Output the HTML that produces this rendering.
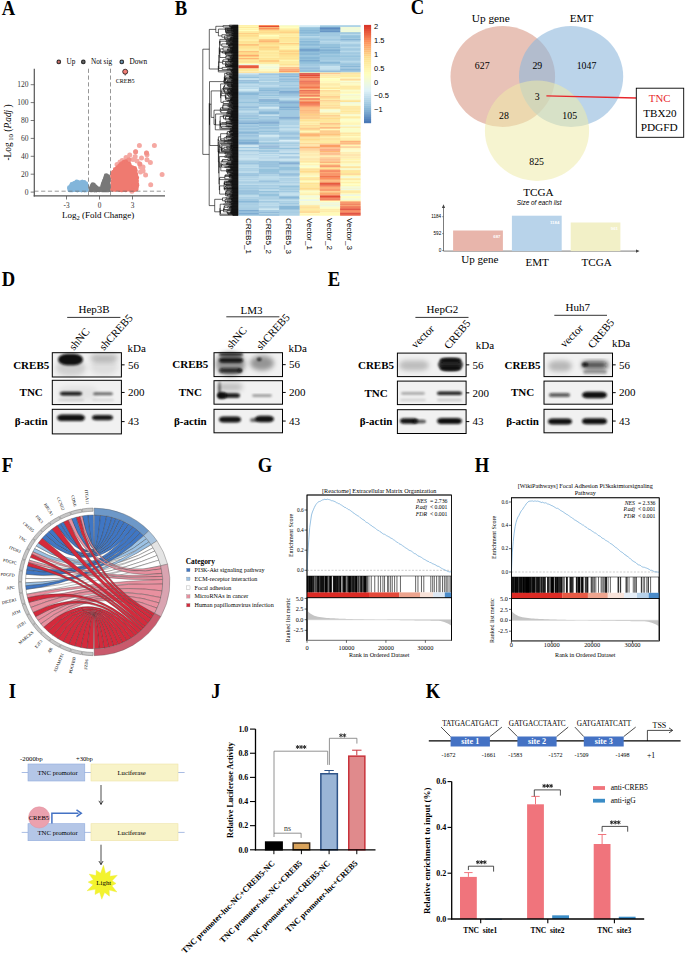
<!DOCTYPE html>
<html><head><meta charset="utf-8"><style>
html,body{margin:0;padding:0;background:#fff;}
svg{display:block;}
</style></head><body>
<svg width="685" height="954" viewBox="0 0 685 954">
<defs><filter id="blur1" x="-50%" y="-50%" width="200%" height="200%"><feGaussianBlur stdDeviation="0.9"/></filter><filter id="blur2" x="-50%" y="-50%" width="200%" height="200%"><feGaussianBlur stdDeviation="2.5"/></filter></defs>
<rect width="685" height="954" fill="#fff"/>
<text transform="translate(1.80 15.20) scale(1 1.1)" font-size="18.6" font-weight="bold" font-family='"Liberation Serif", serif'>A</text>
<circle cx="58.80" cy="61.90" r="2.35" fill="#2a2a2a" stroke="none" stroke-width="1"/>
<line x1="57.45" y1="61.90" x2="60.15" y2="61.90" stroke="#F07E76" stroke-width="0.95"/>
<line x1="58.80" y1="60.55" x2="58.80" y2="63.25" stroke="#F07E76" stroke-width="0.95"/>
<text x="66.40" y="64.20" font-size="7.25" text-anchor="start" font-family='"Liberation Serif", serif'>Up</text>
<circle cx="83.30" cy="61.90" r="2.35" fill="#2a2a2a" stroke="none" stroke-width="1"/>
<line x1="81.95" y1="61.90" x2="84.65" y2="61.90" stroke="#6E6E6E" stroke-width="0.95"/>
<line x1="83.30" y1="60.55" x2="83.30" y2="63.25" stroke="#6E6E6E" stroke-width="0.95"/>
<text x="90.90" y="64.20" font-size="7.25" text-anchor="start" font-family='"Liberation Serif", serif'>Not sig</text>
<circle cx="121.80" cy="61.90" r="2.35" fill="#2a2a2a" stroke="none" stroke-width="1"/>
<line x1="120.45" y1="61.90" x2="123.15" y2="61.90" stroke="#7FB3D8" stroke-width="0.95"/>
<line x1="121.80" y1="60.55" x2="121.80" y2="63.25" stroke="#7FB3D8" stroke-width="0.95"/>
<text x="129.40" y="64.20" font-size="7.25" text-anchor="start" font-family='"Liberation Serif", serif'>Down</text>
<path d="M107.1 182.0h0M92.1 187.1h0M108.2 189.5h0M108.5 189.9h0M105.6 185.6h0M104.3 181.0h0M105.7 180.8h0M107.7 187.7h0M106.9 182.0h0M108.1 181.0h0M107.9 186.4h0M93.9 186.0h0M92.9 184.7h0M108.0 187.1h0M96.0 188.3h0M105.9 184.6h0M92.3 189.8h0M107.8 182.3h0M106.9 187.3h0M103.8 189.1h0M94.0 189.3h0M106.4 184.1h0M91.2 189.4h0M95.1 187.4h0M93.7 185.8h0M107.0 178.1h0M97.0 188.4h0M108.1 184.9h0M90.8 188.7h0M103.1 189.4h0M96.2 190.0h0M103.8 188.5h0M103.8 185.6h0M104.8 188.7h0M106.7 188.1h0M106.0 183.6h0M108.4 188.2h0M103.7 183.7h0M92.0 186.3h0M101.6 188.8h0M106.8 184.9h0M105.0 188.7h0M106.3 180.8h0M105.6 187.7h0M103.3 189.3h0M96.2 187.6h0M108.2 181.8h0M106.2 175.6h0M103.3 183.6h0M105.4 178.6h0M105.0 189.4h0M106.8 176.3h0M107.3 185.8h0M101.8 188.6h0M106.3 187.0h0M107.5 182.0h0M103.5 187.3h0M94.3 188.5h0M108.1 189.7h0M96.3 188.6h0M105.9 180.2h0M105.6 185.3h0M107.5 182.4h0M107.6 176.3h0M105.7 183.4h0M105.7 188.5h0M94.2 187.8h0M107.9 182.9h0M107.9 182.7h0M107.7 188.9h0M105.2 188.5h0M107.2 176.9h0M92.4 186.0h0M105.8 184.2h0M105.9 178.5h0M103.8 187.2h0M106.7 179.7h0M96.2 188.8h0M94.4 190.0h0M106.5 177.0h0M105.5 181.3h0M102.8 188.7h0M107.9 176.7h0M105.6 189.9h0M107.2 176.4h0M91.6 189.3h0M103.1 187.7h0M106.6 187.0h0M103.2 187.9h0M108.2 187.1h0M95.1 188.7h0M103.9 186.7h0M105.2 181.1h0M106.6 188.2h0M103.0 186.5h0M104.3 181.1h0M94.7 189.2h0M103.1 186.4h0M95.0 188.6h0M107.9 183.5h0M91.3 189.0h0M107.5 181.3h0M93.3 186.3h0M108.3 189.2h0M91.8 188.6h0M108.0 178.7h0M108.1 187.3h0M104.5 183.0h0M108.5 189.3h0M92.5 188.4h0M104.6 184.4h0M95.0 189.7h0M107.0 188.2h0M103.9 187.6h0M105.1 184.4h0M105.1 180.5h0M102.3 189.8h0M103.9 188.8h0M92.2 188.1h0M103.5 185.4h0M103.3 183.5h0M107.0 189.1h0M106.9 181.6h0M105.0 179.6h0M107.3 188.4h0M104.8 183.1h0M105.6 183.4h0M93.7 186.4h0M106.4 179.2h0M107.9 184.8h0M103.8 188.5h0M93.1 186.2h0M94.5 186.5h0M107.9 185.1h0M103.5 185.6h0M107.0 181.2h0M105.4 185.0h0M105.9 187.1h0M105.5 188.3h0M107.7 184.6h0M104.9 181.3h0M103.8 189.9h0M95.8 189.5h0M101.0 188.6h0M93.6 186.4h0M105.2 182.2h0M95.2 188.3h0M107.0 180.1h0M100.4 189.4h0M91.4 189.2h0M104.9 180.8h0M95.4 189.9h0M103.3 184.1h0M106.1 182.7h0M102.0 189.9h0M93.2 186.6h0M105.7 187.3h0M107.7 183.8h0M105.9 179.6h0M104.7 181.3h0M107.0 176.4h0M105.4 178.1h0M93.3 187.5h0M105.4 184.8h0M90.7 189.9h0M107.5 183.4h0M102.7 185.6h0M105.6 183.9h0M107.1 181.4h0M104.3 187.3h0M108.2 186.8h0M105.4 184.2h0M93.4 186.5h0M106.8 183.2h0M93.1 185.7h0M103.4 187.5h0M94.0 189.2h0M96.4 188.9h0M92.7 189.6h0M92.9 188.6h0M106.9 189.9h0M105.2 184.0h0M92.7 187.4h0M95.7 188.5h0M105.5 177.8h0M108.3 189.1h0M102.6 186.1h0M107.8 184.0h0M104.1 186.3h0M99.2 189.9h0M105.6 187.8h0M100.7 188.6h0M103.6 188.5h0M103.7 184.0h0M106.9 189.5h0M102.5 188.0h0M94.5 186.2h0M100.7 188.6h0M92.3 186.9h0M106.6 187.2h0M91.1 188.5h0M107.3 189.7h0M95.8 188.8h0M106.6 177.9h0M105.6 180.3h0M106.3 189.9h0M93.9 188.2h0M106.7 188.0h0M103.0 189.1h0M102.5 186.9h0M106.4 183.8h0M107.2 185.0h0M92.1 189.7h0M95.0 187.0h0M93.9 188.5h0M97.4 188.9h0M104.6 182.8h0M107.6 177.6h0M104.7 186.9h0M95.2 187.0h0M91.8 188.6h0M92.1 187.3h0M93.4 185.4h0M105.5 186.8h0M106.5 177.1h0M91.1 189.9h0M104.2 186.0h0M108.2 184.2h0M106.1 183.9h0M106.5 181.9h0M106.0 178.1h0M97.6 188.9h0M107.4 180.4h0M104.3 185.9h0M92.0 188.2h0M103.6 185.0h0M106.1 178.4h0M108.1 179.5h0M102.6 188.8h0M102.5 189.3h0M106.1 178.5h0M93.5 185.0h0M106.6 183.5h0M101.6 189.3h0M107.5 186.6h0M95.5 187.4h0M106.3 180.7h0M107.9 180.0h0M96.7 188.3h0M103.0 185.3h0M107.9 187.4h0M104.0 183.0h0M92.3 185.6h0M104.4 182.2h0M93.4 188.0h0M106.2 175.8h0M104.8 180.9h0M105.7 187.4h0M103.2 184.3h0M105.5 187.0h0" stroke="#787878" stroke-width="4.8" stroke-linecap="round" fill="none"/>
<path d="M80.9 183.5h0M79.3 189.5h0M81.2 185.1h0M80.2 184.9h0M85.8 189.9h0M69.4 187.6h0M73.8 187.7h0M78.5 185.6h0M75.4 184.1h0M83.3 188.6h0M73.7 184.8h0M79.9 188.0h0M81.3 186.1h0M83.3 182.7h0M85.8 183.6h0M77.5 182.5h0M79.0 182.7h0M80.1 183.8h0M72.7 185.6h0M75.3 183.7h0M85.0 184.1h0M77.4 190.0h0M72.2 188.9h0M77.5 185.0h0M83.4 184.9h0M80.7 186.8h0M73.6 189.5h0M84.5 190.0h0M76.7 188.6h0M81.9 183.0h0M75.1 187.9h0M74.2 185.9h0M78.3 188.4h0M83.2 187.8h0M75.9 188.3h0M83.8 188.0h0M86.1 184.9h0M81.5 183.6h0M79.2 183.4h0M75.7 184.6h0M80.7 188.4h0M75.2 186.9h0M75.0 183.9h0M85.2 184.2h0M82.2 183.3h0M82.2 186.1h0M81.1 183.0h0M75.0 185.2h0M76.0 184.2h0M78.4 189.6h0M72.3 189.0h0M74.4 187.9h0M70.5 189.9h0M76.5 189.7h0M72.6 185.0h0M81.6 183.0h0M73.6 187.3h0M86.0 184.2h0M71.9 184.5h0M80.2 184.7h0M80.4 183.3h0M79.9 189.0h0M84.3 186.8h0M77.8 186.3h0M70.6 188.6h0M81.3 185.4h0M80.8 185.1h0M75.6 183.5h0M79.6 186.4h0M80.1 185.3h0M79.5 186.6h0M77.2 189.9h0M82.2 184.2h0M82.1 189.9h0M75.9 188.9h0M70.8 189.9h0M77.6 183.5h0M84.0 187.0h0M85.8 188.5h0M83.3 185.8h0M84.6 187.5h0M73.1 188.4h0M76.9 186.1h0M84.5 183.2h0M73.7 187.0h0M83.1 185.7h0M73.0 188.3h0M84.3 188.1h0M78.7 189.2h0M83.2 182.8h0M84.5 188.6h0M75.7 188.7h0M79.9 189.2h0M69.8 189.9h0M72.3 186.8h0M84.7 187.7h0M72.1 187.2h0M74.8 184.2h0M80.1 183.9h0M79.7 187.4h0M81.3 185.5h0M85.9 186.7h0M75.1 183.2h0M82.1 184.6h0M74.2 185.0h0M71.2 186.9h0M76.4 188.5h0M76.1 185.4h0M77.9 189.5h0M74.9 187.5h0M72.8 186.4h0M73.8 188.9h0M73.8 188.8h0M81.0 185.4h0M85.8 184.8h0M82.3 186.6h0M76.8 182.0h0M76.3 183.9h0M76.7 189.6h0M73.9 187.4h0M80.9 183.6h0M76.1 182.6h0M85.1 183.6h0M76.3 184.4h0M83.7 188.7h0M79.4 186.1h0M70.3 189.1h0M75.4 187.6h0M80.9 184.4h0M85.1 189.6h0M77.2 184.6h0M77.1 184.2h0M80.9 186.6h0M86.5 189.8h0M83.8 187.0h0M81.5 190.0h0M75.9 187.1h0M72.5 189.9h0M72.4 184.6h0M82.2 182.2h0M71.6 187.0h0M80.0 187.8h0M73.2 188.4h0M82.0 188.1h0M86.0 189.1h0M78.4 186.0h0M70.6 188.2h0M74.1 185.8h0M70.8 186.3h0M78.0 184.0h0M82.9 183.6h0M72.5 185.3h0M78.8 185.4h0M84.2 182.4h0M84.2 182.8h0M86.5 186.0h0M76.0 186.7h0M84.5 189.7h0M71.3 188.5h0M82.1 187.6h0M71.4 186.0h0M74.1 189.7h0M80.4 188.7h0M70.6 189.3h0M74.6 185.7h0M80.6 189.0h0M86.0 186.3h0M77.8 189.2h0M75.8 184.0h0M82.2 183.7h0M75.3 185.1h0M77.3 184.5h0M76.5 185.3h0M69.4 188.6h0M78.6 184.9h0M75.4 184.2h0M77.5 183.5h0M82.4 185.6h0M79.5 189.7h0M75.3 186.6h0M75.3 184.1h0M79.8 186.5h0M74.3 185.7h0M78.0 187.9h0M73.2 183.8h0M83.2 185.1h0M84.4 184.9h0M73.8 187.3h0M70.1 189.9h0M83.9 184.3h0M74.4 188.5h0M83.1 187.0h0M69.5 188.0h0M78.7 189.4h0M85.8 187.9h0M82.1 185.1h0M81.1 189.9h0M83.0 185.2h0M82.4 184.7h0M76.8 185.2h0M82.1 182.1h0M70.6 188.6h0M80.8 186.2h0M74.2 189.6h0M78.9 189.3h0M72.4 185.0h0M78.4 188.6h0M70.8 188.9h0M76.5 184.7h0M81.0 189.4h0M77.6 187.4h0M75.7 188.1h0M70.4 187.8h0M71.6 186.5h0M72.2 184.4h0M79.4 185.9h0M75.7 186.4h0M84.1 184.5h0M79.3 185.6h0M81.4 183.5h0" stroke="#82B5DA" stroke-width="4.8" stroke-linecap="round" fill="none"/>
<path d="M118.9 182.2h0M126.6 168.5h0M114.1 184.9h0M121.8 181.8h0M123.1 178.9h0M126.2 189.3h0M134.8 174.2h0M124.4 167.7h0M120.0 185.6h0M113.4 181.3h0M126.4 177.0h0M120.7 165.4h0M135.8 183.2h0M131.7 167.3h0M117.4 176.5h0M127.4 164.5h0M131.2 177.9h0M134.5 187.8h0M129.4 171.6h0M135.8 181.8h0M119.6 185.9h0M130.3 168.7h0M125.7 168.4h0M119.7 168.3h0M115.7 175.1h0M119.2 169.3h0M119.3 175.8h0M133.6 185.8h0M127.4 176.8h0M130.5 176.5h0M128.7 187.7h0M131.5 168.5h0M113.8 188.2h0M121.4 183.8h0M118.2 174.1h0M121.6 182.1h0M135.6 175.7h0M126.4 171.1h0M118.2 188.5h0M115.2 188.3h0M126.4 164.5h0M113.2 177.6h0M136.6 180.9h0M133.5 183.8h0M125.3 163.2h0M125.4 166.4h0M125.4 171.3h0M124.7 166.7h0M129.8 173.1h0M124.4 163.3h0M124.4 177.2h0M136.3 177.3h0M115.8 169.7h0M120.7 181.4h0M135.5 189.3h0M135.8 187.8h0M133.5 188.1h0M113.0 175.2h0M127.0 180.9h0M127.5 178.8h0M125.2 188.8h0M133.8 188.8h0M132.8 181.0h0M125.2 177.8h0M131.1 184.4h0M132.0 189.3h0M132.9 172.8h0M120.7 171.1h0M112.9 183.3h0M118.9 178.0h0M125.4 170.7h0M129.0 174.2h0M118.2 186.6h0M118.7 174.9h0M131.7 170.7h0M118.3 180.0h0M118.9 176.2h0M118.7 186.4h0M119.9 170.6h0M130.3 180.5h0M131.9 176.7h0M114.4 183.1h0M118.5 167.3h0M122.7 189.7h0M121.6 171.3h0M134.8 189.7h0M122.0 164.9h0M131.8 183.7h0M120.8 183.9h0M121.8 169.3h0M127.0 182.5h0M124.2 184.7h0M112.8 175.5h0M117.5 186.5h0M136.0 188.0h0M120.9 188.0h0M116.0 181.7h0M115.8 180.7h0M134.1 182.1h0M135.8 174.2h0M121.6 164.5h0M119.2 188.2h0M120.0 166.3h0M115.5 176.3h0M125.7 177.5h0M131.2 176.3h0M120.1 183.1h0M135.1 175.6h0M116.4 170.6h0M126.4 169.5h0M131.9 189.2h0M123.8 178.5h0M133.2 174.5h0M117.2 188.4h0M131.2 172.6h0M116.7 182.4h0M117.9 184.2h0M124.7 179.9h0M123.9 166.3h0M127.7 171.7h0M124.1 179.1h0M120.3 171.3h0M134.2 177.8h0M122.7 176.7h0M123.8 170.6h0M135.4 185.7h0M125.0 189.6h0M119.6 166.0h0M130.2 167.8h0M126.8 165.6h0M114.9 180.9h0M121.0 177.2h0M124.7 187.8h0M125.1 172.0h0M112.5 175.4h0M119.1 177.7h0M128.0 174.4h0M114.7 175.4h0M124.3 179.6h0M123.3 163.5h0M132.1 167.8h0M132.8 184.1h0M118.7 187.2h0M124.8 173.4h0M126.1 188.4h0M124.5 175.0h0M119.6 185.4h0M124.8 170.9h0M132.9 184.3h0M136.5 187.6h0M129.3 184.1h0M129.9 184.5h0M132.5 169.8h0M118.5 187.7h0M113.1 175.8h0M120.9 184.0h0M127.5 187.4h0M135.3 179.7h0M114.1 180.3h0M115.2 189.5h0M133.8 170.0h0M117.1 181.1h0M131.1 189.6h0M127.8 164.6h0M133.8 183.3h0M131.7 186.3h0M126.4 188.4h0M128.2 175.3h0M121.9 171.2h0M132.0 167.6h0M128.5 183.5h0M129.5 176.0h0M120.2 168.9h0M117.1 179.8h0M129.3 188.3h0M120.6 187.9h0M134.8 169.4h0M135.8 179.0h0M136.1 183.5h0M120.7 169.1h0M125.3 175.1h0M113.4 186.0h0M125.6 174.7h0M130.7 168.2h0M117.4 177.8h0M118.4 170.5h0M121.2 176.3h0M135.7 179.5h0M122.7 172.8h0M118.3 174.7h0M123.1 180.9h0M131.2 177.1h0M128.2 188.2h0M134.6 168.3h0M125.8 189.9h0M125.4 166.5h0M116.2 177.0h0M119.2 181.9h0M130.3 170.3h0M131.3 179.8h0M129.8 174.2h0M123.1 164.1h0M124.1 188.7h0M129.5 173.7h0M115.6 173.3h0M126.5 182.6h0M122.4 179.8h0M129.2 178.9h0M113.6 181.6h0M114.3 172.3h0M124.0 164.1h0M135.9 185.7h0M124.4 178.0h0M120.2 189.5h0M115.4 169.8h0M117.9 186.1h0M125.0 172.9h0M122.3 186.7h0M118.8 183.9h0M129.8 174.0h0M121.5 173.7h0M123.6 170.2h0M127.8 172.9h0M119.9 183.4h0M123.7 174.7h0M134.0 174.2h0M121.7 187.0h0M136.4 183.8h0M122.3 180.5h0M130.7 169.6h0M130.2 188.5h0M128.6 180.4h0M123.2 179.9h0M118.0 183.3h0M125.7 189.4h0M120.9 181.6h0M112.9 173.1h0M131.3 168.5h0M127.5 167.4h0M122.3 189.8h0M117.3 187.5h0M114.0 177.9h0M132.6 185.3h0M122.1 178.1h0M129.9 183.1h0M130.8 177.8h0M118.7 181.5h0M126.3 176.8h0M131.6 170.4h0M130.3 188.6h0M119.2 177.4h0M125.4 175.4h0M116.6 179.1h0M134.4 180.2h0M119.6 184.4h0M122.8 165.2h0M127.3 174.4h0M125.5 189.7h0M126.5 188.7h0M121.1 183.0h0M129.5 181.0h0M132.8 172.0h0M119.2 171.4h0M125.7 161.7h0M121.7 180.1h0M116.1 170.0h0M133.9 188.1h0M132.0 182.4h0M119.0 175.2h0M132.6 185.9h0M117.7 181.4h0M129.6 170.8h0M124.1 170.1h0M123.3 184.6h0M126.5 178.7h0M118.0 179.0h0M116.2 189.0h0M120.9 173.8h0M123.1 185.0h0M134.9 180.6h0M116.7 171.3h0M129.8 167.3h0M134.1 186.3h0M118.0 171.6h0M118.1 181.8h0M113.7 181.2h0M114.0 185.4h0M125.8 177.9h0M121.2 189.6h0M127.2 186.0h0M113.0 181.2h0M116.8 168.9h0M128.8 181.2h0M120.4 174.6h0M119.6 177.3h0M121.2 171.4h0M118.6 169.5h0M120.1 178.2h0M133.2 174.6h0M125.0 170.0h0M134.2 182.9h0M127.8 180.1h0M129.5 175.5h0M122.6 172.3h0M124.9 174.6h0M125.5 176.5h0M131.8 186.9h0M132.0 179.0h0M119.5 166.5h0M133.8 185.2h0M129.2 181.1h0M130.7 174.2h0M122.2 177.0h0M134.1 189.7h0M135.0 185.2h0M136.3 176.8h0M125.1 170.0h0M133.6 176.0h0M116.1 172.3h0M128.2 164.2h0M126.3 188.2h0M123.2 183.1h0M127.0 177.9h0M116.7 174.5h0M134.6 180.6h0M117.8 174.0h0M125.8 170.8h0M126.7 179.3h0M128.6 167.2h0M114.3 183.1h0M120.7 188.8h0M126.2 163.9h0M128.1 168.6h0M132.5 182.0h0M113.3 184.1h0M124.1 188.8h0M120.4 168.5h0M128.1 178.8h0M126.3 172.1h0M132.7 168.3h0M130.0 166.4h0M124.6 189.1h0M118.4 169.1h0M135.0 180.6h0M118.3 169.4h0M133.2 181.3h0M136.5 180.4h0M127.9 172.1h0M130.1 175.3h0M113.9 175.3h0M121.9 176.4h0M120.6 165.3h0M127.0 187.5h0M116.9 175.5h0M124.7 183.2h0M126.3 167.9h0M117.1 182.0h0M114.4 186.1h0M124.0 185.5h0M127.7 182.6h0M131.1 181.9h0M113.8 184.9h0M134.0 172.0h0M133.2 178.4h0M115.3 169.3h0M117.4 179.6h0M125.6 171.9h0M116.2 177.5h0M124.9 172.3h0M124.1 162.2h0M127.6 166.6h0M134.2 178.0h0M122.1 176.7h0M121.9 181.5h0M121.6 181.5h0M119.5 169.5h0M130.9 183.7h0M129.6 187.8h0M117.0 172.4h0M133.4 183.2h0M115.3 189.4h0M130.6 186.1h0M121.4 178.6h0M136.0 187.0h0M126.6 186.8h0M137.0 185.3h0M128.6 188.8h0M116.0 172.7h0M126.3 164.8h0M127.9 169.1h0M120.4 178.6h0M117.2 174.0h0M133.5 189.6h0M118.9 171.6h0M129.5 166.5h0M126.1 170.8h0M119.2 189.7h0M130.0 167.7h0M124.3 182.0h0M133.5 188.1h0M122.8 170.2h0M122.2 170.1h0M130.7 174.4h0M129.3 165.4h0M131.7 189.0h0M117.5 178.9h0M122.6 166.3h0M130.4 177.6h0M129.0 189.1h0M113.4 174.3h0M132.7 180.8h0M125.9 185.8h0M121.6 164.3h0M125.5 164.7h0M127.3 184.9h0M120.9 164.5h0M128.9 182.1h0M134.2 177.1h0M126.8 186.0h0M129.1 189.3h0M119.5 183.5h0M128.0 174.6h0M112.8 174.8h0M119.0 178.4h0M125.0 175.8h0M127.4 180.8h0M136.8 184.0h0M119.6 174.2h0M124.9 184.3h0M122.2 187.7h0M124.4 172.5h0M124.3 171.4h0M122.3 163.3h0M129.1 165.4h0M116.2 173.3h0M127.3 183.1h0M123.4 169.6h0M121.5 186.8h0M134.2 175.0h0M134.3 182.7h0M114.1 180.6h0M117.7 173.9h0M135.4 170.7h0M116.0 183.6h0M128.5 174.6h0M134.6 183.9h0M127.3 174.6h0M119.9 187.6h0M117.6 179.7h0M114.3 187.8h0M135.7 178.9h0M120.3 182.0h0M134.6 184.1h0M113.5 175.6h0M115.9 176.8h0M135.8 186.1h0M118.6 177.0h0M120.3 165.9h0M130.7 183.0h0M120.7 173.2h0M129.6 182.1h0M123.9 164.4h0M132.7 175.4h0M128.3 171.6h0M121.5 166.1h0M136.4 178.6h0M115.7 181.4h0M127.1 178.8h0M131.4 178.6h0M134.0 189.1h0M122.5 179.8h0M121.7 172.9h0M121.5 179.8h0M121.1 171.2h0M133.2 184.2h0M129.1 185.5h0M122.0 179.6h0M118.7 170.1h0M115.0 184.2h0M135.1 169.8h0M121.8 164.4h0M116.0 179.5h0M118.7 183.0h0M118.0 186.5h0M121.1 174.7h0M117.4 169.4h0M122.9 169.1h0M128.2 184.3h0M120.5 166.6h0M131.9 178.5h0M112.9 174.1h0M127.2 170.3h0M113.4 173.2h0M121.2 189.2h0M121.3 187.8h0M133.8 177.7h0M115.6 184.4h0M114.7 177.2h0M122.6 165.5h0M136.8 177.8h0M134.5 188.7h0M131.1 179.7h0M124.1 183.6h0M128.9 165.6h0M125.5 173.0h0M125.1 181.7h0M129.4 177.5h0M131.8 184.9h0M123.3 174.5h0M126.3 169.1h0M131.6 170.6h0M133.2 184.3h0M112.5 176.9h0M114.8 186.6h0M131.3 178.1h0M128.8 173.0h0M125.3 166.9h0M123.8 168.5h0M129.1 164.1h0M125.6 177.9h0M112.6 189.6h0M133.0 172.0h0M116.4 185.0h0M131.0 184.7h0M118.2 187.1h0M134.8 174.7h0M115.6 171.2h0M118.4 179.8h0M130.1 183.5h0M123.2 174.2h0M124.0 171.7h0M123.7 180.9h0M129.9 170.5h0M126.4 165.2h0M113.6 172.2h0M114.4 173.3h0M135.6 185.3h0M121.5 170.0h0M115.9 178.1h0M133.1 172.1h0M112.9 183.2h0M118.2 182.0h0M117.1 170.1h0M131.3 182.4h0M119.9 174.1h0M121.2 174.7h0M131.9 168.6h0M132.4 187.7h0M127.2 188.8h0M119.9 173.8h0M133.1 180.7h0M117.5 187.0h0M133.7 175.8h0M119.7 173.1h0M135.6 178.3h0M118.5 182.2h0M120.8 167.6h0M122.6 176.8h0M122.3 177.4h0M129.0 170.7h0M124.5 172.0h0M119.8 169.6h0M134.0 171.4h0M123.4 176.2h0M131.7 177.1h0M124.6 171.0h0M130.9 175.6h0M131.9 185.2h0M134.4 182.1h0M129.0 174.4h0M125.6 177.8h0M125.4 184.8h0M130.9 178.9h0M127.2 187.3h0M113.7 174.8h0M121.7 188.5h0M116.5 177.3h0M116.0 182.9h0M124.5 182.3h0M120.0 186.6h0M130.5 186.5h0M131.5 169.0h0M114.5 181.6h0M135.4 176.3h0M113.3 174.9h0M134.2 188.1h0M115.5 173.9h0M119.2 180.5h0M115.2 170.7h0M122.6 174.7h0M123.2 178.3h0M135.5 188.0h0M134.7 185.0h0M118.1 168.1h0M123.8 179.7h0M127.4 171.1h0M117.6 182.2h0M118.3 168.0h0M131.8 187.0h0M136.2 189.2h0M130.1 174.7h0M130.8 183.3h0M125.0 168.9h0M125.4 180.2h0M120.4 179.5h0M116.1 189.2h0M117.7 167.6h0M136.0 188.6h0M135.2 185.4h0M133.3 184.8h0M126.4 163.2h0M130.4 185.2h0M114.0 182.2h0M124.5 186.9h0M129.1 180.3h0M129.5 171.7h0M134.6 182.0h0M132.2 174.4h0M117.5 174.1h0M129.2 176.9h0M122.2 168.1h0M118.1 167.4h0M122.7 181.2h0M134.9 180.6h0M113.0 186.2h0M127.4 182.2h0M127.5 171.3h0M129.2 187.4h0M128.9 178.6h0M132.3 188.8h0M132.4 189.7h0M127.6 179.5h0M133.6 178.8h0M132.9 179.1h0M136.6 178.2h0M133.4 183.4h0M134.5 172.5h0M121.1 189.8h0M122.2 169.0h0M120.0 172.5h0M115.5 178.3h0M122.9 184.3h0M120.8 189.3h0M117.3 176.4h0M119.9 187.0h0M119.6 175.2h0M125.3 168.7h0M125.6 162.9h0M121.1 169.3h0M132.5 183.3h0" stroke="#EF7A70" stroke-width="4.8" stroke-linecap="round" fill="none"/>
<path d="M139.4 145.4h0M154.4 145.4h0M135.6 151.8h0M146.5 153.1h0M147.0 154.8h0M129.7 155.1h0M135.2 156.5h0M141.5 158.0h0M128.9 159.8h0M147.0 159.8h0M150.4 162.4h0M122.1 160.5h0M139.8 163.9h0M140.6 166.9h0M143.1 170.8h0M145.6 175.0h0M162.1 174.4h0M150.7 184.7h0M133.9 185.7h0M131.9 191.2h0M137.0 161.0h0M126.0 157.5h0M143.0 167.0h0M140.5 172.0h0M133.0 159.5h0M117.0 164.5h0M120.0 162.0h0" stroke="#EF7A70" stroke-width="5.0" stroke-linecap="round" fill="none" stroke-opacity="0.65"/>
<path d="M128.9 159.8h0M135.6 151.8h0M139.8 163.9h0M146.5 153.1h0" stroke="#EF7A70" stroke-width="5.0" stroke-linecap="round" fill="none" stroke-opacity="0.5"/>
<line x1="88.50" y1="68.70" x2="88.50" y2="195.50" stroke="#6a6a6a" stroke-width="0.7" stroke-dasharray="4.2,2.6"/>
<line x1="110.50" y1="68.70" x2="110.50" y2="195.50" stroke="#6a6a6a" stroke-width="0.7" stroke-dasharray="4.2,2.6"/>
<line x1="34.30" y1="191.20" x2="165.00" y2="191.20" stroke="#6a6a6a" stroke-width="0.7" stroke-dasharray="4.2,2.6"/>
<line x1="125.20" y1="72.00" x2="125.20" y2="75.60" stroke="#000" stroke-width="0.6"/>
<circle cx="125.20" cy="71.70" r="2.50" fill="#F07E76" stroke="#000" stroke-width="0.7"/>
<text x="125.20" y="82.70" font-size="6.1" text-anchor="middle" font-family='"Liberation Serif", serif'>CREB5</text>
<line x1="34.30" y1="68.70" x2="34.30" y2="196.50" stroke="#555" stroke-width="1.2"/>
<line x1="33.70" y1="195.90" x2="165.00" y2="195.90" stroke="#555" stroke-width="1.2"/>
<line x1="30.70" y1="192.10" x2="34.30" y2="192.10" stroke="#555" stroke-width="0.8"/>
<text x="28.40" y="194.70" font-size="7.5" text-anchor="end" font-family='"Liberation Serif", serif' fill="#333">0</text>
<line x1="30.70" y1="174.20" x2="34.30" y2="174.20" stroke="#555" stroke-width="0.8"/>
<text x="28.40" y="176.80" font-size="7.5" text-anchor="end" font-family='"Liberation Serif", serif' fill="#333">20</text>
<line x1="30.70" y1="156.30" x2="34.30" y2="156.30" stroke="#555" stroke-width="0.8"/>
<text x="28.40" y="158.90" font-size="7.5" text-anchor="end" font-family='"Liberation Serif", serif' fill="#333">40</text>
<line x1="30.70" y1="138.40" x2="34.30" y2="138.40" stroke="#555" stroke-width="0.8"/>
<text x="28.40" y="141.00" font-size="7.5" text-anchor="end" font-family='"Liberation Serif", serif' fill="#333">60</text>
<line x1="30.70" y1="120.50" x2="34.30" y2="120.50" stroke="#555" stroke-width="0.8"/>
<text x="28.40" y="123.10" font-size="7.5" text-anchor="end" font-family='"Liberation Serif", serif' fill="#333">80</text>
<line x1="30.70" y1="102.60" x2="34.30" y2="102.60" stroke="#555" stroke-width="0.8"/>
<text x="28.40" y="105.20" font-size="7.5" text-anchor="end" font-family='"Liberation Serif", serif' fill="#333">100</text>
<line x1="30.70" y1="84.70" x2="34.30" y2="84.70" stroke="#555" stroke-width="0.8"/>
<text x="28.40" y="87.30" font-size="7.5" text-anchor="end" font-family='"Liberation Serif", serif' fill="#333">120</text>
<line x1="66.50" y1="196.00" x2="66.50" y2="199.50" stroke="#555" stroke-width="0.8"/>
<text x="66.50" y="208.00" font-size="7.3" text-anchor="middle" font-family='"Liberation Serif", serif' fill="#333">-3</text>
<line x1="99.50" y1="196.00" x2="99.50" y2="199.50" stroke="#555" stroke-width="0.8"/>
<text x="99.50" y="208.00" font-size="7.3" text-anchor="middle" font-family='"Liberation Serif", serif' fill="#333">0</text>
<line x1="132.50" y1="196.00" x2="132.50" y2="199.50" stroke="#555" stroke-width="0.8"/>
<text x="132.50" y="208.00" font-size="7.3" text-anchor="middle" font-family='"Liberation Serif", serif' fill="#333">3</text>
<text x="98.1" y="218" font-size="9" text-anchor="middle" font-family='"Liberation Serif", serif'>Log<tspan font-size="6.6" dy="2.2">2</tspan><tspan dy="-2.2"> (Fold Change)</tspan></text>
<text x="10.7" y="132.5" font-size="9.3" text-anchor="middle" font-family='"Liberation Serif", serif' transform="rotate(-90 10.7 132.5)">-Log<tspan font-size="6.8" dy="2.2"> 10</tspan><tspan dy="-2.2">  (</tspan><tspan font-style="italic">P.adj</tspan> )</text>
<text transform="translate(174.80 14.70) scale(1 1.1)" font-size="18.6" font-weight="bold" font-family='"Liberation Serif", serif'>B</text>
<path d="M238.4 25.00h20.5v1.20h-20.5zM238.4 29.01h20.5v1.20h-20.5zM238.4 39.04h20.5v1.20h-20.5zM238.4 40.05h20.5v1.20h-20.5zM258.8 34.03h20.5v1.20h-20.5zM258.8 37.04h20.5v1.20h-20.5zM258.8 38.04h20.5v1.20h-20.5zM258.8 51.08h20.5v1.20h-20.5zM258.8 57.10h20.5v1.20h-20.5zM258.8 62.12h20.5v1.20h-20.5zM279.1 28.01h20.5v1.20h-20.5zM279.1 34.03h20.5v1.20h-20.5zM279.1 36.03h20.5v1.20h-20.5zM279.1 42.05h20.5v1.20h-20.5zM279.1 47.07h20.5v1.20h-20.5zM279.1 66.13h20.5v1.20h-20.5zM299.4 122.31h20.5v1.20h-20.5zM299.4 130.33h20.5v1.20h-20.5zM299.4 156.41h20.5v1.20h-20.5zM299.4 163.44h20.5v1.20h-20.5zM299.4 191.52h20.5v1.20h-20.5zM319.8 72.15h20.5v1.20h-20.5zM319.8 76.16h20.5v1.20h-20.5zM319.8 77.16h20.5v1.20h-20.5zM319.8 81.18h20.5v1.20h-20.5zM319.8 86.19h20.5v1.20h-20.5zM319.8 103.25h20.5v1.20h-20.5zM319.8 114.28h20.5v1.20h-20.5zM319.8 116.29h20.5v1.20h-20.5zM319.8 128.33h20.5v1.20h-20.5zM319.8 137.35h20.5v1.20h-20.5zM319.8 211.59h20.5v1.20h-20.5zM340.1 80.17h20.5v1.20h-20.5zM340.1 85.19h20.5v1.20h-20.5zM340.1 91.21h20.5v1.20h-20.5zM340.1 95.22h20.5v1.20h-20.5zM340.1 99.23h20.5v1.20h-20.5zM340.1 123.31h20.5v1.20h-20.5zM340.1 134.34h20.5v1.20h-20.5zM340.1 151.40h20.5v1.20h-20.5zM340.1 160.43h20.5v1.20h-20.5zM340.1 167.45h20.5v1.20h-20.5zM340.1 181.49h20.5v1.20h-20.5zM340.1 182.50h20.5v1.20h-20.5zM340.1 187.51h20.5v1.20h-20.5zM340.1 200.55h20.5v1.20h-20.5z" fill="#fff1aa"/>
<path d="M238.4 26.00h20.5v1.20h-20.5zM258.8 36.03h20.5v1.20h-20.5zM258.8 69.14h20.5v1.20h-20.5zM279.1 46.07h20.5v1.20h-20.5zM279.1 48.07h20.5v1.20h-20.5zM299.4 124.31h20.5v1.20h-20.5zM299.4 131.33h20.5v1.20h-20.5zM299.4 164.44h20.5v1.20h-20.5zM299.4 179.49h20.5v1.20h-20.5zM299.4 180.49h20.5v1.20h-20.5zM319.8 85.19h20.5v1.20h-20.5zM319.8 129.33h20.5v1.20h-20.5zM319.8 203.56h20.5v1.20h-20.5zM319.8 209.58h20.5v1.20h-20.5zM340.1 84.19h20.5v1.20h-20.5zM340.1 89.20h20.5v1.20h-20.5zM340.1 92.21h20.5v1.20h-20.5zM340.1 105.25h20.5v1.20h-20.5zM340.1 122.31h20.5v1.20h-20.5zM340.1 124.31h20.5v1.20h-20.5zM340.1 127.32h20.5v1.20h-20.5zM340.1 138.36h20.5v1.20h-20.5zM340.1 144.38h20.5v1.20h-20.5zM340.1 145.38h20.5v1.20h-20.5zM340.1 149.39h20.5v1.20h-20.5zM340.1 155.41h20.5v1.20h-20.5zM340.1 158.42h20.5v1.20h-20.5zM340.1 159.42h20.5v1.20h-20.5zM340.1 163.44h20.5v1.20h-20.5zM340.1 165.44h20.5v1.20h-20.5zM340.1 174.47h20.5v1.20h-20.5zM340.1 175.47h20.5v1.20h-20.5zM340.1 179.49h20.5v1.20h-20.5zM340.1 189.52h20.5v1.20h-20.5zM340.1 193.53h20.5v1.20h-20.5zM340.1 199.55h20.5v1.20h-20.5z" fill="#fff6b1"/>
<path d="M238.4 27.01h20.5v1.20h-20.5zM238.4 32.02h20.5v1.20h-20.5zM238.4 38.04h20.5v1.20h-20.5zM238.4 43.06h20.5v1.20h-20.5zM238.4 48.07h20.5v1.20h-20.5zM238.4 59.11h20.5v1.20h-20.5zM238.4 60.11h20.5v1.20h-20.5zM238.4 62.12h20.5v1.20h-20.5zM238.4 68.14h20.5v1.20h-20.5zM238.4 69.14h20.5v1.20h-20.5zM238.4 70.14h20.5v1.20h-20.5zM258.8 33.03h20.5v1.20h-20.5zM258.8 45.06h20.5v1.20h-20.5zM258.8 52.09h20.5v1.20h-20.5zM258.8 53.09h20.5v1.20h-20.5zM258.8 55.09h20.5v1.20h-20.5zM258.8 59.11h20.5v1.20h-20.5zM279.1 38.04h20.5v1.20h-20.5zM279.1 39.04h20.5v1.20h-20.5zM279.1 40.05h20.5v1.20h-20.5zM279.1 41.05h20.5v1.20h-20.5zM279.1 57.10h20.5v1.20h-20.5zM279.1 61.11h20.5v1.20h-20.5zM279.1 65.13h20.5v1.20h-20.5zM279.1 72.15h20.5v1.20h-20.5zM299.4 142.37h20.5v1.20h-20.5zM299.4 153.40h20.5v1.20h-20.5zM299.4 159.42h20.5v1.20h-20.5zM299.4 169.45h20.5v1.20h-20.5zM299.4 184.50h20.5v1.20h-20.5zM299.4 185.51h20.5v1.20h-20.5zM299.4 186.51h20.5v1.20h-20.5zM299.4 204.57h20.5v1.20h-20.5zM299.4 213.59h20.5v1.20h-20.5zM319.8 84.19h20.5v1.20h-20.5zM319.8 87.20h20.5v1.20h-20.5zM319.8 88.20h20.5v1.20h-20.5zM319.8 93.21h20.5v1.20h-20.5zM319.8 95.22h20.5v1.20h-20.5zM319.8 112.27h20.5v1.20h-20.5zM319.8 119.30h20.5v1.20h-20.5zM319.8 120.30h20.5v1.20h-20.5zM319.8 121.30h20.5v1.20h-20.5zM319.8 124.31h20.5v1.20h-20.5zM319.8 136.35h20.5v1.20h-20.5zM319.8 160.43h20.5v1.20h-20.5zM319.8 208.58h20.5v1.20h-20.5zM319.8 210.58h20.5v1.20h-20.5zM340.1 78.17h20.5v1.20h-20.5zM340.1 82.18h20.5v1.20h-20.5zM340.1 110.27h20.5v1.20h-20.5zM340.1 111.27h20.5v1.20h-20.5zM340.1 113.28h20.5v1.20h-20.5zM340.1 126.32h20.5v1.20h-20.5zM340.1 135.35h20.5v1.20h-20.5zM340.1 137.35h20.5v1.20h-20.5zM340.1 147.39h20.5v1.20h-20.5zM340.1 157.42h20.5v1.20h-20.5zM340.1 170.46h20.5v1.20h-20.5zM340.1 171.46h20.5v1.20h-20.5zM340.1 172.46h20.5v1.20h-20.5z" fill="#fee89c"/>
<path d="M238.4 28.01h20.5v1.20h-20.5zM238.4 63.12h20.5v1.20h-20.5zM258.8 70.14h20.5v1.20h-20.5zM279.1 26.00h20.5v1.20h-20.5zM279.1 60.11h20.5v1.20h-20.5zM299.4 167.45h20.5v1.20h-20.5zM299.4 173.47h20.5v1.20h-20.5zM299.4 194.53h20.5v1.20h-20.5zM299.4 212.59h20.5v1.20h-20.5zM299.4 214.60h20.5v1.20h-20.5zM319.8 74.15h20.5v1.20h-20.5zM319.8 82.18h20.5v1.20h-20.5zM319.8 99.23h20.5v1.20h-20.5zM319.8 101.24h20.5v1.20h-20.5zM319.8 106.26h20.5v1.20h-20.5zM319.8 201.56h20.5v1.20h-20.5zM319.8 212.59h20.5v1.20h-20.5zM319.8 213.59h20.5v1.20h-20.5zM319.8 214.60h20.5v1.20h-20.5zM340.1 77.16h20.5v1.20h-20.5zM340.1 121.30h20.5v1.20h-20.5zM340.1 148.39h20.5v1.20h-20.5zM340.1 153.40h20.5v1.20h-20.5zM340.1 162.43h20.5v1.20h-20.5zM340.1 177.48h20.5v1.20h-20.5zM340.1 180.49h20.5v1.20h-20.5zM340.1 184.50h20.5v1.20h-20.5zM340.1 185.51h20.5v1.20h-20.5zM340.1 192.53h20.5v1.20h-20.5zM340.1 196.54h20.5v1.20h-20.5z" fill="#fffab8"/>
<path d="M238.4 30.02h20.5v1.20h-20.5zM258.8 35.03h20.5v1.20h-20.5zM279.1 27.01h20.5v1.20h-20.5zM299.4 162.43h20.5v1.20h-20.5zM299.4 166.45h20.5v1.20h-20.5zM299.4 181.49h20.5v1.20h-20.5zM299.4 192.53h20.5v1.20h-20.5zM299.4 197.54h20.5v1.20h-20.5zM319.8 78.17h20.5v1.20h-20.5zM319.8 79.17h20.5v1.20h-20.5zM319.8 80.17h20.5v1.20h-20.5zM319.8 89.20h20.5v1.20h-20.5zM319.8 200.55h20.5v1.20h-20.5zM319.8 207.57h20.5v1.20h-20.5zM340.1 93.21h20.5v1.20h-20.5zM340.1 103.25h20.5v1.20h-20.5zM340.1 115.28h20.5v1.20h-20.5zM340.1 118.29h20.5v1.20h-20.5zM340.1 120.30h20.5v1.20h-20.5zM340.1 136.35h20.5v1.20h-20.5zM340.1 183.50h20.5v1.20h-20.5zM340.1 195.54h20.5v1.20h-20.5zM340.1 197.54h20.5v1.20h-20.5z" fill="#ffffbf"/>
<path d="M238.4 31.02h20.5v1.20h-20.5zM238.4 37.04h20.5v1.20h-20.5zM238.4 49.08h20.5v1.20h-20.5zM238.4 50.08h20.5v1.20h-20.5zM238.4 71.15h20.5v1.20h-20.5zM258.8 50.08h20.5v1.20h-20.5zM258.8 54.09h20.5v1.20h-20.5zM258.8 56.10h20.5v1.20h-20.5zM258.8 63.12h20.5v1.20h-20.5zM258.8 71.15h20.5v1.20h-20.5zM279.1 29.01h20.5v1.20h-20.5zM279.1 33.03h20.5v1.20h-20.5zM279.1 35.03h20.5v1.20h-20.5zM279.1 45.06h20.5v1.20h-20.5zM279.1 49.08h20.5v1.20h-20.5zM279.1 59.11h20.5v1.20h-20.5zM279.1 62.12h20.5v1.20h-20.5zM279.1 63.12h20.5v1.20h-20.5zM299.4 72.15h20.5v1.20h-20.5zM299.4 121.30h20.5v1.20h-20.5zM299.4 141.37h20.5v1.20h-20.5zM299.4 152.40h20.5v1.20h-20.5zM299.4 155.41h20.5v1.20h-20.5zM299.4 157.42h20.5v1.20h-20.5zM299.4 161.43h20.5v1.20h-20.5zM299.4 172.46h20.5v1.20h-20.5zM299.4 174.47h20.5v1.20h-20.5zM299.4 176.48h20.5v1.20h-20.5zM299.4 177.48h20.5v1.20h-20.5zM299.4 193.53h20.5v1.20h-20.5zM299.4 205.57h20.5v1.20h-20.5zM299.4 208.58h20.5v1.20h-20.5zM299.4 209.58h20.5v1.20h-20.5zM319.8 83.18h20.5v1.20h-20.5zM319.8 92.21h20.5v1.20h-20.5zM319.8 140.36h20.5v1.20h-20.5zM319.8 141.37h20.5v1.20h-20.5zM319.8 142.37h20.5v1.20h-20.5zM319.8 155.41h20.5v1.20h-20.5zM340.1 72.15h20.5v1.20h-20.5zM340.1 74.15h20.5v1.20h-20.5zM340.1 75.16h20.5v1.20h-20.5zM340.1 76.16h20.5v1.20h-20.5zM340.1 87.20h20.5v1.20h-20.5zM340.1 88.20h20.5v1.20h-20.5zM340.1 107.26h20.5v1.20h-20.5zM340.1 109.27h20.5v1.20h-20.5zM340.1 112.27h20.5v1.20h-20.5zM340.1 116.29h20.5v1.20h-20.5zM340.1 117.29h20.5v1.20h-20.5zM340.1 133.34h20.5v1.20h-20.5zM340.1 139.36h20.5v1.20h-20.5zM340.1 161.43h20.5v1.20h-20.5zM340.1 190.52h20.5v1.20h-20.5z" fill="#feeca3"/>
<path d="M238.4 33.03h20.5v1.20h-20.5zM238.4 45.06h20.5v1.20h-20.5zM238.4 54.09h20.5v1.20h-20.5zM238.4 56.10h20.5v1.20h-20.5zM258.8 39.04h20.5v1.20h-20.5zM258.8 47.07h20.5v1.20h-20.5zM258.8 60.11h20.5v1.20h-20.5zM258.8 61.11h20.5v1.20h-20.5zM279.1 32.02h20.5v1.20h-20.5zM279.1 43.06h20.5v1.20h-20.5zM279.1 51.08h20.5v1.20h-20.5zM279.1 53.09h20.5v1.20h-20.5zM299.4 96.22h20.5v1.20h-20.5zM299.4 107.26h20.5v1.20h-20.5zM299.4 111.27h20.5v1.20h-20.5zM299.4 113.28h20.5v1.20h-20.5zM299.4 114.28h20.5v1.20h-20.5zM299.4 118.29h20.5v1.20h-20.5zM299.4 125.32h20.5v1.20h-20.5zM299.4 127.32h20.5v1.20h-20.5zM299.4 143.37h20.5v1.20h-20.5zM299.4 148.39h20.5v1.20h-20.5zM299.4 211.59h20.5v1.20h-20.5zM319.8 90.21h20.5v1.20h-20.5zM319.8 105.25h20.5v1.20h-20.5zM319.8 107.26h20.5v1.20h-20.5zM319.8 130.33h20.5v1.20h-20.5zM319.8 132.34h20.5v1.20h-20.5zM319.8 143.37h20.5v1.20h-20.5zM319.8 154.41h20.5v1.20h-20.5zM319.8 158.42h20.5v1.20h-20.5zM340.1 79.17h20.5v1.20h-20.5zM340.1 154.41h20.5v1.20h-20.5zM340.1 173.47h20.5v1.20h-20.5z" fill="#fecf85"/>
<path d="M238.4 34.03h20.5v1.20h-20.5zM238.4 36.03h20.5v1.20h-20.5zM238.4 41.05h20.5v1.20h-20.5zM238.4 42.05h20.5v1.20h-20.5zM238.4 46.07h20.5v1.20h-20.5zM238.4 47.07h20.5v1.20h-20.5zM238.4 57.10h20.5v1.20h-20.5zM238.4 61.11h20.5v1.20h-20.5zM258.8 31.02h20.5v1.20h-20.5zM258.8 44.06h20.5v1.20h-20.5zM258.8 58.10h20.5v1.20h-20.5zM258.8 72.15h20.5v1.20h-20.5zM279.1 30.02h20.5v1.20h-20.5zM279.1 37.04h20.5v1.20h-20.5zM279.1 44.06h20.5v1.20h-20.5zM279.1 52.09h20.5v1.20h-20.5zM279.1 55.09h20.5v1.20h-20.5zM279.1 56.10h20.5v1.20h-20.5zM279.1 58.10h20.5v1.20h-20.5zM279.1 64.12h20.5v1.20h-20.5zM299.4 97.23h20.5v1.20h-20.5zM299.4 119.30h20.5v1.20h-20.5zM299.4 120.30h20.5v1.20h-20.5zM299.4 123.31h20.5v1.20h-20.5zM299.4 126.32h20.5v1.20h-20.5zM299.4 132.34h20.5v1.20h-20.5zM299.4 137.35h20.5v1.20h-20.5zM299.4 140.36h20.5v1.20h-20.5zM299.4 144.38h20.5v1.20h-20.5zM299.4 150.39h20.5v1.20h-20.5zM299.4 154.41h20.5v1.20h-20.5zM299.4 160.43h20.5v1.20h-20.5zM299.4 182.50h20.5v1.20h-20.5zM299.4 183.50h20.5v1.20h-20.5zM299.4 189.52h20.5v1.20h-20.5zM299.4 207.57h20.5v1.20h-20.5zM319.8 75.16h20.5v1.20h-20.5zM319.8 91.21h20.5v1.20h-20.5zM319.8 94.22h20.5v1.20h-20.5zM319.8 97.23h20.5v1.20h-20.5zM319.8 104.25h20.5v1.20h-20.5zM319.8 108.26h20.5v1.20h-20.5zM319.8 113.28h20.5v1.20h-20.5zM319.8 122.31h20.5v1.20h-20.5zM319.8 126.32h20.5v1.20h-20.5zM319.8 139.36h20.5v1.20h-20.5zM319.8 156.41h20.5v1.20h-20.5zM319.8 162.43h20.5v1.20h-20.5zM319.8 167.45h20.5v1.20h-20.5zM319.8 168.45h20.5v1.20h-20.5zM319.8 190.52h20.5v1.20h-20.5zM340.1 86.19h20.5v1.20h-20.5zM340.1 100.24h20.5v1.20h-20.5zM340.1 101.24h20.5v1.20h-20.5zM340.1 106.26h20.5v1.20h-20.5zM340.1 108.26h20.5v1.20h-20.5zM340.1 142.37h20.5v1.20h-20.5zM340.1 152.40h20.5v1.20h-20.5zM340.1 156.41h20.5v1.20h-20.5zM340.1 169.45h20.5v1.20h-20.5zM340.1 178.48h20.5v1.20h-20.5zM340.1 191.52h20.5v1.20h-20.5z" fill="#fee395"/>
<path d="M238.4 35.03h20.5v1.20h-20.5zM238.4 52.09h20.5v1.20h-20.5zM238.4 53.09h20.5v1.20h-20.5zM238.4 72.15h20.5v1.20h-20.5zM258.8 27.01h20.5v1.20h-20.5zM258.8 30.02h20.5v1.20h-20.5zM258.8 32.02h20.5v1.20h-20.5zM258.8 42.05h20.5v1.20h-20.5zM258.8 43.06h20.5v1.20h-20.5zM258.8 46.07h20.5v1.20h-20.5zM258.8 48.07h20.5v1.20h-20.5zM258.8 49.08h20.5v1.20h-20.5zM279.1 31.02h20.5v1.20h-20.5zM279.1 50.08h20.5v1.20h-20.5zM279.1 54.09h20.5v1.20h-20.5zM299.4 100.24h20.5v1.20h-20.5zM299.4 116.29h20.5v1.20h-20.5zM299.4 129.33h20.5v1.20h-20.5zM299.4 136.35h20.5v1.20h-20.5zM299.4 138.36h20.5v1.20h-20.5zM299.4 139.36h20.5v1.20h-20.5zM299.4 145.38h20.5v1.20h-20.5zM299.4 151.40h20.5v1.20h-20.5zM299.4 158.42h20.5v1.20h-20.5zM299.4 168.45h20.5v1.20h-20.5zM299.4 170.46h20.5v1.20h-20.5zM299.4 171.46h20.5v1.20h-20.5zM299.4 178.48h20.5v1.20h-20.5zM299.4 187.51h20.5v1.20h-20.5zM299.4 188.51h20.5v1.20h-20.5zM299.4 206.57h20.5v1.20h-20.5zM299.4 210.58h20.5v1.20h-20.5zM319.8 98.23h20.5v1.20h-20.5zM319.8 102.24h20.5v1.20h-20.5zM319.8 117.29h20.5v1.20h-20.5zM319.8 118.29h20.5v1.20h-20.5zM319.8 125.32h20.5v1.20h-20.5zM319.8 135.35h20.5v1.20h-20.5zM319.8 138.36h20.5v1.20h-20.5zM319.8 163.44h20.5v1.20h-20.5zM340.1 73.15h20.5v1.20h-20.5zM340.1 132.34h20.5v1.20h-20.5zM340.1 140.36h20.5v1.20h-20.5zM340.1 166.45h20.5v1.20h-20.5z" fill="#fedc8d"/>
<path d="M238.4 44.06h20.5v1.20h-20.5zM238.4 51.08h20.5v1.20h-20.5zM258.8 29.01h20.5v1.20h-20.5zM258.8 40.05h20.5v1.20h-20.5zM299.4 89.20h20.5v1.20h-20.5zM299.4 109.27h20.5v1.20h-20.5zM299.4 115.28h20.5v1.20h-20.5zM299.4 117.29h20.5v1.20h-20.5zM299.4 128.33h20.5v1.20h-20.5zM299.4 149.39h20.5v1.20h-20.5zM319.8 96.22h20.5v1.20h-20.5zM319.8 100.24h20.5v1.20h-20.5zM319.8 115.28h20.5v1.20h-20.5zM319.8 131.33h20.5v1.20h-20.5zM319.8 133.34h20.5v1.20h-20.5zM319.8 134.34h20.5v1.20h-20.5zM319.8 152.40h20.5v1.20h-20.5zM319.8 166.45h20.5v1.20h-20.5zM319.8 179.49h20.5v1.20h-20.5zM319.8 181.49h20.5v1.20h-20.5zM340.1 204.57h20.5v1.20h-20.5z" fill="#fdc37d"/>
<path d="M238.4 55.09h20.5v1.20h-20.5zM279.1 67.13h20.5v1.20h-20.5zM299.4 93.21h20.5v1.20h-20.5zM299.4 110.27h20.5v1.20h-20.5zM319.8 127.32h20.5v1.20h-20.5zM319.8 148.39h20.5v1.20h-20.5zM319.8 180.49h20.5v1.20h-20.5zM319.8 187.51h20.5v1.20h-20.5zM319.8 192.53h20.5v1.20h-20.5zM319.8 193.53h20.5v1.20h-20.5zM319.8 199.55h20.5v1.20h-20.5zM340.1 143.37h20.5v1.20h-20.5z" fill="#fdaa6c"/>
<path d="M238.4 58.10h20.5v1.20h-20.5zM258.8 41.05h20.5v1.20h-20.5zM279.1 68.14h20.5v1.20h-20.5zM299.4 108.26h20.5v1.20h-20.5zM299.4 112.27h20.5v1.20h-20.5zM299.4 133.34h20.5v1.20h-20.5zM299.4 134.34h20.5v1.20h-20.5zM299.4 135.35h20.5v1.20h-20.5zM299.4 146.38h20.5v1.20h-20.5zM299.4 147.39h20.5v1.20h-20.5zM319.8 73.15h20.5v1.20h-20.5zM319.8 123.31h20.5v1.20h-20.5zM319.8 147.39h20.5v1.20h-20.5zM319.8 150.39h20.5v1.20h-20.5zM319.8 151.40h20.5v1.20h-20.5zM319.8 157.42h20.5v1.20h-20.5zM319.8 164.44h20.5v1.20h-20.5zM319.8 191.52h20.5v1.20h-20.5zM340.1 146.38h20.5v1.20h-20.5zM340.1 202.56h20.5v1.20h-20.5z" fill="#fdb674"/>
<path d="M238.4 64.12h20.5v1.20h-20.5zM299.4 201.56h20.5v1.20h-20.5zM319.8 110.27h20.5v1.20h-20.5zM319.8 202.56h20.5v1.20h-20.5zM319.8 204.57h20.5v1.20h-20.5zM319.8 205.57h20.5v1.20h-20.5zM340.1 30.02h20.5v1.20h-20.5zM340.1 102.24h20.5v1.20h-20.5zM340.1 188.51h20.5v1.20h-20.5z" fill="#ecf8e1"/>
<path d="M238.4 65.13h20.5v1.20h-20.5zM238.4 66.13h20.5v1.20h-20.5zM238.4 67.13h20.5v1.20h-20.5zM299.4 103.25h20.5v1.20h-20.5zM319.8 182.50h20.5v1.20h-20.5zM319.8 183.50h20.5v1.20h-20.5zM340.1 206.57h20.5v1.20h-20.5z" fill="#e85a3d"/>
<path d="M238.4 73.15h20.5v1.20h-20.5zM238.4 78.17h20.5v1.20h-20.5zM238.4 79.17h20.5v1.20h-20.5zM238.4 158.42h20.5v1.20h-20.5zM238.4 177.48h20.5v1.20h-20.5zM238.4 179.49h20.5v1.20h-20.5zM258.8 81.18h20.5v1.20h-20.5zM258.8 96.22h20.5v1.20h-20.5zM258.8 98.23h20.5v1.20h-20.5zM258.8 141.37h20.5v1.20h-20.5zM279.1 128.33h20.5v1.20h-20.5zM279.1 129.33h20.5v1.20h-20.5zM279.1 154.41h20.5v1.20h-20.5zM279.1 158.42h20.5v1.20h-20.5zM279.1 171.46h20.5v1.20h-20.5zM279.1 176.48h20.5v1.20h-20.5zM279.1 180.49h20.5v1.20h-20.5zM279.1 183.50h20.5v1.20h-20.5zM279.1 193.53h20.5v1.20h-20.5zM279.1 204.57h20.5v1.20h-20.5zM319.8 66.13h20.5v1.20h-20.5zM319.8 67.13h20.5v1.20h-20.5zM319.8 68.14h20.5v1.20h-20.5zM340.1 42.05h20.5v1.20h-20.5z" fill="#c4e1ee"/>
<path d="M238.4 74.15h20.5v1.20h-20.5zM238.4 75.16h20.5v1.20h-20.5zM238.4 86.19h20.5v1.20h-20.5zM238.4 103.25h20.5v1.20h-20.5zM238.4 104.25h20.5v1.20h-20.5zM238.4 110.27h20.5v1.20h-20.5zM238.4 116.29h20.5v1.20h-20.5zM238.4 138.36h20.5v1.20h-20.5zM238.4 159.42h20.5v1.20h-20.5zM238.4 161.43h20.5v1.20h-20.5zM238.4 164.44h20.5v1.20h-20.5zM238.4 167.45h20.5v1.20h-20.5zM238.4 168.45h20.5v1.20h-20.5zM238.4 170.46h20.5v1.20h-20.5zM238.4 175.47h20.5v1.20h-20.5zM238.4 180.49h20.5v1.20h-20.5zM238.4 194.53h20.5v1.20h-20.5zM238.4 197.54h20.5v1.20h-20.5zM238.4 205.57h20.5v1.20h-20.5zM238.4 206.57h20.5v1.20h-20.5zM258.8 75.16h20.5v1.20h-20.5zM258.8 78.17h20.5v1.20h-20.5zM258.8 79.17h20.5v1.20h-20.5zM258.8 83.18h20.5v1.20h-20.5zM258.8 106.26h20.5v1.20h-20.5zM258.8 108.26h20.5v1.20h-20.5zM258.8 134.34h20.5v1.20h-20.5zM258.8 138.36h20.5v1.20h-20.5zM258.8 139.36h20.5v1.20h-20.5zM258.8 140.36h20.5v1.20h-20.5zM258.8 152.40h20.5v1.20h-20.5zM258.8 153.40h20.5v1.20h-20.5zM258.8 157.42h20.5v1.20h-20.5zM258.8 173.47h20.5v1.20h-20.5zM258.8 175.47h20.5v1.20h-20.5zM258.8 177.48h20.5v1.20h-20.5zM258.8 186.51h20.5v1.20h-20.5zM258.8 197.54h20.5v1.20h-20.5zM258.8 202.56h20.5v1.20h-20.5zM258.8 206.57h20.5v1.20h-20.5zM258.8 212.59h20.5v1.20h-20.5zM279.1 82.18h20.5v1.20h-20.5zM279.1 83.18h20.5v1.20h-20.5zM279.1 86.19h20.5v1.20h-20.5zM279.1 97.23h20.5v1.20h-20.5zM279.1 99.23h20.5v1.20h-20.5zM279.1 121.30h20.5v1.20h-20.5zM279.1 122.31h20.5v1.20h-20.5zM279.1 123.31h20.5v1.20h-20.5zM279.1 124.31h20.5v1.20h-20.5zM279.1 126.32h20.5v1.20h-20.5zM279.1 127.32h20.5v1.20h-20.5zM279.1 130.33h20.5v1.20h-20.5zM279.1 135.35h20.5v1.20h-20.5zM279.1 139.36h20.5v1.20h-20.5zM279.1 142.37h20.5v1.20h-20.5zM279.1 144.38h20.5v1.20h-20.5zM279.1 145.38h20.5v1.20h-20.5zM279.1 149.39h20.5v1.20h-20.5zM279.1 160.43h20.5v1.20h-20.5zM279.1 165.44h20.5v1.20h-20.5zM279.1 177.48h20.5v1.20h-20.5zM279.1 178.48h20.5v1.20h-20.5zM279.1 182.50h20.5v1.20h-20.5zM279.1 184.50h20.5v1.20h-20.5zM279.1 187.51h20.5v1.20h-20.5zM279.1 189.52h20.5v1.20h-20.5zM279.1 200.55h20.5v1.20h-20.5zM279.1 201.56h20.5v1.20h-20.5zM279.1 209.58h20.5v1.20h-20.5zM279.1 210.58h20.5v1.20h-20.5zM279.1 213.59h20.5v1.20h-20.5zM279.1 214.60h20.5v1.20h-20.5zM299.4 37.04h20.5v1.20h-20.5zM319.8 36.03h20.5v1.20h-20.5zM319.8 37.04h20.5v1.20h-20.5zM319.8 38.04h20.5v1.20h-20.5zM319.8 40.05h20.5v1.20h-20.5zM319.8 42.05h20.5v1.20h-20.5zM319.8 43.06h20.5v1.20h-20.5zM319.8 60.11h20.5v1.20h-20.5zM319.8 64.12h20.5v1.20h-20.5zM319.8 65.13h20.5v1.20h-20.5zM319.8 69.14h20.5v1.20h-20.5zM340.1 26.00h20.5v1.20h-20.5zM340.1 40.05h20.5v1.20h-20.5zM340.1 41.05h20.5v1.20h-20.5zM340.1 46.07h20.5v1.20h-20.5zM340.1 50.08h20.5v1.20h-20.5zM340.1 54.09h20.5v1.20h-20.5zM340.1 57.10h20.5v1.20h-20.5zM340.1 60.11h20.5v1.20h-20.5zM340.1 62.12h20.5v1.20h-20.5z" fill="#add1e5"/>
<path d="M238.4 76.16h20.5v1.20h-20.5zM238.4 77.16h20.5v1.20h-20.5zM238.4 81.18h20.5v1.20h-20.5zM238.4 82.18h20.5v1.20h-20.5zM238.4 91.21h20.5v1.20h-20.5zM238.4 99.23h20.5v1.20h-20.5zM238.4 101.24h20.5v1.20h-20.5zM238.4 102.24h20.5v1.20h-20.5zM238.4 107.26h20.5v1.20h-20.5zM238.4 113.28h20.5v1.20h-20.5zM238.4 117.29h20.5v1.20h-20.5zM238.4 118.29h20.5v1.20h-20.5zM238.4 121.30h20.5v1.20h-20.5zM238.4 129.33h20.5v1.20h-20.5zM238.4 137.35h20.5v1.20h-20.5zM238.4 144.38h20.5v1.20h-20.5zM238.4 151.40h20.5v1.20h-20.5zM238.4 154.41h20.5v1.20h-20.5zM238.4 160.43h20.5v1.20h-20.5zM238.4 182.50h20.5v1.20h-20.5zM238.4 186.51h20.5v1.20h-20.5zM238.4 189.52h20.5v1.20h-20.5zM238.4 191.52h20.5v1.20h-20.5zM238.4 193.53h20.5v1.20h-20.5zM238.4 203.56h20.5v1.20h-20.5zM238.4 207.57h20.5v1.20h-20.5zM238.4 214.60h20.5v1.20h-20.5zM258.8 77.16h20.5v1.20h-20.5zM258.8 80.17h20.5v1.20h-20.5zM258.8 82.18h20.5v1.20h-20.5zM258.8 87.20h20.5v1.20h-20.5zM258.8 88.20h20.5v1.20h-20.5zM258.8 94.22h20.5v1.20h-20.5zM258.8 95.22h20.5v1.20h-20.5zM258.8 97.23h20.5v1.20h-20.5zM258.8 102.24h20.5v1.20h-20.5zM258.8 103.25h20.5v1.20h-20.5zM258.8 110.27h20.5v1.20h-20.5zM258.8 117.29h20.5v1.20h-20.5zM258.8 124.31h20.5v1.20h-20.5zM258.8 125.32h20.5v1.20h-20.5zM258.8 128.33h20.5v1.20h-20.5zM258.8 130.33h20.5v1.20h-20.5zM258.8 131.33h20.5v1.20h-20.5zM258.8 142.37h20.5v1.20h-20.5zM258.8 143.37h20.5v1.20h-20.5zM258.8 147.39h20.5v1.20h-20.5zM258.8 148.39h20.5v1.20h-20.5zM258.8 160.43h20.5v1.20h-20.5zM258.8 162.43h20.5v1.20h-20.5zM258.8 164.44h20.5v1.20h-20.5zM258.8 166.45h20.5v1.20h-20.5zM258.8 168.45h20.5v1.20h-20.5zM258.8 169.45h20.5v1.20h-20.5zM258.8 170.46h20.5v1.20h-20.5zM258.8 171.46h20.5v1.20h-20.5zM258.8 182.50h20.5v1.20h-20.5zM258.8 184.50h20.5v1.20h-20.5zM258.8 190.52h20.5v1.20h-20.5zM258.8 191.52h20.5v1.20h-20.5zM258.8 193.53h20.5v1.20h-20.5zM258.8 194.53h20.5v1.20h-20.5zM258.8 195.54h20.5v1.20h-20.5zM258.8 198.55h20.5v1.20h-20.5zM258.8 209.58h20.5v1.20h-20.5zM258.8 213.59h20.5v1.20h-20.5zM279.1 80.17h20.5v1.20h-20.5zM279.1 81.18h20.5v1.20h-20.5zM279.1 87.20h20.5v1.20h-20.5zM279.1 93.21h20.5v1.20h-20.5zM279.1 95.22h20.5v1.20h-20.5zM279.1 100.24h20.5v1.20h-20.5zM279.1 103.25h20.5v1.20h-20.5zM279.1 104.25h20.5v1.20h-20.5zM279.1 105.25h20.5v1.20h-20.5zM279.1 119.30h20.5v1.20h-20.5zM279.1 143.37h20.5v1.20h-20.5zM279.1 147.39h20.5v1.20h-20.5zM279.1 148.39h20.5v1.20h-20.5zM279.1 157.42h20.5v1.20h-20.5zM279.1 161.43h20.5v1.20h-20.5zM279.1 166.45h20.5v1.20h-20.5zM279.1 167.45h20.5v1.20h-20.5zM279.1 168.45h20.5v1.20h-20.5zM279.1 169.45h20.5v1.20h-20.5zM279.1 172.46h20.5v1.20h-20.5zM279.1 185.51h20.5v1.20h-20.5zM279.1 186.51h20.5v1.20h-20.5zM279.1 188.51h20.5v1.20h-20.5zM279.1 195.54h20.5v1.20h-20.5zM279.1 198.55h20.5v1.20h-20.5zM279.1 211.59h20.5v1.20h-20.5zM299.4 27.01h20.5v1.20h-20.5zM299.4 28.01h20.5v1.20h-20.5zM299.4 29.01h20.5v1.20h-20.5zM299.4 31.02h20.5v1.20h-20.5zM299.4 33.03h20.5v1.20h-20.5zM299.4 35.03h20.5v1.20h-20.5zM299.4 39.04h20.5v1.20h-20.5zM299.4 42.05h20.5v1.20h-20.5zM299.4 43.06h20.5v1.20h-20.5zM299.4 45.06h20.5v1.20h-20.5zM299.4 47.07h20.5v1.20h-20.5zM299.4 52.09h20.5v1.20h-20.5zM299.4 56.10h20.5v1.20h-20.5zM299.4 59.11h20.5v1.20h-20.5zM299.4 62.12h20.5v1.20h-20.5zM299.4 63.12h20.5v1.20h-20.5zM299.4 66.13h20.5v1.20h-20.5zM299.4 69.14h20.5v1.20h-20.5zM299.4 70.14h20.5v1.20h-20.5zM299.4 71.15h20.5v1.20h-20.5zM319.8 26.00h20.5v1.20h-20.5zM319.8 44.06h20.5v1.20h-20.5zM319.8 45.06h20.5v1.20h-20.5zM319.8 46.07h20.5v1.20h-20.5zM319.8 51.08h20.5v1.20h-20.5zM319.8 53.09h20.5v1.20h-20.5zM319.8 55.09h20.5v1.20h-20.5zM319.8 56.10h20.5v1.20h-20.5zM319.8 63.12h20.5v1.20h-20.5zM319.8 70.14h20.5v1.20h-20.5zM340.1 32.02h20.5v1.20h-20.5zM340.1 35.03h20.5v1.20h-20.5zM340.1 36.03h20.5v1.20h-20.5zM340.1 37.04h20.5v1.20h-20.5zM340.1 56.10h20.5v1.20h-20.5zM340.1 64.12h20.5v1.20h-20.5zM340.1 67.13h20.5v1.20h-20.5zM340.1 71.15h20.5v1.20h-20.5z" fill="#95c2dc"/>
<path d="M238.4 80.17h20.5v1.20h-20.5zM238.4 106.26h20.5v1.20h-20.5zM238.4 115.28h20.5v1.20h-20.5zM238.4 120.30h20.5v1.20h-20.5zM238.4 122.31h20.5v1.20h-20.5zM238.4 123.31h20.5v1.20h-20.5zM238.4 133.34h20.5v1.20h-20.5zM238.4 141.37h20.5v1.20h-20.5zM238.4 142.37h20.5v1.20h-20.5zM238.4 143.37h20.5v1.20h-20.5zM238.4 209.58h20.5v1.20h-20.5zM238.4 210.58h20.5v1.20h-20.5zM238.4 212.59h20.5v1.20h-20.5zM238.4 213.59h20.5v1.20h-20.5zM258.8 121.30h20.5v1.20h-20.5zM258.8 145.38h20.5v1.20h-20.5zM258.8 211.59h20.5v1.20h-20.5zM279.1 74.15h20.5v1.20h-20.5zM279.1 79.17h20.5v1.20h-20.5zM279.1 90.21h20.5v1.20h-20.5zM279.1 91.21h20.5v1.20h-20.5zM279.1 101.24h20.5v1.20h-20.5zM279.1 106.26h20.5v1.20h-20.5zM279.1 107.26h20.5v1.20h-20.5zM279.1 116.29h20.5v1.20h-20.5zM279.1 163.44h20.5v1.20h-20.5zM279.1 174.47h20.5v1.20h-20.5zM299.4 60.11h20.5v1.20h-20.5zM299.4 68.14h20.5v1.20h-20.5zM319.8 50.08h20.5v1.20h-20.5zM319.8 71.15h20.5v1.20h-20.5zM340.1 39.04h20.5v1.20h-20.5zM340.1 70.14h20.5v1.20h-20.5z" fill="#7eacd1"/>
<path d="M238.4 83.18h20.5v1.20h-20.5zM238.4 85.19h20.5v1.20h-20.5zM238.4 95.22h20.5v1.20h-20.5zM238.4 96.22h20.5v1.20h-20.5zM238.4 97.23h20.5v1.20h-20.5zM238.4 98.23h20.5v1.20h-20.5zM238.4 100.24h20.5v1.20h-20.5zM238.4 105.25h20.5v1.20h-20.5zM238.4 108.26h20.5v1.20h-20.5zM238.4 109.27h20.5v1.20h-20.5zM238.4 112.27h20.5v1.20h-20.5zM238.4 114.28h20.5v1.20h-20.5zM238.4 119.30h20.5v1.20h-20.5zM238.4 124.31h20.5v1.20h-20.5zM238.4 125.32h20.5v1.20h-20.5zM238.4 130.33h20.5v1.20h-20.5zM238.4 134.34h20.5v1.20h-20.5zM238.4 136.35h20.5v1.20h-20.5zM238.4 146.38h20.5v1.20h-20.5zM238.4 147.39h20.5v1.20h-20.5zM238.4 149.39h20.5v1.20h-20.5zM238.4 150.39h20.5v1.20h-20.5zM238.4 153.40h20.5v1.20h-20.5zM238.4 156.41h20.5v1.20h-20.5zM238.4 163.44h20.5v1.20h-20.5zM238.4 169.45h20.5v1.20h-20.5zM238.4 172.46h20.5v1.20h-20.5zM238.4 173.47h20.5v1.20h-20.5zM238.4 176.48h20.5v1.20h-20.5zM238.4 178.48h20.5v1.20h-20.5zM238.4 181.49h20.5v1.20h-20.5zM238.4 184.50h20.5v1.20h-20.5zM238.4 185.51h20.5v1.20h-20.5zM238.4 187.51h20.5v1.20h-20.5zM238.4 188.51h20.5v1.20h-20.5zM238.4 196.54h20.5v1.20h-20.5zM238.4 198.55h20.5v1.20h-20.5zM238.4 199.55h20.5v1.20h-20.5zM238.4 202.56h20.5v1.20h-20.5zM238.4 204.57h20.5v1.20h-20.5zM238.4 208.58h20.5v1.20h-20.5zM258.8 73.15h20.5v1.20h-20.5zM258.8 76.16h20.5v1.20h-20.5zM258.8 84.19h20.5v1.20h-20.5zM258.8 86.19h20.5v1.20h-20.5zM258.8 91.21h20.5v1.20h-20.5zM258.8 93.21h20.5v1.20h-20.5zM258.8 104.25h20.5v1.20h-20.5zM258.8 105.25h20.5v1.20h-20.5zM258.8 109.27h20.5v1.20h-20.5zM258.8 115.28h20.5v1.20h-20.5zM258.8 116.29h20.5v1.20h-20.5zM258.8 118.29h20.5v1.20h-20.5zM258.8 119.30h20.5v1.20h-20.5zM258.8 126.32h20.5v1.20h-20.5zM258.8 129.33h20.5v1.20h-20.5zM258.8 132.34h20.5v1.20h-20.5zM258.8 133.34h20.5v1.20h-20.5zM258.8 137.35h20.5v1.20h-20.5zM258.8 149.39h20.5v1.20h-20.5zM258.8 150.39h20.5v1.20h-20.5zM258.8 151.40h20.5v1.20h-20.5zM258.8 156.41h20.5v1.20h-20.5zM258.8 158.42h20.5v1.20h-20.5zM258.8 167.45h20.5v1.20h-20.5zM258.8 174.47h20.5v1.20h-20.5zM258.8 181.49h20.5v1.20h-20.5zM258.8 185.51h20.5v1.20h-20.5zM258.8 187.51h20.5v1.20h-20.5zM258.8 188.51h20.5v1.20h-20.5zM258.8 192.53h20.5v1.20h-20.5zM258.8 196.54h20.5v1.20h-20.5zM258.8 200.55h20.5v1.20h-20.5zM258.8 201.56h20.5v1.20h-20.5zM258.8 205.57h20.5v1.20h-20.5zM258.8 207.57h20.5v1.20h-20.5zM258.8 210.58h20.5v1.20h-20.5zM279.1 77.16h20.5v1.20h-20.5zM279.1 84.19h20.5v1.20h-20.5zM279.1 85.19h20.5v1.20h-20.5zM279.1 89.20h20.5v1.20h-20.5zM279.1 96.22h20.5v1.20h-20.5zM279.1 110.27h20.5v1.20h-20.5zM279.1 111.27h20.5v1.20h-20.5zM279.1 112.27h20.5v1.20h-20.5zM279.1 113.28h20.5v1.20h-20.5zM279.1 114.28h20.5v1.20h-20.5zM279.1 115.28h20.5v1.20h-20.5zM279.1 120.30h20.5v1.20h-20.5zM279.1 131.33h20.5v1.20h-20.5zM279.1 132.34h20.5v1.20h-20.5zM279.1 134.34h20.5v1.20h-20.5zM279.1 136.35h20.5v1.20h-20.5zM279.1 138.36h20.5v1.20h-20.5zM279.1 141.37h20.5v1.20h-20.5zM279.1 146.38h20.5v1.20h-20.5zM279.1 150.39h20.5v1.20h-20.5zM279.1 152.40h20.5v1.20h-20.5zM279.1 153.40h20.5v1.20h-20.5zM279.1 164.44h20.5v1.20h-20.5zM279.1 170.46h20.5v1.20h-20.5zM279.1 175.47h20.5v1.20h-20.5zM279.1 179.49h20.5v1.20h-20.5zM279.1 181.49h20.5v1.20h-20.5zM279.1 190.52h20.5v1.20h-20.5zM279.1 191.52h20.5v1.20h-20.5zM279.1 202.56h20.5v1.20h-20.5zM279.1 203.56h20.5v1.20h-20.5zM279.1 212.59h20.5v1.20h-20.5zM299.4 34.03h20.5v1.20h-20.5zM299.4 38.04h20.5v1.20h-20.5zM299.4 40.05h20.5v1.20h-20.5zM299.4 46.07h20.5v1.20h-20.5zM299.4 55.09h20.5v1.20h-20.5zM299.4 64.12h20.5v1.20h-20.5zM299.4 65.13h20.5v1.20h-20.5zM319.8 32.02h20.5v1.20h-20.5zM319.8 33.03h20.5v1.20h-20.5zM319.8 34.03h20.5v1.20h-20.5zM319.8 35.03h20.5v1.20h-20.5zM319.8 39.04h20.5v1.20h-20.5zM319.8 48.07h20.5v1.20h-20.5zM319.8 54.09h20.5v1.20h-20.5zM319.8 57.10h20.5v1.20h-20.5zM319.8 58.10h20.5v1.20h-20.5zM319.8 59.11h20.5v1.20h-20.5zM319.8 61.11h20.5v1.20h-20.5zM340.1 33.03h20.5v1.20h-20.5zM340.1 38.04h20.5v1.20h-20.5zM340.1 44.06h20.5v1.20h-20.5zM340.1 45.06h20.5v1.20h-20.5zM340.1 48.07h20.5v1.20h-20.5zM340.1 49.08h20.5v1.20h-20.5zM340.1 52.09h20.5v1.20h-20.5zM340.1 53.09h20.5v1.20h-20.5zM340.1 55.09h20.5v1.20h-20.5zM340.1 58.10h20.5v1.20h-20.5zM340.1 59.11h20.5v1.20h-20.5zM340.1 63.12h20.5v1.20h-20.5z" fill="#a1c9e1"/>
<path d="M238.4 84.19h20.5v1.20h-20.5zM238.4 87.20h20.5v1.20h-20.5zM238.4 88.20h20.5v1.20h-20.5zM238.4 90.21h20.5v1.20h-20.5zM238.4 111.27h20.5v1.20h-20.5zM238.4 127.32h20.5v1.20h-20.5zM238.4 148.39h20.5v1.20h-20.5zM238.4 152.40h20.5v1.20h-20.5zM238.4 155.41h20.5v1.20h-20.5zM238.4 157.42h20.5v1.20h-20.5zM238.4 165.44h20.5v1.20h-20.5zM238.4 166.45h20.5v1.20h-20.5zM238.4 171.46h20.5v1.20h-20.5zM238.4 183.50h20.5v1.20h-20.5zM238.4 195.54h20.5v1.20h-20.5zM258.8 85.19h20.5v1.20h-20.5zM258.8 136.35h20.5v1.20h-20.5zM258.8 154.41h20.5v1.20h-20.5zM258.8 155.41h20.5v1.20h-20.5zM258.8 159.42h20.5v1.20h-20.5zM258.8 176.48h20.5v1.20h-20.5zM258.8 178.48h20.5v1.20h-20.5zM258.8 179.49h20.5v1.20h-20.5zM258.8 183.50h20.5v1.20h-20.5zM258.8 189.52h20.5v1.20h-20.5zM258.8 199.55h20.5v1.20h-20.5zM258.8 203.56h20.5v1.20h-20.5zM258.8 204.57h20.5v1.20h-20.5zM279.1 98.23h20.5v1.20h-20.5zM279.1 125.32h20.5v1.20h-20.5zM279.1 151.40h20.5v1.20h-20.5zM279.1 155.41h20.5v1.20h-20.5zM279.1 159.42h20.5v1.20h-20.5zM279.1 192.53h20.5v1.20h-20.5zM279.1 194.53h20.5v1.20h-20.5zM279.1 199.55h20.5v1.20h-20.5zM299.4 36.03h20.5v1.20h-20.5zM319.8 25.00h20.5v1.20h-20.5zM319.8 41.05h20.5v1.20h-20.5zM340.1 25.00h20.5v1.20h-20.5zM340.1 34.03h20.5v1.20h-20.5zM340.1 43.06h20.5v1.20h-20.5zM340.1 47.07h20.5v1.20h-20.5zM340.1 51.08h20.5v1.20h-20.5zM340.1 61.11h20.5v1.20h-20.5z" fill="#b8d9ea"/>
<path d="M238.4 89.20h20.5v1.20h-20.5zM238.4 145.38h20.5v1.20h-20.5zM258.8 107.26h20.5v1.20h-20.5zM258.8 114.28h20.5v1.20h-20.5zM258.8 135.35h20.5v1.20h-20.5zM258.8 208.58h20.5v1.20h-20.5zM299.4 26.00h20.5v1.20h-20.5z" fill="#d0e9f2"/>
<path d="M238.4 92.21h20.5v1.20h-20.5zM238.4 93.21h20.5v1.20h-20.5zM238.4 94.22h20.5v1.20h-20.5zM238.4 126.32h20.5v1.20h-20.5zM238.4 128.33h20.5v1.20h-20.5zM238.4 131.33h20.5v1.20h-20.5zM238.4 132.34h20.5v1.20h-20.5zM238.4 135.35h20.5v1.20h-20.5zM238.4 139.36h20.5v1.20h-20.5zM238.4 140.36h20.5v1.20h-20.5zM238.4 162.43h20.5v1.20h-20.5zM238.4 174.47h20.5v1.20h-20.5zM238.4 190.52h20.5v1.20h-20.5zM238.4 192.53h20.5v1.20h-20.5zM238.4 200.55h20.5v1.20h-20.5zM238.4 201.56h20.5v1.20h-20.5zM238.4 211.59h20.5v1.20h-20.5zM258.8 74.15h20.5v1.20h-20.5zM258.8 89.20h20.5v1.20h-20.5zM258.8 90.21h20.5v1.20h-20.5zM258.8 92.21h20.5v1.20h-20.5zM258.8 100.24h20.5v1.20h-20.5zM258.8 101.24h20.5v1.20h-20.5zM258.8 111.27h20.5v1.20h-20.5zM258.8 112.27h20.5v1.20h-20.5zM258.8 113.28h20.5v1.20h-20.5zM258.8 120.30h20.5v1.20h-20.5zM258.8 123.31h20.5v1.20h-20.5zM258.8 127.32h20.5v1.20h-20.5zM258.8 144.38h20.5v1.20h-20.5zM258.8 161.43h20.5v1.20h-20.5zM258.8 163.44h20.5v1.20h-20.5zM258.8 165.44h20.5v1.20h-20.5zM258.8 172.46h20.5v1.20h-20.5zM258.8 180.49h20.5v1.20h-20.5zM258.8 214.60h20.5v1.20h-20.5zM279.1 73.15h20.5v1.20h-20.5zM279.1 75.16h20.5v1.20h-20.5zM279.1 76.16h20.5v1.20h-20.5zM279.1 78.17h20.5v1.20h-20.5zM279.1 88.20h20.5v1.20h-20.5zM279.1 94.22h20.5v1.20h-20.5zM279.1 108.26h20.5v1.20h-20.5zM279.1 109.27h20.5v1.20h-20.5zM279.1 118.29h20.5v1.20h-20.5zM279.1 133.34h20.5v1.20h-20.5zM279.1 137.35h20.5v1.20h-20.5zM279.1 156.41h20.5v1.20h-20.5zM279.1 173.47h20.5v1.20h-20.5zM279.1 196.54h20.5v1.20h-20.5zM279.1 197.54h20.5v1.20h-20.5zM279.1 205.57h20.5v1.20h-20.5zM279.1 206.57h20.5v1.20h-20.5zM279.1 207.57h20.5v1.20h-20.5zM279.1 208.58h20.5v1.20h-20.5zM299.4 30.02h20.5v1.20h-20.5zM299.4 32.02h20.5v1.20h-20.5zM299.4 41.05h20.5v1.20h-20.5zM299.4 44.06h20.5v1.20h-20.5zM299.4 48.07h20.5v1.20h-20.5zM299.4 51.08h20.5v1.20h-20.5zM299.4 53.09h20.5v1.20h-20.5zM299.4 54.09h20.5v1.20h-20.5zM299.4 57.10h20.5v1.20h-20.5zM299.4 58.10h20.5v1.20h-20.5zM299.4 61.11h20.5v1.20h-20.5zM299.4 67.13h20.5v1.20h-20.5zM319.8 47.07h20.5v1.20h-20.5zM319.8 49.08h20.5v1.20h-20.5zM319.8 52.09h20.5v1.20h-20.5zM319.8 62.12h20.5v1.20h-20.5zM340.1 65.13h20.5v1.20h-20.5zM340.1 66.13h20.5v1.20h-20.5zM340.1 68.14h20.5v1.20h-20.5zM340.1 69.14h20.5v1.20h-20.5z" fill="#89b8d7"/>
<path d="M258.8 25.00h20.5v1.20h-20.5zM258.8 28.01h20.5v1.20h-20.5zM279.1 69.14h20.5v1.20h-20.5zM299.4 78.17h20.5v1.20h-20.5zM299.4 105.25h20.5v1.20h-20.5zM319.8 169.45h20.5v1.20h-20.5zM319.8 172.46h20.5v1.20h-20.5zM319.8 177.48h20.5v1.20h-20.5zM319.8 178.48h20.5v1.20h-20.5zM319.8 194.53h20.5v1.20h-20.5zM319.8 197.54h20.5v1.20h-20.5zM340.1 210.58h20.5v1.20h-20.5z" fill="#fc915c"/>
<path d="M258.8 26.00h20.5v1.20h-20.5zM299.4 74.15h20.5v1.20h-20.5zM299.4 75.16h20.5v1.20h-20.5zM299.4 81.18h20.5v1.20h-20.5zM299.4 90.21h20.5v1.20h-20.5zM319.8 184.50h20.5v1.20h-20.5zM319.8 195.54h20.5v1.20h-20.5zM319.8 196.54h20.5v1.20h-20.5zM340.1 212.59h20.5v1.20h-20.5z" fill="#e24c36"/>
<path d="M258.8 64.12h20.5v1.20h-20.5zM258.8 68.14h20.5v1.20h-20.5zM279.1 25.00h20.5v1.20h-20.5zM299.4 165.44h20.5v1.20h-20.5zM299.4 196.54h20.5v1.20h-20.5zM340.1 81.18h20.5v1.20h-20.5zM340.1 98.23h20.5v1.20h-20.5zM340.1 104.25h20.5v1.20h-20.5zM340.1 114.28h20.5v1.20h-20.5zM340.1 164.44h20.5v1.20h-20.5zM340.1 168.45h20.5v1.20h-20.5z" fill="#f6fbd0"/>
<path d="M258.8 65.13h20.5v1.20h-20.5zM299.4 175.47h20.5v1.20h-20.5zM299.4 190.52h20.5v1.20h-20.5zM299.4 198.55h20.5v1.20h-20.5zM299.4 200.55h20.5v1.20h-20.5zM299.4 202.56h20.5v1.20h-20.5zM319.8 109.27h20.5v1.20h-20.5zM319.8 111.27h20.5v1.20h-20.5zM319.8 206.57h20.5v1.20h-20.5zM340.1 83.18h20.5v1.20h-20.5zM340.1 90.21h20.5v1.20h-20.5zM340.1 96.22h20.5v1.20h-20.5zM340.1 97.23h20.5v1.20h-20.5zM340.1 119.30h20.5v1.20h-20.5zM340.1 128.33h20.5v1.20h-20.5zM340.1 129.33h20.5v1.20h-20.5zM340.1 130.33h20.5v1.20h-20.5zM340.1 131.33h20.5v1.20h-20.5zM340.1 150.39h20.5v1.20h-20.5z" fill="#fafdc8"/>
<path d="M258.8 66.13h20.5v1.20h-20.5zM258.8 67.13h20.5v1.20h-20.5zM299.4 195.54h20.5v1.20h-20.5zM299.4 203.56h20.5v1.20h-20.5zM340.1 27.01h20.5v1.20h-20.5zM340.1 28.01h20.5v1.20h-20.5zM340.1 29.01h20.5v1.20h-20.5zM340.1 31.02h20.5v1.20h-20.5zM340.1 94.22h20.5v1.20h-20.5zM340.1 125.32h20.5v1.20h-20.5zM340.1 176.48h20.5v1.20h-20.5zM340.1 186.51h20.5v1.20h-20.5zM340.1 198.55h20.5v1.20h-20.5z" fill="#f1fad9"/>
<path d="M258.8 99.23h20.5v1.20h-20.5zM258.8 122.31h20.5v1.20h-20.5zM258.8 146.38h20.5v1.20h-20.5zM279.1 92.21h20.5v1.20h-20.5zM279.1 102.24h20.5v1.20h-20.5zM279.1 117.29h20.5v1.20h-20.5zM279.1 162.43h20.5v1.20h-20.5zM299.4 49.08h20.5v1.20h-20.5zM299.4 50.08h20.5v1.20h-20.5zM319.8 27.01h20.5v1.20h-20.5zM319.8 29.01h20.5v1.20h-20.5zM319.8 30.02h20.5v1.20h-20.5z" fill="#73a1cb"/>
<path d="M279.1 70.14h20.5v1.20h-20.5zM279.1 71.15h20.5v1.20h-20.5zM299.4 84.19h20.5v1.20h-20.5zM299.4 88.20h20.5v1.20h-20.5zM299.4 94.22h20.5v1.20h-20.5zM299.4 106.26h20.5v1.20h-20.5zM319.8 144.38h20.5v1.20h-20.5zM319.8 145.38h20.5v1.20h-20.5zM319.8 146.38h20.5v1.20h-20.5zM319.8 153.40h20.5v1.20h-20.5zM319.8 159.42h20.5v1.20h-20.5zM319.8 161.43h20.5v1.20h-20.5zM319.8 171.46h20.5v1.20h-20.5zM319.8 174.47h20.5v1.20h-20.5zM319.8 186.51h20.5v1.20h-20.5zM319.8 188.51h20.5v1.20h-20.5zM340.1 141.37h20.5v1.20h-20.5z" fill="#fc9e64"/>
<path d="M279.1 140.36h20.5v1.20h-20.5zM299.4 25.00h20.5v1.20h-20.5z" fill="#dcf0f7"/>
<path d="M299.4 73.15h20.5v1.20h-20.5zM340.1 213.59h20.5v1.20h-20.5z" fill="#d73027"/>
<path d="M299.4 76.16h20.5v1.20h-20.5zM299.4 77.16h20.5v1.20h-20.5zM299.4 83.18h20.5v1.20h-20.5zM299.4 92.21h20.5v1.20h-20.5zM299.4 95.22h20.5v1.20h-20.5zM319.8 198.55h20.5v1.20h-20.5zM340.1 203.56h20.5v1.20h-20.5zM340.1 214.60h20.5v1.20h-20.5z" fill="#ed6845"/>
<path d="M299.4 79.17h20.5v1.20h-20.5zM299.4 85.19h20.5v1.20h-20.5zM299.4 91.21h20.5v1.20h-20.5zM299.4 99.23h20.5v1.20h-20.5zM319.8 149.39h20.5v1.20h-20.5zM319.8 165.44h20.5v1.20h-20.5zM319.8 173.47h20.5v1.20h-20.5zM319.8 185.51h20.5v1.20h-20.5zM319.8 189.52h20.5v1.20h-20.5zM340.1 201.56h20.5v1.20h-20.5z" fill="#f88454"/>
<path d="M299.4 80.17h20.5v1.20h-20.5zM299.4 82.18h20.5v1.20h-20.5zM299.4 86.19h20.5v1.20h-20.5zM299.4 87.20h20.5v1.20h-20.5zM299.4 98.23h20.5v1.20h-20.5zM299.4 101.24h20.5v1.20h-20.5zM299.4 102.24h20.5v1.20h-20.5zM299.4 104.25h20.5v1.20h-20.5zM319.8 170.46h20.5v1.20h-20.5zM319.8 175.47h20.5v1.20h-20.5zM319.8 176.48h20.5v1.20h-20.5zM340.1 205.57h20.5v1.20h-20.5zM340.1 207.57h20.5v1.20h-20.5zM340.1 209.58h20.5v1.20h-20.5zM340.1 211.59h20.5v1.20h-20.5z" fill="#f3764c"/>
<path d="M299.4 199.55h20.5v1.20h-20.5z" fill="#e3f4f2"/>
<path d="M319.8 28.01h20.5v1.20h-20.5z" fill="#5c8bc0"/>
<path d="M319.8 31.02h20.5v1.20h-20.5z" fill="#6796c6"/>
<path d="M340.1 194.53h20.5v1.20h-20.5z" fill="#e8f6ea"/>
<path d="M340.1 208.58h20.5v1.20h-20.5z" fill="#dd3e2f"/>
<path d="M238.2 25.4H233.3V25.7H238.2M233.3 25.6H232.0V26.0H238.2M232.0 25.8H229.6V26.3H238.2M238.2 25.1H229.3V26.1H229.6M238.2 27.2H231.5V27.5H238.2M231.5 27.4H231.2V27.8H238.2M238.2 26.9H230.9V27.6H231.2M238.2 26.6H229.7V27.3H230.9M229.3 25.6H223.1V27.0H229.7M238.2 28.7H230.7V29.0H238.2M238.2 29.6H233.2V29.9H238.2M238.2 29.3H230.9V29.8H233.2M230.9 29.5H227.4V30.2H238.2M238.2 31.1H232.9V31.4H238.2M238.2 30.8H231.4V31.3H232.9M238.2 30.5H227.6V31.0H231.4M227.4 29.9H227.1V30.8H227.6M230.7 28.9H226.8V30.3H227.1M226.8 29.6H226.1V31.7H238.2M238.2 32.3H233.6V32.6H238.2M238.2 32.9H231.5V33.2H238.2M233.6 32.4H227.5V33.0H231.5M238.2 33.5H232.1V33.8H238.2M227.5 32.7H226.4V33.6H232.1M238.2 32.0H226.1V33.2H226.4M226.1 30.6H225.8V32.6H226.1M238.2 28.4H225.5V31.6H225.8M238.2 28.1H225.2V30.0H225.5M238.2 34.1H233.5V34.4H238.2M233.5 34.2H231.3V34.7H238.2M231.3 34.5H229.1V35.0H238.2M238.2 35.6H231.9V35.9H238.2M238.2 35.3H231.6V35.7H231.9M238.2 36.2H233.5V36.5H238.2M231.6 35.5H226.6V36.3H233.5M238.2 36.8H233.2V37.1H238.2M233.2 36.9H231.0V37.4H238.2M238.2 38.3H233.3V38.6H238.2M238.2 38.0H230.7V38.4H233.3M238.2 37.7H230.4V38.2H230.7M230.4 37.9H230.1V38.8H238.2M231.0 37.1H227.0V38.4H230.1M227.0 37.8H224.9V39.1H238.2M226.6 35.9H224.6V38.5H224.9M229.1 34.7H221.9V37.2H224.6M225.2 29.1H218.4V35.9H221.9M223.1 26.3H215.8V32.5H218.4M238.2 40.0H232.7V40.3H238.2M238.2 39.7H230.1V40.2H232.7M230.1 40.0H228.2V40.6H238.2M228.2 40.3H226.6V40.9H238.2M238.2 41.5H231.8V41.8H238.2M238.2 41.2H229.0V41.7H231.8M238.2 42.1H233.2V42.4H238.2M229.0 41.5H226.6V42.3H233.2M226.6 40.6H226.0V41.9H226.6M238.2 42.7H230.4V43.0H238.2M238.2 43.9H231.6V44.2H238.2M238.2 43.6H230.3V44.1H231.6M238.2 43.3H227.5V43.8H230.3M230.4 42.9H226.8V43.6H227.5M226.8 43.2H226.5V44.5H238.2M238.2 45.7H232.7V46.0H238.2M238.2 46.3H233.0V46.6H238.2M238.2 46.9H231.9V47.2H238.2M233.0 46.4H229.8V47.0H231.9M232.7 45.8H229.5V46.7H229.8M238.2 45.4H229.2V46.3H229.5M238.2 45.1H228.9V45.8H229.2M238.2 44.8H228.6V45.5H228.9M228.6 45.1H228.3V47.5H238.2M226.5 43.9H221.8V46.3H228.3M226.0 41.2H220.1V45.1H221.8M238.2 39.4H219.8V43.2H220.1M238.2 48.7H231.8V49.0H238.2M238.2 48.4H230.8V48.8H231.8M238.2 48.1H230.5V48.6H230.8M230.5 48.3H230.2V49.3H238.2M238.2 49.9H232.0V50.2H238.2M232.0 50.0H230.2V50.5H238.2M238.2 49.6H228.0V50.2H230.2M230.2 48.8H227.7V49.9H228.0M227.7 49.4H227.4V50.8H238.2M238.2 47.8H223.0V50.1H227.4M238.2 51.4H231.1V51.7H238.2M238.2 51.1H228.9V51.5H231.1M238.2 52.2H230.5V52.5H238.2M238.2 53.1H232.7V53.4H238.2M238.2 54.0H233.6V54.3H238.2M238.2 53.7H231.2V54.2H233.6M232.7 53.3H226.2V54.0H231.2M238.2 54.9H233.1V55.2H238.2M238.2 54.6H232.1V55.1H233.1M226.2 53.6H225.6V54.9H232.1M238.2 52.8H225.3V54.2H225.6M230.5 52.4H225.0V53.5H225.3M238.2 52.0H222.3V53.0H225.0M228.9 51.3H222.0V52.5H222.3M223.0 48.9H220.2V51.9H222.0M238.2 55.8H231.0V56.1H238.2M238.2 55.5H228.3V56.0H231.0M238.2 56.4H232.9V56.7H238.2M238.2 57.3H232.4V57.6H238.2M238.2 57.0H230.1V57.5H232.4M232.9 56.6H229.8V57.2H230.1M228.3 55.7H226.1V56.9H229.8M238.2 58.2H231.8V58.5H238.2M231.8 58.4H231.5V58.8H238.2M238.2 57.9H230.2V58.6H231.5M230.2 58.2H227.8V59.1H238.2M226.1 56.3H225.8V58.7H227.8M220.2 50.4H219.9V57.5H225.8M219.8 41.3H219.5V53.9H219.9M238.2 60.3H231.8V60.6H238.2M238.2 60.0H231.5V60.4H231.8M231.5 60.2H230.7V60.9H238.2M230.7 60.6H228.6V61.2H238.2M238.2 59.7H228.3V60.9H228.6M238.2 59.4H228.0V60.3H228.3M228.0 59.8H223.1V61.5H238.2M238.2 62.1H233.3V62.4H238.2M238.2 61.8H230.0V62.2H233.3M238.2 63.0H232.5V63.3H238.2M238.2 62.7H230.4V63.1H232.5M238.2 63.6H231.6V63.9H238.2M238.2 64.2H232.5V64.5H238.2M232.5 64.3H229.8V64.8H238.2M231.6 63.7H227.8V64.5H229.8M238.2 65.4H231.1V65.7H238.2M238.2 65.1H229.6V65.5H231.1M229.6 65.3H228.5V65.9H238.2M228.5 65.6H227.8V66.2H238.2M227.8 64.1H227.5V65.9H227.8M230.4 62.9H226.4V65.0H227.5M226.4 64.0H226.1V66.5H238.2M226.1 65.3H225.8V66.8H238.2M230.0 62.0H225.5V66.0H225.8M223.1 60.7H222.6V64.0H225.5M219.5 47.6H219.2V62.3H222.6M238.2 67.4H232.5V67.7H238.2M238.2 67.1H231.7V67.6H232.5M238.2 68.0H233.6V68.3H238.2M238.2 68.6H232.6V68.9H238.2M232.6 68.8H232.3V69.2H238.2M233.6 68.2H229.7V69.0H232.3M229.7 68.6H227.6V69.5H238.2M227.6 69.1H226.9V69.8H238.2M231.7 67.4H222.2V69.4H226.9M219.2 55.0H218.9V68.4H222.2M238.2 70.1H231.7V70.4H238.2M238.2 70.7H231.1V71.0H238.2M231.7 70.3H230.4V70.9H231.1M218.9 61.7H218.6V70.6H230.4M238.2 71.6H233.1V71.9H238.2M238.2 71.3H231.4V71.8H233.1M231.4 71.5H231.1V72.2H238.2M218.6 66.1H218.3V71.9H231.1M215.8 29.4H209.3V69.0H218.3M238.2 72.8H232.5V73.1H238.2M238.2 72.5H232.2V72.9H232.5M238.2 73.4H232.6V73.7H238.2M232.6 73.5H229.5V74.0H238.2M238.2 74.6H233.0V74.9H238.2M238.2 74.3H231.0V74.7H233.0M229.5 73.8H226.9V74.5H231.0M232.2 72.7H226.6V74.1H226.9M238.2 75.8H232.6V76.1H238.2M238.2 75.5H232.3V75.9H232.6M232.3 75.7H230.2V76.4H238.2M230.2 76.0H229.9V76.7H238.2M229.9 76.4H229.6V77.0H238.2M238.2 75.2H229.3V76.7H229.6M238.2 77.3H230.3V77.6H238.2M238.2 78.2H231.4V78.5H238.2M238.2 77.9H229.6V78.3H231.4M238.2 78.8H232.5V79.1H238.2M229.6 78.1H229.3V78.9H232.5M230.3 77.4H226.1V78.5H229.3M226.1 78.0H225.8V79.4H238.2M238.2 79.6H233.3V79.9H238.2M233.3 79.8H232.0V80.2H238.2M232.0 80.0H231.1V80.5H238.2M238.2 81.1H232.9V81.4H238.2M238.2 80.8H231.5V81.3H232.9M231.1 80.3H227.3V81.1H231.5M227.3 80.7H227.0V81.7H238.2M238.2 82.0H231.5V82.3H238.2M227.0 81.2H226.7V82.2H231.5M225.8 78.7H225.5V81.7H226.7M229.3 75.9H225.2V80.2H225.5M225.2 78.0H224.9V82.6H238.2M226.6 73.4H224.6V80.3H224.9M224.6 76.9H224.3V82.9H238.2M224.3 79.9H224.0V83.2H238.2M238.2 83.5H233.1V83.8H238.2M233.1 83.7H231.1V84.1H238.2M238.2 84.7H231.2V85.0H238.2M238.2 85.6H231.6V85.9H238.2M238.2 85.3H231.3V85.8H231.6M238.2 86.2H230.7V86.5H238.2M230.7 86.3H229.1V86.8H238.2M231.3 85.5H228.1V86.6H229.1M231.2 84.9H227.8V86.1H228.1M238.2 84.4H227.5V85.5H227.8M238.2 87.4H232.5V87.7H238.2M238.2 87.1H231.9V87.5H232.5M227.5 84.9H224.5V87.3H231.9M238.2 88.0H231.3V88.3H238.2M231.3 88.1H229.0V88.6H238.2M224.5 86.1H223.8V88.4H229.0M238.2 89.5H231.9V89.8H238.2M238.2 90.4H230.8V90.7H238.2M230.8 90.5H230.5V91.0H238.2M238.2 90.1H230.0V90.7H230.5M231.9 89.6H228.1V90.4H230.0M228.1 90.0H227.8V91.3H238.2M238.2 89.2H227.5V90.6H227.8M238.2 91.6H230.9V91.9H238.2M227.5 89.9H224.4V91.7H230.9M238.2 92.8H232.7V93.1H238.2M238.2 92.5H228.5V92.9H232.7M238.2 92.2H227.7V92.7H228.5M224.4 90.8H224.1V92.4H227.7M238.2 88.9H223.8V91.6H224.1M223.8 87.2H223.5V90.2H223.8M223.5 88.7H222.0V93.3H238.2M238.2 94.2H231.5V94.5H238.2M231.5 94.4H229.2V94.8H238.2M238.2 95.4H231.9V95.7H238.2M231.9 95.6H231.6V96.0H238.2M238.2 95.1H230.7V95.8H231.6M230.7 95.5H230.4V96.3H238.2M238.2 96.6H232.6V96.9H238.2M230.4 95.9H228.9V96.8H232.6M229.2 94.6H228.6V96.3H228.9M238.2 93.9H227.5V95.5H228.6M238.2 97.2H232.0V97.5H238.2M232.0 97.4H231.0V97.8H238.2M231.0 97.6H229.8V98.1H238.2M227.5 94.7H225.9V97.9H229.8M238.2 99.0H231.4V99.3H238.2M231.4 99.2H231.1V99.6H238.2M238.2 98.7H230.8V99.4H231.1M230.8 99.0H230.5V99.9H238.2M230.5 99.5H230.2V100.2H238.2M230.2 99.8H227.8V100.5H238.2M238.2 98.4H225.9V100.2H227.8M225.9 96.3H225.6V99.3H225.9M238.2 93.6H225.3V97.8H225.6M222.0 91.0H221.2V95.7H225.3M238.2 101.4H232.9V101.7H238.2M238.2 102.0H231.2V102.3H238.2M231.2 102.1H230.9V102.6H238.2M232.9 101.5H229.9V102.4H230.9M229.9 101.9H229.6V102.9H238.2M238.2 101.1H229.3V102.4H229.6M238.2 100.8H227.7V101.8H229.3M238.2 103.2H232.0V103.5H238.2M232.0 103.3H231.7V103.8H238.2M227.7 101.3H223.2V103.5H231.7M221.2 93.4H220.9V102.4H223.2M231.1 83.9H220.6V97.9H220.9M238.2 104.7H233.5V105.0H238.2M238.2 104.4H230.3V104.8H233.5M238.2 104.1H228.4V104.6H230.3M238.2 105.9H232.9V106.2H238.2M238.2 106.7H233.6V107.0H238.2M238.2 106.5H230.3V106.9H233.6M232.9 106.0H229.6V106.7H230.3M238.2 107.3H230.8V107.6H238.2M229.6 106.3H229.3V107.5H230.8M238.2 105.6H228.6V106.9H229.3M238.2 105.3H227.2V106.2H228.6M228.4 104.3H223.2V105.7H227.2M238.2 107.9H231.8V108.2H238.2M223.2 105.0H222.9V108.1H231.8M238.2 108.5H232.0V108.8H238.2M238.2 109.1H233.3V109.4H238.2M232.0 108.7H228.0V109.3H233.3M222.9 106.6H222.6V109.0H228.0M222.6 107.8H220.6V109.7H238.2M238.2 110.0H233.4V110.3H238.2M238.2 110.9H231.5V111.2H238.2M238.2 110.6H231.2V111.1H231.5M233.4 110.2H227.6V110.8H231.2M238.2 111.8H231.8V112.1H238.2M238.2 112.7H231.4V113.0H238.2M238.2 112.4H229.7V112.9H231.4M229.7 112.6H228.1V113.3H238.2M231.8 112.0H227.8V113.0H228.1M238.2 111.5H227.5V112.5H227.8M227.5 112.0H226.7V113.6H238.2M227.6 110.5H220.9V112.8H226.7M220.6 108.8H220.3V111.7H220.9M238.2 113.9H231.6V114.2H238.2M238.2 115.1H231.3V115.4H238.2M238.2 114.8H231.0V115.2H231.3M238.2 114.5H230.4V115.0H231.0M230.4 114.8H226.6V115.7H238.2M238.2 116.6H231.0V116.9H238.2M238.2 116.3H229.3V116.7H231.0M238.2 117.8H232.8V118.1H238.2M232.8 117.9H232.2V118.4H238.2M232.2 118.1H230.0V118.7H238.2M238.2 117.5H229.7V118.4H230.0M238.2 117.2H229.4V117.9H229.7M229.4 117.6H229.1V119.0H238.2M229.1 118.3H228.8V119.3H238.2M229.3 116.5H225.6V118.8H228.8M238.2 119.9H231.7V120.2H238.2M238.2 120.4H231.2V120.7H238.2M231.7 120.0H230.5V120.6H231.2M238.2 119.6H229.3V120.3H230.5M225.6 117.6H225.3V119.9H229.3M238.2 116.0H223.5V118.8H225.3M226.6 115.2H223.2V117.4H223.5M238.2 121.0H231.3V121.3H238.2M238.2 121.9H233.5V122.2H238.2M238.2 121.6H230.9V122.1H233.5M231.3 121.2H229.9V121.9H230.9M238.2 122.5H231.7V122.8H238.2M229.9 121.5H226.3V122.7H231.7M226.3 122.1H226.0V123.1H238.2M226.0 122.6H222.2V123.4H238.2M238.2 124.3H233.5V124.6H238.2M238.2 124.0H230.8V124.5H233.5M238.2 123.7H228.9V124.2H230.8M238.2 125.2H232.5V125.5H238.2M238.2 124.9H232.2V125.4H232.5M228.9 124.0H226.1V125.1H232.2M222.2 123.0H220.8V124.6H226.1M238.2 125.8H233.2V126.1H238.2M238.2 127.0H232.1V127.3H238.2M238.2 126.7H228.2V127.1H232.1M238.2 126.4H226.6V126.9H228.2M233.2 126.0H225.7V126.7H226.6M238.2 127.6H232.2V127.9H238.2M232.2 127.7H231.9V128.2H238.2M231.9 128.0H230.2V128.5H238.2M225.7 126.3H221.6V128.2H230.2M220.8 123.8H220.5V127.3H221.6M223.2 116.3H220.2V125.5H220.5M238.2 128.8H232.7V129.1H238.2M220.2 120.9H219.9V128.9H232.7M231.6 114.0H215.6V124.9H219.9M238.2 129.7H231.9V130.0H238.2M238.2 130.6H231.0V130.9H238.2M238.2 130.3H230.7V130.7H231.0M231.9 129.8H230.4V130.5H230.7M238.2 129.4H229.9V130.2H230.4M215.6 119.5H215.3V129.8H229.9M220.3 110.2H214.0V124.6H215.3M220.6 90.9H211.2V117.4H214.0M238.2 132.1H233.0V132.4H238.2M238.2 131.8H229.9V132.2H233.0M238.2 132.7H233.1V133.0H238.2M233.1 132.8H230.4V133.3H238.2M229.9 132.0H229.6V133.0H230.4M238.2 131.5H229.3V132.5H229.6M238.2 131.2H229.0V132.0H229.3M238.2 133.9H231.9V134.1H238.2M238.2 133.6H231.5V134.0H231.9M229.0 131.6H227.3V133.8H231.5M238.2 134.7H230.8V135.0H238.2M230.8 134.9H230.1V135.3H238.2M238.2 134.4H229.8V135.1H230.1M227.3 132.7H227.0V134.8H229.8M238.2 135.6H232.0V135.9H238.2M238.2 136.5H233.5V136.8H238.2M233.5 136.7H229.2V137.1H238.2M238.2 136.2H227.9V136.9H229.2M238.2 137.7H232.3V138.0H238.2M238.2 137.4H232.0V137.9H232.3M227.9 136.6H226.8V137.6H232.0M232.0 135.8H226.5V137.1H226.8M238.2 138.3H232.2V138.6H238.2M232.2 138.5H231.1V138.9H238.2M231.1 138.7H230.8V139.2H238.2M226.5 136.4H226.2V139.0H230.8M238.2 139.8H232.9V140.1H238.2M238.2 139.5H230.1V140.0H232.9M230.1 139.7H228.0V140.4H238.2M226.2 137.7H224.2V140.1H228.0M224.2 138.9H220.9V140.7H238.2M227.0 133.7H220.6V139.8H220.9M220.6 136.8H218.4V141.0H238.2M238.2 141.6H232.3V141.9H238.2M238.2 141.3H231.1V141.7H232.3M238.2 142.2H233.1V142.5H238.2M233.1 142.3H231.6V142.8H238.2M231.6 142.6H227.4V143.1H238.2M231.1 141.5H224.1V142.8H227.4M238.2 143.4H230.9V143.7H238.2M238.2 144.0H233.3V144.3H238.2M238.2 144.6H230.7V144.9H238.2M233.3 144.1H229.3V144.7H230.7M238.2 145.5H231.1V145.8H238.2M238.2 145.2H230.8V145.6H231.1M230.8 145.4H230.2V146.1H238.2M238.2 146.4H230.7V146.7H238.2M238.2 147.5H233.1V147.8H238.2M233.1 147.7H231.1V148.1H238.2M238.2 147.3H230.8V147.9H231.1M230.8 147.6H230.5V148.4H238.2M238.2 147.0H229.7V148.0H230.5M229.7 147.5H227.1V148.7H238.2M230.7 146.5H226.6V148.1H227.1M238.2 149.3H232.0V149.6H238.2M238.2 149.0H229.8V149.5H232.0M226.6 147.3H224.0V149.3H229.8M238.2 149.9H232.0V150.2H238.2M224.0 148.3H222.2V150.1H232.0M230.2 145.7H221.9V149.2H222.2M238.2 150.5H230.8V150.8H238.2M230.8 150.7H229.5V151.1H238.2M221.9 147.5H221.6V150.9H229.5M238.2 151.4H232.4V151.7H238.2M221.6 149.2H221.3V151.6H232.4M229.3 144.4H221.0V150.4H221.3M230.9 143.5H219.6V147.4H221.0M238.2 152.0H231.1V152.3H238.2M219.6 145.5H219.3V152.2H231.1M238.2 152.9H232.6V153.2H238.2M232.6 153.1H232.3V153.5H238.2M238.2 154.7H232.9V155.0H238.2M238.2 154.4H231.4V154.8H232.9M238.2 154.1H230.1V154.6H231.4M238.2 153.8H227.1V154.4H230.1M232.3 153.3H225.1V154.1H227.1M238.2 152.6H224.8V153.7H225.1M219.3 148.8H219.0V153.1H224.8M238.2 155.9H232.0V156.2H238.2M238.2 155.6H230.8V156.0H232.0M230.8 155.8H229.8V156.5H238.2M229.8 156.1H226.1V156.8H238.2M238.2 155.3H225.8V156.5H226.1M238.2 157.4H232.1V157.7H238.2M232.1 157.5H229.9V158.0H238.2M238.2 157.1H228.2V157.7H229.9M225.8 155.9H224.8V157.4H228.2M238.2 158.3H232.6V158.6H238.2M238.2 159.2H233.3V159.5H238.2M233.3 159.3H230.3V159.8H238.2M238.2 158.9H230.0V159.5H230.3M232.6 158.4H229.7V159.2H230.0M238.2 160.4H232.1V160.7H238.2M238.2 160.1H228.1V160.5H232.1M229.7 158.8H227.7V160.3H228.1M238.2 161.0H233.6V161.2H238.2M227.7 159.5H222.5V161.1H233.6M238.2 161.5H231.4V161.8H238.2M238.2 162.1H231.7V162.4H238.2M231.4 161.7H231.1V162.3H231.7M222.5 160.3H222.2V162.0H231.1M238.2 163.0H231.8V163.3H238.2M231.8 163.2H231.5V163.6H238.2M231.5 163.4H227.3V163.9H238.2M238.2 162.7H227.0V163.7H227.3M227.0 163.2H226.7V164.2H238.2M226.7 163.7H226.0V164.5H238.2M238.2 164.8H230.4V165.1H238.2M230.4 165.0H229.1V165.4H238.2M226.0 164.1H222.4V165.2H229.1M238.2 165.7H233.2V166.0H238.2M233.2 165.9H230.6V166.3H238.2M230.6 166.1H228.2V166.6H238.2M228.2 166.3H227.9V166.9H238.2M238.2 167.8H231.5V168.1H238.2M231.5 167.9H230.3V168.4H238.2M238.2 167.5H230.0V168.2H230.3M238.2 167.2H225.9V167.8H230.0M227.9 166.6H224.7V167.5H225.9M222.4 164.7H221.4V167.1H224.7M222.2 161.2H221.1V165.9H221.4M238.2 168.7H231.5V169.0H238.2M231.5 168.8H231.2V169.3H238.2M231.2 169.1H229.7V169.6H238.2M229.7 169.3H226.8V169.9H238.2M238.2 170.8H232.8V171.1H238.2M232.8 170.9H228.6V171.4H238.2M238.2 170.5H228.2V171.2H228.6M238.2 171.7H233.4V172.0H238.2M228.2 170.8H227.9V171.8H233.4M238.2 170.2H227.6V171.3H227.9M238.2 173.2H231.8V173.5H238.2M238.2 172.9H231.5V173.3H231.8M238.2 172.6H229.9V173.1H231.5M238.2 172.3H229.6V172.8H229.9M229.6 172.5H227.6V173.8H238.2M227.6 170.8H227.3V173.2H227.6M226.8 169.6H226.5V172.0H227.3M221.1 163.5H220.8V170.8H226.5M224.8 156.6H219.3V167.1H220.8M238.2 174.7H233.4V174.9H238.2M238.2 174.4H230.4V174.8H233.4M238.2 174.1H230.1V174.6H230.4M230.1 174.3H229.4V175.2H238.2M229.4 174.8H225.4V175.5H238.2M238.2 177.0H232.2V177.3H238.2M238.2 176.7H231.9V177.2H232.2M231.9 177.0H230.9V177.6H238.2M238.2 176.4H230.6V177.3H230.9M238.2 176.1H229.7V176.9H230.6M229.7 176.5H229.4V177.9H238.2M238.2 175.8H229.1V177.2H229.4M225.4 175.2H225.1V176.5H229.1M238.2 178.2H232.5V178.5H238.2M232.5 178.4H232.2V178.8H238.2M232.2 178.6H230.8V179.1H238.2M225.1 175.8H224.8V178.9H230.8M238.2 179.4H232.4V179.7H238.2M224.8 177.4H219.6V179.6H232.4M238.2 180.3H231.7V180.6H238.2M238.2 180.0H229.7V180.5H231.7M238.2 180.9H230.9V181.2H238.2M229.7 180.2H229.1V181.1H230.9M229.1 180.6H228.2V181.5H238.2M238.2 182.7H231.7V183.0H238.2M231.7 182.8H230.7V183.3H238.2M238.2 182.4H230.4V183.1H230.7M238.2 182.1H226.2V182.7H230.4M238.2 181.8H225.9V182.4H226.2M238.2 183.6H231.7V183.9H238.2M238.2 184.2H231.6V184.5H238.2M231.7 183.7H226.5V184.3H231.6M226.5 184.0H226.1V184.8H238.2M225.9 182.1H225.0V184.4H226.1M225.0 183.3H224.7V185.1H238.2M228.2 181.1H224.4V184.2H224.7M238.2 186.0H232.8V186.3H238.2M238.2 185.7H231.7V186.1H232.8M238.2 185.4H231.4V185.9H231.7M238.2 186.6H231.6V186.9H238.2M238.2 187.8H232.1V188.1H238.2M238.2 187.5H231.8V187.9H232.1M238.2 187.2H229.6V187.7H231.8M229.6 187.4H227.2V188.4H238.2M231.6 186.7H226.7V187.9H227.2M231.4 185.6H225.9V187.3H226.7M225.9 186.5H225.0V188.6H238.2M225.0 187.6H224.7V188.9H238.2M238.2 189.8H232.6V190.1H238.2M238.2 189.5H232.3V190.0H232.6M238.2 189.2H230.9V189.8H232.3M238.2 190.4H231.6V190.7H238.2M230.9 189.5H226.9V190.6H231.6M224.7 188.3H224.4V190.0H226.9M224.4 182.6H224.1V189.1H224.4M238.2 191.6H233.0V191.9H238.2M238.2 191.3H231.2V191.8H233.0M238.2 192.2H231.4V192.5H238.2M231.2 191.6H230.2V192.4H231.4M238.2 191.0H226.2V192.0H230.2M238.2 192.8H232.4V193.1H238.2M238.2 193.4H232.5V193.7H238.2M238.2 194.0H231.8V194.3H238.2M232.5 193.6H229.3V194.2H231.8M229.3 193.9H226.9V194.6H238.2M232.4 193.0H226.1V194.2H226.9M226.2 191.5H225.8V193.6H226.1M238.2 194.9H231.7V195.2H238.2M238.2 195.5H231.4V195.8H238.2M238.2 196.1H231.5V196.4H238.2M231.5 196.2H230.3V196.7H238.2M231.4 195.6H230.0V196.5H230.3M231.7 195.1H227.5V196.1H230.0M225.8 192.5H225.5V195.6H227.5M224.1 185.9H219.6V194.1H225.5M219.6 178.5H219.3V190.0H219.6M219.3 161.9H219.0V184.2H219.3M219.0 151.0H218.7V173.1H219.0M224.1 142.2H218.4V162.0H218.7M218.4 138.9H218.1V152.1H218.4M211.2 104.2H209.8V145.5H218.1M224.0 81.6H209.5V124.8H209.8M238.2 197.3H232.9V197.6H238.2M238.2 197.0H229.4V197.4H232.9M238.2 197.9H231.6V198.2H238.2M231.6 198.0H229.5V198.5H238.2M229.5 198.3H228.4V198.8H238.2M229.4 197.2H226.1V198.5H228.4M238.2 199.1H231.4V199.4H238.2M238.2 199.7H231.4V200.0H238.2M231.4 199.2H231.1V199.8H231.4M238.2 200.3H232.2V200.6H238.2M232.2 200.4H231.9V200.9H238.2M238.2 201.2H231.0V201.5H238.2M231.0 201.3H229.4V201.8H238.2M238.2 202.0H233.5V202.3H238.2M229.4 201.5H227.2V202.2H233.5M231.9 200.6H226.9V201.9H227.2M238.2 202.9H232.1V203.2H238.2M238.2 202.6H229.7V203.1H232.1M226.9 201.2H225.4V202.9H229.7M231.1 199.5H225.1V202.1H225.4M226.1 197.9H222.5V200.8H225.1M238.2 203.8H231.5V204.1H238.2M238.2 203.5H231.2V204.0H231.5M238.2 205.0H232.6V205.3H238.2M238.2 204.7H231.1V205.2H232.6M238.2 204.4H229.6V205.0H231.1M231.2 203.8H223.7V204.7H229.6M238.2 205.6H231.8V205.9H238.2M238.2 206.5H230.8V206.8H238.2M238.2 206.2H230.5V206.7H230.8M238.2 207.7H231.8V208.0H238.2M238.2 207.4H231.0V207.9H231.8M231.0 207.6H230.0V208.3H238.2M238.2 207.1H229.7V208.0H230.0M238.2 208.6H231.6V208.9H238.2M229.7 207.5H229.4V208.8H231.6M230.5 206.4H227.8V208.1H229.4M231.8 205.8H224.4V207.3H227.8M238.2 209.2H231.6V209.5H238.2M231.6 209.3H231.3V209.8H238.2M224.4 206.5H224.1V209.6H231.3M224.1 208.1H223.8V210.1H238.2M238.2 210.7H231.7V211.0H238.2M238.2 210.4H231.2V210.8H231.7M238.2 211.3H231.2V211.6H238.2M231.2 211.4H230.9V211.9H238.2M230.9 211.7H230.6V212.2H238.2M230.6 211.9H230.3V212.5H238.2M238.2 212.8H230.4V213.1H238.2M230.3 212.2H227.7V212.9H230.4M238.2 213.4H231.2V213.7H238.2M227.7 212.6H227.4V213.5H231.2M231.2 210.6H227.1V213.0H227.4M223.8 209.1H223.5V211.8H227.1M238.2 214.6H232.5V214.9H238.2M238.2 214.3H232.2V214.7H232.5M238.2 214.0H228.0V214.5H232.2M223.5 210.4H220.5V214.2H228.0M223.7 204.2H220.2V212.3H220.5M238.2 215.2H232.9V215.5H238.2M220.2 208.3H219.9V215.3H232.9M222.5 199.3H214.7V211.8H219.9M209.5 103.2H209.2V205.6H214.7M209.3 49.2H202.8V154.4H209.2" fill="none" stroke="#000" stroke-width="0.6"/>
<rect x="364.00" y="24.90" width="7.10" height="2.26" fill="#d9362a" stroke="none" stroke-width="1"/>
<rect x="364.00" y="26.86" width="7.10" height="2.26" fill="#de4130" stroke="none" stroke-width="1"/>
<rect x="364.00" y="28.82" width="7.10" height="2.26" fill="#e24c36" stroke="none" stroke-width="1"/>
<rect x="364.00" y="30.78" width="7.10" height="2.26" fill="#e7573c" stroke="none" stroke-width="1"/>
<rect x="364.00" y="32.74" width="7.10" height="2.26" fill="#eb6242" stroke="none" stroke-width="1"/>
<rect x="364.00" y="34.70" width="7.10" height="2.26" fill="#ef6d48" stroke="none" stroke-width="1"/>
<rect x="364.00" y="36.66" width="7.10" height="2.26" fill="#f4794e" stroke="none" stroke-width="1"/>
<rect x="364.00" y="38.62" width="7.10" height="2.26" fill="#f88454" stroke="none" stroke-width="1"/>
<rect x="364.00" y="40.58" width="7.10" height="2.26" fill="#fc8f5a" stroke="none" stroke-width="1"/>
<rect x="364.00" y="42.54" width="7.10" height="2.26" fill="#fc9961" stroke="none" stroke-width="1"/>
<rect x="364.00" y="44.50" width="7.10" height="2.26" fill="#fda367" stroke="none" stroke-width="1"/>
<rect x="364.00" y="46.46" width="7.10" height="2.26" fill="#fdad6e" stroke="none" stroke-width="1"/>
<rect x="364.00" y="48.42" width="7.10" height="2.26" fill="#fdb674" stroke="none" stroke-width="1"/>
<rect x="364.00" y="50.38" width="7.10" height="2.26" fill="#fdc07b" stroke="none" stroke-width="1"/>
<rect x="364.00" y="52.34" width="7.10" height="2.26" fill="#fdca82" stroke="none" stroke-width="1"/>
<rect x="364.00" y="54.30" width="7.10" height="2.26" fill="#fed488" stroke="none" stroke-width="1"/>
<rect x="364.00" y="56.26" width="7.10" height="2.26" fill="#fede8f" stroke="none" stroke-width="1"/>
<rect x="364.00" y="58.22" width="7.10" height="2.26" fill="#fee395" stroke="none" stroke-width="1"/>
<rect x="364.00" y="60.18" width="7.10" height="2.26" fill="#fee79a" stroke="none" stroke-width="1"/>
<rect x="364.00" y="62.14" width="7.10" height="2.26" fill="#feeba0" stroke="none" stroke-width="1"/>
<rect x="364.00" y="64.10" width="7.10" height="2.26" fill="#feeea6" stroke="none" stroke-width="1"/>
<rect x="364.00" y="66.06" width="7.10" height="2.26" fill="#fff2ab" stroke="none" stroke-width="1"/>
<rect x="364.00" y="68.02" width="7.10" height="2.26" fill="#fff6b1" stroke="none" stroke-width="1"/>
<rect x="364.00" y="69.98" width="7.10" height="2.26" fill="#fff9b7" stroke="none" stroke-width="1"/>
<rect x="364.00" y="71.94" width="7.10" height="2.26" fill="#fffdbc" stroke="none" stroke-width="1"/>
<rect x="364.00" y="73.90" width="7.10" height="2.26" fill="#fdfec2" stroke="none" stroke-width="1"/>
<rect x="364.00" y="75.86" width="7.10" height="2.26" fill="#f9fdc9" stroke="none" stroke-width="1"/>
<rect x="364.00" y="77.82" width="7.10" height="2.26" fill="#f6fbd0" stroke="none" stroke-width="1"/>
<rect x="364.00" y="79.78" width="7.10" height="2.26" fill="#f2fad7" stroke="none" stroke-width="1"/>
<rect x="364.00" y="81.74" width="7.10" height="2.26" fill="#eef9de" stroke="none" stroke-width="1"/>
<rect x="364.00" y="83.70" width="7.10" height="2.26" fill="#ebf7e5" stroke="none" stroke-width="1"/>
<rect x="364.00" y="85.66" width="7.10" height="2.26" fill="#e7f6eb" stroke="none" stroke-width="1"/>
<rect x="364.00" y="87.62" width="7.10" height="2.26" fill="#e3f4f2" stroke="none" stroke-width="1"/>
<rect x="364.00" y="89.58" width="7.10" height="2.26" fill="#def2f7" stroke="none" stroke-width="1"/>
<rect x="364.00" y="91.54" width="7.10" height="2.26" fill="#d5ecf4" stroke="none" stroke-width="1"/>
<rect x="364.00" y="93.50" width="7.10" height="2.26" fill="#cbe5f0" stroke="none" stroke-width="1"/>
<rect x="364.00" y="95.46" width="7.10" height="2.26" fill="#c2dfed" stroke="none" stroke-width="1"/>
<rect x="364.00" y="97.42" width="7.10" height="2.26" fill="#b8d9ea" stroke="none" stroke-width="1"/>
<rect x="364.00" y="99.38" width="7.10" height="2.26" fill="#afd3e6" stroke="none" stroke-width="1"/>
<rect x="364.00" y="101.34" width="7.10" height="2.26" fill="#a6cde3" stroke="none" stroke-width="1"/>
<rect x="364.00" y="103.30" width="7.10" height="2.26" fill="#9cc6df" stroke="none" stroke-width="1"/>
<rect x="364.00" y="105.26" width="7.10" height="2.26" fill="#93c0dc" stroke="none" stroke-width="1"/>
<rect x="364.00" y="107.22" width="7.10" height="2.26" fill="#89b8d7" stroke="none" stroke-width="1"/>
<rect x="364.00" y="109.18" width="7.10" height="2.26" fill="#80afd2" stroke="none" stroke-width="1"/>
<rect x="364.00" y="111.14" width="7.10" height="2.26" fill="#77a6ce" stroke="none" stroke-width="1"/>
<rect x="364.00" y="113.10" width="7.10" height="2.26" fill="#6e9dc9" stroke="none" stroke-width="1"/>
<rect x="364.00" y="115.06" width="7.10" height="2.26" fill="#6594c4" stroke="none" stroke-width="1"/>
<rect x="364.00" y="117.02" width="7.10" height="2.26" fill="#5c8bc0" stroke="none" stroke-width="1"/>
<rect x="364.00" y="118.98" width="7.10" height="2.26" fill="#5382bb" stroke="none" stroke-width="1"/>
<rect x="364.00" y="120.94" width="7.10" height="2.26" fill="#4a79b6" stroke="none" stroke-width="1"/>
<text x="374.00" y="29.20" font-size="7.5" text-anchor="start" font-family='"Liberation Sans", sans-serif'>2</text>
<text x="374.00" y="43.05" font-size="7.5" text-anchor="start" font-family='"Liberation Sans", sans-serif'>1.5</text>
<text x="374.00" y="56.90" font-size="7.5" text-anchor="start" font-family='"Liberation Sans", sans-serif'>1</text>
<text x="374.00" y="70.75" font-size="7.5" text-anchor="start" font-family='"Liberation Sans", sans-serif'>0.5</text>
<text x="374.00" y="84.60" font-size="7.5" text-anchor="start" font-family='"Liberation Sans", sans-serif'>0</text>
<text x="374.00" y="98.45" font-size="7.5" text-anchor="start" font-family='"Liberation Sans", sans-serif'>−0.5</text>
<text x="374.00" y="112.30" font-size="7.5" text-anchor="start" font-family='"Liberation Sans", sans-serif'>−1</text>
<text x="245.68" y="218.00" font-size="8.1" text-anchor="start" font-family='"Liberation Sans", sans-serif' transform="rotate(90 245.68 218.00)">CREB5_1</text>
<text x="266.03" y="218.00" font-size="8.1" text-anchor="start" font-family='"Liberation Sans", sans-serif' transform="rotate(90 266.03 218.00)">CREB5_2</text>
<text x="286.38" y="218.00" font-size="8.1" text-anchor="start" font-family='"Liberation Sans", sans-serif' transform="rotate(90 286.38 218.00)">CREB5_3</text>
<text x="306.73" y="218.00" font-size="8.1" text-anchor="start" font-family='"Liberation Sans", sans-serif' transform="rotate(90 306.73 218.00)">Vector_1</text>
<text x="327.08" y="218.00" font-size="8.1" text-anchor="start" font-family='"Liberation Sans", sans-serif' transform="rotate(90 327.08 218.00)">Vector_2</text>
<text x="347.43" y="218.00" font-size="8.1" text-anchor="start" font-family='"Liberation Sans", sans-serif' transform="rotate(90 347.43 218.00)">Vector_3</text>
<text transform="translate(410.80 14.00) scale(1 1.1)" font-size="18.6" font-weight="bold" font-family='"Liberation Serif", serif'>C</text>
<ellipse cx="502.8" cy="76.5" rx="52.3" ry="50.4" fill="#D99A87" fill-opacity="0.6"/>
<ellipse cx="571.1" cy="76.5" rx="52.1" ry="50.4" fill="#8DB8DC" fill-opacity="0.6"/>
<ellipse cx="537.0" cy="130.7" rx="52.1" ry="50.2" fill="#EFEBAA" fill-opacity="0.55"/>
<text x="490.80" y="21.60" font-size="11.3" text-anchor="middle" font-family='"Liberation Serif", serif'>Up gene</text>
<text x="581.50" y="21.60" font-size="11.2" text-anchor="middle" font-family='"Liberation Serif", serif'>EMT</text>
<text x="482.20" y="68.60" font-size="9.8" text-anchor="middle" font-family='"Liberation Serif", serif'>627</text>
<text x="537.30" y="68.60" font-size="9.8" text-anchor="middle" font-family='"Liberation Serif", serif'>29</text>
<text x="586.50" y="68.60" font-size="9.8" text-anchor="middle" font-family='"Liberation Serif", serif'>1047</text>
<text x="537.30" y="99.80" font-size="9.8" text-anchor="middle" font-family='"Liberation Serif", serif'>3</text>
<text x="504.00" y="118.60" font-size="9.8" text-anchor="middle" font-family='"Liberation Serif", serif'>28</text>
<text x="569.70" y="118.60" font-size="9.8" text-anchor="middle" font-family='"Liberation Serif", serif'>105</text>
<text x="536.60" y="165.30" font-size="9.8" text-anchor="middle" font-family='"Liberation Serif", serif'>825</text>
<line x1="546.40" y1="95.90" x2="636.30" y2="98.00" stroke="#E8262B" stroke-width="1.3"/>
<rect x="636.30" y="88.20" width="47.40" height="49.10" fill="#fff" stroke="#000" stroke-width="0.9"/>
<text x="659.60" y="101.90" font-size="10.8" text-anchor="middle" font-family='"Liberation Serif", serif' fill="#E8262B">TNC</text>
<text x="659.90" y="116.50" font-size="11.1" text-anchor="middle" font-family='"Liberation Serif", serif'>TBX20</text>
<text x="659.20" y="130.60" font-size="11.3" text-anchor="middle" font-family='"Liberation Serif", serif'>PDGFD</text>
<text x="538.40" y="195.80" font-size="11.2" text-anchor="middle" font-family='"Liberation Serif", serif'>TCGA</text>
<text x="539.20" y="204.50" font-size="6.4" text-anchor="middle" font-family='"Liberation Sans", sans-serif' font-style="italic">Size of each list</text>
<line x1="443.50" y1="251.10" x2="443.50" y2="207.00" stroke="#444" stroke-width="0.7"/>
<path d="M441.9,208L443.5,204.3L445.1,208Z" fill="#444" stroke="none" stroke-width="1"/>
<line x1="443.50" y1="251.10" x2="637.00" y2="251.10" stroke="#444" stroke-width="0.7"/>
<path d="M636,249.5L639.6,251.1L636,252.7Z" fill="#444" stroke="none" stroke-width="1"/>
<line x1="442.00" y1="216.70" x2="443.50" y2="216.70" stroke="#444" stroke-width="0.5"/>
<text x="441.20" y="218.30" font-size="4.6" text-anchor="end" font-family='"Liberation Sans", sans-serif'>1184</text>
<line x1="442.00" y1="233.60" x2="443.50" y2="233.60" stroke="#444" stroke-width="0.5"/>
<text x="441.20" y="235.20" font-size="4.6" text-anchor="end" font-family='"Liberation Sans", sans-serif'>592</text>
<line x1="442.00" y1="250.60" x2="443.50" y2="250.60" stroke="#444" stroke-width="0.5"/>
<text x="441.20" y="252.20" font-size="4.6" text-anchor="end" font-family='"Liberation Sans", sans-serif'>0</text>
<rect x="453.10" y="230.50" width="49.80" height="20.60" fill="#E8B5AB" stroke="none" stroke-width="1"/>
<text x="500.50" y="238.10" font-size="4.3" text-anchor="end" font-family='"Liberation Sans", sans-serif' font-weight="bold" fill="#fff">687</text>
<rect x="511.90" y="215.70" width="49.80" height="35.40" fill="#B8D3EA" stroke="none" stroke-width="1"/>
<text x="559.30" y="224.00" font-size="4.3" text-anchor="end" font-family='"Liberation Sans", sans-serif' font-weight="bold" fill="#fff">1184</text>
<rect x="570.70" y="222.50" width="49.70" height="28.60" fill="#F2F0C7" stroke="none" stroke-width="1"/>
<text x="618.00" y="230.40" font-size="4.3" text-anchor="end" font-family='"Liberation Sans", sans-serif' font-weight="bold" fill="#fff">961</text>
<text x="479.80" y="263.30" font-size="11.1" text-anchor="middle" font-family='"Liberation Serif", serif'>Up gene</text>
<text x="537.10" y="265.50" font-size="11.1" text-anchor="middle" font-family='"Liberation Serif", serif'>EMT</text>
<text x="596.70" y="265.50" font-size="11.1" text-anchor="middle" font-family='"Liberation Serif", serif'>TCGA</text>
<text transform="translate(1.80 285.70) scale(1 1.1)" font-size="18.6" font-weight="bold" font-family='"Liberation Serif", serif'>D</text>
<text x="78.50" y="312.70" font-size="11" text-anchor="start" font-family='"Liberation Serif", serif'>Hep3B</text>
<line x1="67.20" y1="317.40" x2="120.40" y2="317.40" stroke="#000" stroke-width="0.8"/>
<text x="74.00" y="351.00" font-size="11" text-anchor="start" font-family='"Liberation Serif", serif' transform="rotate(-50 74.00 351.00)">shNC</text>
<text x="104.00" y="351.00" font-size="11" text-anchor="start" font-family='"Liberation Serif", serif' transform="rotate(-48 104.00 351.00)">shCREB5</text>
<text x="127.50" y="352.10" font-size="11" text-anchor="start" font-family='"Liberation Serif", serif'>kDa</text>
<rect x="52.30" y="352.70" width="69.10" height="24.30" fill="#F1F1F1" stroke="none" stroke-width="1"/>
<rect x="56.0" y="360.0" width="30.0" height="16.0" rx="12.8" ry="8.0" fill="#0a0a0a" fill-opacity="0.14" filter="url(#blur2)"/>
<rect x="58.0" y="353.8" width="25.0" height="11.5" rx="9.2" ry="5.8" fill="#0a0a0a" fill-opacity="0.98" filter="url(#blur1)"/>
<rect x="90.0" y="354.0" width="28.0" height="8.0" rx="6.4" ry="4.0" fill="#0a0a0a" fill-opacity="0.22" filter="url(#blur2)"/>
<rect x="90.0" y="359.0" width="28.0" height="16.0" rx="12.8" ry="8.0" fill="#0a0a0a" fill-opacity="0.08" filter="url(#blur2)"/>
<rect x="52.30" y="352.70" width="69.10" height="24.30" fill="none" stroke="#000" stroke-width="1.0"/>
<text x="31.20" y="368.65" font-size="11" text-anchor="middle" font-family='"Liberation Serif", serif' font-weight="bold">CREB5</text>
<line x1="121.40" y1="364.85" x2="124.60" y2="364.85" stroke="#000" stroke-width="1.0"/>
<text x="127.90" y="368.65" font-size="11" text-anchor="start" font-family='"Liberation Serif", serif'>56</text>
<rect x="52.30" y="380.30" width="69.10" height="24.30" fill="#F1F1F1" stroke="none" stroke-width="1"/>
<rect x="58.0" y="386.0" width="40.0" height="14.0" rx="11.2" ry="7.0" fill="#0a0a0a" fill-opacity="0.06" filter="url(#blur2)"/>
<rect x="60.0" y="391.7" width="22.0" height="3.8" rx="3.0" ry="1.9" fill="#0a0a0a" fill-opacity="0.95" filter="url(#blur1)"/>
<rect x="93.0" y="392.3" width="20.0" height="3.0" rx="2.4" ry="1.5" fill="#0a0a0a" fill-opacity="0.55" filter="url(#blur1)"/>
<rect x="58.0" y="398.7" width="26.0" height="2.6" rx="2.1" ry="1.3" fill="#0a0a0a" fill-opacity="0.12" filter="url(#blur1)"/>
<rect x="92.0" y="398.7" width="22.0" height="2.6" rx="2.1" ry="1.3" fill="#0a0a0a" fill-opacity="0.1" filter="url(#blur1)"/>
<rect x="52.30" y="380.30" width="69.10" height="24.30" fill="none" stroke="#000" stroke-width="1.0"/>
<text x="31.20" y="396.25" font-size="11" text-anchor="middle" font-family='"Liberation Serif", serif' font-weight="bold">TNC</text>
<line x1="121.40" y1="392.45" x2="124.60" y2="392.45" stroke="#000" stroke-width="1.0"/>
<text x="127.90" y="396.25" font-size="11" text-anchor="start" font-family='"Liberation Serif", serif'>200</text>
<rect x="52.30" y="409.30" width="69.10" height="24.60" fill="#F1F1F1" stroke="none" stroke-width="1"/>
<rect x="57.0" y="414.5" width="28.0" height="6.6" rx="5.3" ry="3.3" fill="#0a0a0a" fill-opacity="0.98" filter="url(#blur1)"/>
<rect x="92.0" y="414.9" width="21.0" height="5.4" rx="4.3" ry="2.7" fill="#0a0a0a" fill-opacity="0.95" filter="url(#blur1)"/>
<rect x="52.30" y="409.30" width="69.10" height="24.60" fill="none" stroke="#000" stroke-width="1.0"/>
<text x="31.20" y="425.40" font-size="11" text-anchor="middle" font-family='"Liberation Serif", serif' font-weight="bold">β-actin</text>
<line x1="121.40" y1="421.60" x2="124.60" y2="421.60" stroke="#000" stroke-width="1.0"/>
<text x="127.90" y="425.40" font-size="11" text-anchor="start" font-family='"Liberation Serif", serif'>43</text>
<text x="240.60" y="313.90" font-size="11" text-anchor="start" font-family='"Liberation Serif", serif'>LM3</text>
<line x1="226.30" y1="316.80" x2="279.40" y2="316.80" stroke="#000" stroke-width="0.8"/>
<text x="231.30" y="349.80" font-size="11" text-anchor="start" font-family='"Liberation Serif", serif' transform="rotate(-50 231.30 349.80)">shNC</text>
<text x="261.00" y="350.50" font-size="11" text-anchor="start" font-family='"Liberation Serif", serif' transform="rotate(-48 261.00 350.50)">shCREB5</text>
<text x="288.60" y="352.10" font-size="11" text-anchor="start" font-family='"Liberation Serif", serif'>kDa</text>
<rect x="214.00" y="352.70" width="68.50" height="23.90" fill="#F1F1F1" stroke="none" stroke-width="1"/>
<rect x="216.0" y="352.0" width="29.0" height="24.0" rx="19.2" ry="12.0" fill="#0a0a0a" fill-opacity="0.4" filter="url(#blur2)"/>
<rect x="219.0" y="353.1" width="24.0" height="3.0" rx="2.4" ry="1.5" fill="#0a0a0a" fill-opacity="0.85" filter="url(#blur1)"/>
<rect x="219.0" y="357.8" width="24.0" height="5.0" rx="4.0" ry="2.5" fill="#0a0a0a" fill-opacity="0.92" filter="url(#blur1)"/>
<rect x="219.0" y="368.0" width="23.0" height="5.0" rx="4.0" ry="2.5" fill="#0a0a0a" fill-opacity="0.75" filter="url(#blur1)"/>
<rect x="237.5" y="369.0" width="4.5" height="3.0" rx="2.4" ry="1.5" fill="#0a0a0a" fill-opacity="0.9" filter="url(#blur1)"/>
<rect x="250.0" y="355.5" width="24.0" height="15.0" rx="12.0" ry="7.5" fill="#0a0a0a" fill-opacity="0.38" filter="url(#blur2)"/>
<rect x="257.0" y="357.8" width="4.5" height="3.0" rx="2.4" ry="1.5" fill="#0a0a0a" fill-opacity="0.95" filter="url(#blur1)"/>
<rect x="214.00" y="352.70" width="68.50" height="23.90" fill="none" stroke="#000" stroke-width="1.0"/>
<text x="190.30" y="368.45" font-size="11" text-anchor="middle" font-family='"Liberation Serif", serif' font-weight="bold">CREB5</text>
<line x1="282.50" y1="364.65" x2="285.70" y2="364.65" stroke="#000" stroke-width="1.0"/>
<text x="289.00" y="368.45" font-size="11" text-anchor="start" font-family='"Liberation Serif", serif'>56</text>
<rect x="214.00" y="380.70" width="68.50" height="23.50" fill="#F1F1F1" stroke="none" stroke-width="1"/>
<rect x="217.0" y="383.0" width="26.0" height="8.0" rx="6.4" ry="4.0" fill="#0a0a0a" fill-opacity="0.2" filter="url(#blur2)"/>
<rect x="218.0" y="393.2" width="22.0" height="4.6" rx="3.7" ry="2.3" fill="#0a0a0a" fill-opacity="0.95" filter="url(#blur1)"/>
<rect x="217.0" y="392.0" width="10.0" height="7.0" rx="5.6" ry="3.5" fill="#0a0a0a" fill-opacity="0.92" filter="url(#blur1)"/>
<rect x="218.0" y="381.0" width="3.0" height="18.0" rx="2.4" ry="9.0" fill="#0a0a0a" fill-opacity="0.5" filter="url(#blur1)"/>
<rect x="252.0" y="394.3" width="20.0" height="2.6" rx="2.1" ry="1.3" fill="#0a0a0a" fill-opacity="0.35" filter="url(#blur1)"/>
<rect x="214.00" y="380.70" width="68.50" height="23.50" fill="none" stroke="#000" stroke-width="1.0"/>
<text x="190.30" y="396.25" font-size="11" text-anchor="middle" font-family='"Liberation Serif", serif' font-weight="bold">TNC</text>
<line x1="282.50" y1="392.45" x2="285.70" y2="392.45" stroke="#000" stroke-width="1.0"/>
<text x="289.00" y="396.25" font-size="11" text-anchor="start" font-family='"Liberation Serif", serif'>200</text>
<rect x="214.00" y="409.30" width="68.50" height="23.50" fill="#F1F1F1" stroke="none" stroke-width="1"/>
<rect x="219.0" y="416.6" width="22.0" height="6.0" rx="4.8" ry="3.0" fill="#0a0a0a" fill-opacity="0.97" filter="url(#blur1)"/>
<rect x="255.0" y="415.7" width="19.0" height="6.6" rx="5.3" ry="3.3" fill="#0a0a0a" fill-opacity="0.97" filter="url(#blur1)"/>
<rect x="250.0" y="418.0" width="8.0" height="4.0" rx="3.2" ry="2.0" fill="#0a0a0a" fill-opacity="0.55" filter="url(#blur1)"/>
<rect x="214.00" y="409.30" width="68.50" height="23.50" fill="none" stroke="#000" stroke-width="1.0"/>
<text x="190.30" y="424.85" font-size="11" text-anchor="middle" font-family='"Liberation Serif", serif' font-weight="bold">β-actin</text>
<line x1="282.50" y1="421.05" x2="285.70" y2="421.05" stroke="#000" stroke-width="1.0"/>
<text x="289.00" y="424.85" font-size="11" text-anchor="start" font-family='"Liberation Serif", serif'>43</text>
<text transform="translate(327.80 285.70) scale(1 1.1)" font-size="18.6" font-weight="bold" font-family='"Liberation Serif", serif'>E</text>
<text x="426.60" y="312.70" font-size="11" text-anchor="start" font-family='"Liberation Serif", serif'>HepG2</text>
<line x1="415.40" y1="317.40" x2="468.50" y2="317.40" stroke="#000" stroke-width="0.8"/>
<text x="415.50" y="349.00" font-size="11" text-anchor="start" font-family='"Liberation Serif", serif' transform="rotate(-45 415.50 349.00)">vector</text>
<text x="449.00" y="349.80" font-size="11" text-anchor="start" font-family='"Liberation Serif", serif' transform="rotate(-50 449.00 349.80)">CREB5</text>
<text x="475.80" y="349.00" font-size="11" text-anchor="start" font-family='"Liberation Serif", serif'>kDa</text>
<rect x="397.40" y="353.10" width="68.70" height="23.50" fill="#F1F1F1" stroke="none" stroke-width="1"/>
<rect x="399.0" y="360.4" width="30.0" height="10.0" rx="8.0" ry="5.0" fill="#0a0a0a" fill-opacity="0.22" filter="url(#blur2)"/>
<rect x="438.0" y="358.0" width="25.0" height="13.0" rx="10.4" ry="6.5" fill="#0a0a0a" fill-opacity="0.85" filter="url(#blur1)"/>
<rect x="440.0" y="358.2" width="21.0" height="4.5" rx="3.6" ry="2.2" fill="#0a0a0a" fill-opacity="0.97" filter="url(#blur1)"/>
<rect x="440.0" y="365.5" width="21.0" height="5.0" rx="4.0" ry="2.5" fill="#0a0a0a" fill-opacity="0.97" filter="url(#blur1)"/>
<rect x="397.40" y="353.10" width="68.70" height="23.50" fill="none" stroke="#000" stroke-width="1.0"/>
<text x="376.00" y="368.65" font-size="11" text-anchor="middle" font-family='"Liberation Serif", serif' font-weight="bold">CREB5</text>
<line x1="466.10" y1="364.85" x2="469.30" y2="364.85" stroke="#000" stroke-width="1.0"/>
<text x="472.60" y="368.65" font-size="11" text-anchor="start" font-family='"Liberation Serif", serif'>56</text>
<rect x="397.40" y="381.10" width="68.70" height="23.50" fill="#F1F1F1" stroke="none" stroke-width="1"/>
<rect x="401.0" y="392.0" width="24.0" height="2.8" rx="2.2" ry="1.4" fill="#0a0a0a" fill-opacity="0.3" filter="url(#blur1)"/>
<rect x="400.0" y="398.7" width="26.0" height="2.6" rx="2.1" ry="1.3" fill="#0a0a0a" fill-opacity="0.13" filter="url(#blur1)"/>
<rect x="437.0" y="391.4" width="25.0" height="3.6" rx="2.9" ry="1.8" fill="#0a0a0a" fill-opacity="0.93" filter="url(#blur1)"/>
<rect x="437.0" y="398.7" width="25.0" height="2.6" rx="2.1" ry="1.3" fill="#0a0a0a" fill-opacity="0.16" filter="url(#blur1)"/>
<rect x="397.40" y="381.10" width="68.70" height="23.50" fill="none" stroke="#000" stroke-width="1.0"/>
<text x="376.00" y="396.65" font-size="11" text-anchor="middle" font-family='"Liberation Serif", serif' font-weight="bold">TNC</text>
<line x1="466.10" y1="392.85" x2="469.30" y2="392.85" stroke="#000" stroke-width="1.0"/>
<text x="472.60" y="396.65" font-size="11" text-anchor="start" font-family='"Liberation Serif", serif'>200</text>
<rect x="397.40" y="409.70" width="68.70" height="23.80" fill="#F1F1F1" stroke="none" stroke-width="1"/>
<rect x="400.0" y="418.3" width="18.0" height="5.4" rx="4.3" ry="2.7" fill="#0a0a0a" fill-opacity="0.97" filter="url(#blur1)"/>
<rect x="412.0" y="419.8" width="14.0" height="3.5" rx="2.8" ry="1.8" fill="#0a0a0a" fill-opacity="0.7" filter="url(#blur1)"/>
<rect x="437.0" y="417.9" width="25.0" height="6.2" rx="5.0" ry="3.1" fill="#0a0a0a" fill-opacity="0.98" filter="url(#blur1)"/>
<rect x="397.40" y="409.70" width="68.70" height="23.80" fill="none" stroke="#000" stroke-width="1.0"/>
<text x="376.00" y="425.40" font-size="11" text-anchor="middle" font-family='"Liberation Serif", serif' font-weight="bold">β-actin</text>
<line x1="466.10" y1="421.60" x2="469.30" y2="421.60" stroke="#000" stroke-width="1.0"/>
<text x="472.60" y="425.40" font-size="11" text-anchor="start" font-family='"Liberation Serif", serif'>43</text>
<text x="565.50" y="311.20" font-size="11" text-anchor="start" font-family='"Liberation Serif", serif'>Huh7</text>
<line x1="554.30" y1="315.30" x2="607.00" y2="315.30" stroke="#000" stroke-width="0.8"/>
<text x="564.50" y="348.30" font-size="11" text-anchor="start" font-family='"Liberation Serif", serif' transform="rotate(-45 564.50 348.30)">vector</text>
<text x="592.80" y="349.00" font-size="11" text-anchor="start" font-family='"Liberation Serif", serif' transform="rotate(-50 592.80 349.00)">CREB5</text>
<text x="611.90" y="347.00" font-size="11" text-anchor="start" font-family='"Liberation Serif", serif'>kDa</text>
<rect x="544.00" y="353.10" width="68.50" height="23.50" fill="#F1F1F1" stroke="none" stroke-width="1"/>
<rect x="548.0" y="360.5" width="24.0" height="11.0" rx="8.8" ry="5.5" fill="#0a0a0a" fill-opacity="0.24" filter="url(#blur2)"/>
<rect x="582.0" y="361.5" width="26.0" height="7.0" rx="5.6" ry="3.5" fill="#0a0a0a" fill-opacity="0.8" filter="url(#blur2)"/>
<rect x="582.0" y="362.5" width="6.0" height="4.0" rx="3.2" ry="2.0" fill="#0a0a0a" fill-opacity="0.95" filter="url(#blur1)"/>
<rect x="583.0" y="370.0" width="24.0" height="4.0" rx="3.2" ry="2.0" fill="#0a0a0a" fill-opacity="0.35" filter="url(#blur1)"/>
<rect x="544.00" y="353.10" width="68.50" height="23.50" fill="none" stroke="#000" stroke-width="1.0"/>
<text x="522.50" y="368.65" font-size="11" text-anchor="middle" font-family='"Liberation Serif", serif' font-weight="bold">CREB5</text>
<line x1="612.50" y1="364.85" x2="615.70" y2="364.85" stroke="#000" stroke-width="1.0"/>
<text x="619.00" y="368.65" font-size="11" text-anchor="start" font-family='"Liberation Serif", serif'>56</text>
<rect x="544.00" y="381.10" width="68.50" height="23.10" fill="#F1F1F1" stroke="none" stroke-width="1"/>
<rect x="549.0" y="393.0" width="21.0" height="4.0" rx="3.2" ry="2.0" fill="#0a0a0a" fill-opacity="0.65" filter="url(#blur1)"/>
<rect x="582.0" y="391.8" width="25.0" height="6.5" rx="5.2" ry="3.2" fill="#0a0a0a" fill-opacity="0.98" filter="url(#blur1)"/>
<rect x="544.00" y="381.10" width="68.50" height="23.10" fill="none" stroke="#000" stroke-width="1.0"/>
<text x="522.50" y="396.45" font-size="11" text-anchor="middle" font-family='"Liberation Serif", serif' font-weight="bold">TNC</text>
<line x1="612.50" y1="392.65" x2="615.70" y2="392.65" stroke="#000" stroke-width="1.0"/>
<text x="619.00" y="396.45" font-size="11" text-anchor="start" font-family='"Liberation Serif", serif'>200</text>
<rect x="544.00" y="409.30" width="68.50" height="23.50" fill="#F1F1F1" stroke="none" stroke-width="1"/>
<rect x="548.0" y="418.6" width="24.0" height="6.0" rx="4.8" ry="3.0" fill="#0a0a0a" fill-opacity="0.98" filter="url(#blur1)"/>
<rect x="582.0" y="418.2" width="25.0" height="6.0" rx="4.8" ry="3.0" fill="#0a0a0a" fill-opacity="0.98" filter="url(#blur1)"/>
<rect x="544.00" y="409.30" width="68.50" height="23.50" fill="none" stroke="#000" stroke-width="1.0"/>
<text x="522.50" y="424.85" font-size="11" text-anchor="middle" font-family='"Liberation Serif", serif' font-weight="bold">β-actin</text>
<line x1="612.50" y1="421.05" x2="615.70" y2="421.05" stroke="#000" stroke-width="1.0"/>
<text x="619.00" y="424.85" font-size="11" text-anchor="start" font-family='"Liberation Serif", serif'>43</text>
<text transform="translate(1.80 472.20) scale(1 1.1)" font-size="18.6" font-weight="bold" font-family='"Liberation Serif", serif'>F</text>
<g transform="translate(94.15 581.85) scale(1.025 1) translate(-94.15 -581.85)">
<path d="M37.66 546.01A66.9 66.9 0 0 0 36.10 548.60Q94.2 581.9 151.74 547.81A66.9 66.9 0 0 0 149.84 544.78Q94.2 581.9 37.66 546.01Z" fill="#FFFFFF" stroke="#3a3a3a" stroke-width="0.35"/>
<path d="M31.91 557.32A66.9 66.9 0 0 0 30.86 560.16Q94.2 581.9 153.48 550.93A66.9 66.9 0 0 0 151.74 547.81Q94.2 581.9 31.91 557.32Z" fill="#FFFFFF" stroke="#3a3a3a" stroke-width="0.35"/>
<path d="M27.68 574.30A66.9 66.9 0 0 0 27.33 578.52Q94.2 581.9 155.62 555.46A66.9 66.9 0 0 0 153.48 550.93Q94.2 581.9 27.68 574.30Z" fill="#FFFFFF" stroke="#3a3a3a" stroke-width="0.35"/>
<path d="M27.33 578.52A66.9 66.9 0 0 0 27.26 582.76Q94.2 581.9 157.42 560.12A66.9 66.9 0 0 0 155.62 555.46Q94.2 581.9 27.33 578.52Z" fill="#FFFFFF" stroke="#3a3a3a" stroke-width="0.35"/>
<path d="M27.68 589.40A66.9 66.9 0 0 0 28.40 594.18Q94.2 581.9 159.05 565.61A66.9 66.9 0 0 0 157.42 560.12Q94.2 581.9 27.68 589.40Z" fill="#FFFFFF" stroke="#3a3a3a" stroke-width="0.35"/>
<path d="M39.69 543.00A66.9 66.9 0 0 0 37.66 546.01Q94.2 581.9 145.28 538.70A66.9 66.9 0 0 0 142.64 535.76Q94.2 581.9 39.69 543.00Z" fill="#9CC2E5" stroke="#3a3a3a" stroke-width="0.35"/>
<path d="M36.10 548.60A66.9 66.9 0 0 0 34.38 551.80Q94.2 581.9 147.74 541.80A66.9 66.9 0 0 0 145.28 538.70Q94.2 581.9 36.10 548.60Z" fill="#9CC2E5" stroke="#3a3a3a" stroke-width="0.35"/>
<path d="M27.26 582.76A66.9 66.9 0 0 0 27.37 585.78Q94.2 581.9 149.65 544.49A66.9 66.9 0 0 0 147.74 541.80Q94.2 581.9 27.26 582.76Z" fill="#9CC2E5" stroke="#3a3a3a" stroke-width="0.35"/>
<path d="M93.45 514.95A66.9 66.9 0 0 0 88.01 515.23Q94.2 581.9 100.36 515.24A66.9 66.9 0 0 0 94.33 514.95Q94.2 581.9 93.45 514.95Z" fill="#3F76C4" stroke="#3a3a3a" stroke-width="0.35"/>
<path d="M88.01 515.23A66.9 66.9 0 0 0 82.61 515.95Q94.2 581.9 106.34 516.07A66.9 66.9 0 0 0 100.36 515.24Q94.2 581.9 88.01 515.23Z" fill="#3F76C4" stroke="#3a3a3a" stroke-width="0.35"/>
<path d="M76.71 517.26A66.9 66.9 0 0 0 72.09 518.69Q94.2 581.9 111.58 517.26A66.9 66.9 0 0 0 106.34 516.07Q94.2 581.9 76.71 517.26Z" fill="#3F76C4" stroke="#3a3a3a" stroke-width="0.35"/>
<path d="M64.29 521.99A66.9 66.9 0 0 0 61.08 523.69Q94.2 581.9 115.43 518.43A66.9 66.9 0 0 0 111.58 517.26Q94.2 581.9 64.29 521.99Z" fill="#3F76C4" stroke="#3a3a3a" stroke-width="0.35"/>
<path d="M61.08 523.69A66.9 66.9 0 0 0 57.98 525.57Q94.2 581.9 119.21 519.82A66.9 66.9 0 0 0 115.43 518.43Q94.2 581.9 61.08 523.69Z" fill="#3F76C4" stroke="#3a3a3a" stroke-width="0.35"/>
<path d="M53.04 529.07A66.9 66.9 0 0 0 49.63 531.91Q94.2 581.9 123.70 521.83A66.9 66.9 0 0 0 119.21 519.82Q94.2 581.9 53.04 529.07Z" fill="#3F76C4" stroke="#3a3a3a" stroke-width="0.35"/>
<path d="M49.63 531.91A66.9 66.9 0 0 0 46.42 534.97Q94.2 581.9 128.04 524.17A66.9 66.9 0 0 0 123.70 521.83Q94.2 581.9 49.63 531.91Z" fill="#3F76C4" stroke="#3a3a3a" stroke-width="0.35"/>
<path d="M46.42 534.97A66.9 66.9 0 0 0 43.42 538.24Q94.2 581.9 132.19 526.82A66.9 66.9 0 0 0 128.04 524.17Q94.2 581.9 46.42 534.97Z" fill="#3F76C4" stroke="#3a3a3a" stroke-width="0.35"/>
<path d="M29.16 565.97A66.9 66.9 0 0 0 28.29 570.11Q94.2 581.9 135.96 529.62A66.9 66.9 0 0 0 132.19 526.82Q94.2 581.9 29.16 565.97Z" fill="#3F76C4" stroke="#3a3a3a" stroke-width="0.35"/>
<path d="M28.29 570.11A66.9 66.9 0 0 0 27.68 574.30Q94.2 581.9 139.52 532.68A66.9 66.9 0 0 0 135.96 529.62Q94.2 581.9 28.29 570.11Z" fill="#3F76C4" stroke="#3a3a3a" stroke-width="0.35"/>
<path d="M27.37 585.78A66.9 66.9 0 0 0 27.68 589.40Q94.2 581.9 142.40 535.50A66.9 66.9 0 0 0 139.52 532.68Q94.2 581.9 27.37 585.78Z" fill="#3F76C4" stroke="#3a3a3a" stroke-width="0.35"/>
<path d="M82.61 515.95A66.9 66.9 0 0 0 80.24 516.41Q94.2 581.9 159.79 568.92A66.9 66.9 0 0 0 159.13 565.95Q94.2 581.9 82.61 515.95Z" fill="#E8909F" stroke="#3a3a3a" stroke-width="0.35"/>
<path d="M72.09 518.69A66.9 66.9 0 0 0 68.69 519.98Q94.2 581.9 160.52 573.43A66.9 66.9 0 0 0 159.79 568.92Q94.2 581.9 72.09 518.69Z" fill="#E8909F" stroke="#3a3a3a" stroke-width="0.35"/>
<path d="M34.38 551.80A66.9 66.9 0 0 0 33.33 553.98Q94.2 581.9 160.83 576.45A66.9 66.9 0 0 0 160.52 573.43Q94.2 581.9 34.38 551.80Z" fill="#E8909F" stroke="#3a3a3a" stroke-width="0.35"/>
<path d="M30.86 560.16A66.9 66.9 0 0 0 30.12 562.47Q94.2 581.9 161.01 579.49A66.9 66.9 0 0 0 160.83 576.45Q94.2 581.9 30.86 560.16Z" fill="#E8909F" stroke="#3a3a3a" stroke-width="0.35"/>
<path d="M28.40 594.18A66.9 66.9 0 0 0 29.16 597.73Q94.2 581.9 161.01 584.05A66.9 66.9 0 0 0 161.01 579.49Q94.2 581.9 28.40 594.18Z" fill="#E8909F" stroke="#3a3a3a" stroke-width="0.35"/>
<path d="M30.48 602.39A66.9 66.9 0 0 0 32.36 607.50Q94.2 581.9 160.44 590.87A66.9 66.9 0 0 0 161.01 584.05Q94.2 581.9 30.48 602.39Z" fill="#E8909F" stroke="#3a3a3a" stroke-width="0.35"/>
<path d="M32.36 607.50A66.9 66.9 0 0 0 34.65 612.44Q94.2 581.9 159.17 597.60A66.9 66.9 0 0 0 160.44 590.87Q94.2 581.9 32.36 607.50Z" fill="#E8909F" stroke="#3a3a3a" stroke-width="0.35"/>
<path d="M37.02 616.66A66.9 66.9 0 0 0 39.45 620.37Q94.2 581.9 157.63 602.96A66.9 66.9 0 0 0 159.17 597.60Q94.2 581.9 37.02 616.66Z" fill="#E8909F" stroke="#3a3a3a" stroke-width="0.35"/>
<path d="M39.45 620.37A66.9 66.9 0 0 0 42.13 623.91Q94.2 581.9 155.65 608.17A66.9 66.9 0 0 0 157.63 602.96Q94.2 581.9 39.45 620.37Z" fill="#E8909F" stroke="#3a3a3a" stroke-width="0.35"/>
<path d="M42.13 623.91A66.9 66.9 0 0 0 45.03 627.27Q94.2 581.9 153.25 613.21A66.9 66.9 0 0 0 155.65 608.17Q94.2 581.9 42.13 623.91Z" fill="#E8909F" stroke="#3a3a3a" stroke-width="0.35"/>
<path d="M80.24 516.41A66.9 66.9 0 0 0 76.71 517.26Q94.2 581.9 151.69 615.99A66.9 66.9 0 0 0 153.08 613.52Q94.2 581.9 80.24 516.41Z" fill="#D42A3C" stroke="#3a3a3a" stroke-width="0.35"/>
<path d="M68.69 519.98A66.9 66.9 0 0 0 64.29 521.99Q94.2 581.9 149.66 619.19A66.9 66.9 0 0 0 151.69 615.99Q94.2 581.9 68.69 519.98Z" fill="#D42A3C" stroke="#3a3a3a" stroke-width="0.35"/>
<path d="M57.98 525.57A66.9 66.9 0 0 0 53.04 529.07Q94.2 581.9 146.88 623.02A66.9 66.9 0 0 0 149.66 619.19Q94.2 581.9 57.98 525.57Z" fill="#D42A3C" stroke="#3a3a3a" stroke-width="0.35"/>
<path d="M43.42 538.24A66.9 66.9 0 0 0 39.69 543.00Q94.2 581.9 143.84 626.64A66.9 66.9 0 0 0 146.88 623.02Q94.2 581.9 43.42 538.24Z" fill="#D42A3C" stroke="#3a3a3a" stroke-width="0.35"/>
<path d="M33.33 553.98A66.9 66.9 0 0 0 31.91 557.32Q94.2 581.9 141.90 628.71A66.9 66.9 0 0 0 143.84 626.64Q94.2 581.9 33.33 553.98Z" fill="#D42A3C" stroke="#3a3a3a" stroke-width="0.35"/>
<path d="M30.12 562.47A66.9 66.9 0 0 0 29.16 565.97Q94.2 581.9 139.87 630.69A66.9 66.9 0 0 0 141.90 628.71Q94.2 581.9 30.12 562.47Z" fill="#D42A3C" stroke="#3a3a3a" stroke-width="0.35"/>
<path d="M29.16 597.73A66.9 66.9 0 0 0 30.48 602.39Q94.2 581.9 137.03 633.20A66.9 66.9 0 0 0 139.87 630.69Q94.2 581.9 29.16 597.73Z" fill="#D42A3C" stroke="#3a3a3a" stroke-width="0.35"/>
<path d="M34.65 612.44A66.9 66.9 0 0 0 37.02 616.66Q94.2 581.9 134.06 635.54A66.9 66.9 0 0 0 137.03 633.20Q94.2 581.9 34.65 612.44Z" fill="#D42A3C" stroke="#3a3a3a" stroke-width="0.35"/>
<path d="M45.03 627.27A66.9 66.9 0 0 0 49.33 631.52Q94.2 581.9 130.17 638.23A66.9 66.9 0 0 0 134.06 635.54Q94.2 581.9 45.03 627.27Z" fill="#D42A3C" stroke="#3a3a3a" stroke-width="0.35"/>
<path d="M49.33 631.52A66.9 66.9 0 0 0 54.00 635.36Q94.2 581.9 126.09 640.63A66.9 66.9 0 0 0 130.17 638.23Q94.2 581.9 49.33 631.52Z" fill="#D42A3C" stroke="#3a3a3a" stroke-width="0.35"/>
<path d="M54.00 635.36A66.9 66.9 0 0 0 59.00 638.77Q94.2 581.9 121.86 642.74A66.9 66.9 0 0 0 126.09 640.63Q94.2 581.9 54.00 635.36Z" fill="#D42A3C" stroke="#3a3a3a" stroke-width="0.35"/>
<path d="M59.00 638.77A66.9 66.9 0 0 0 64.29 641.71Q94.2 581.9 117.48 644.55A66.9 66.9 0 0 0 121.86 642.74Q94.2 581.9 59.00 638.77Z" fill="#D42A3C" stroke="#3a3a3a" stroke-width="0.35"/>
<path d="M64.29 641.71A66.9 66.9 0 0 0 69.82 644.17Q94.2 581.9 112.99 646.04A66.9 66.9 0 0 0 117.48 644.55Q94.2 581.9 64.29 641.71Z" fill="#D42A3C" stroke="#3a3a3a" stroke-width="0.35"/>
<path d="M69.82 644.17A66.9 66.9 0 0 0 75.54 646.11Q94.2 581.9 108.41 647.21A66.9 66.9 0 0 0 112.99 646.04Q94.2 581.9 69.82 644.17Z" fill="#D42A3C" stroke="#3a3a3a" stroke-width="0.35"/>
<path d="M75.54 646.11A66.9 66.9 0 0 0 81.42 647.53Q94.2 581.9 103.76 648.06A66.9 66.9 0 0 0 108.41 647.21Q94.2 581.9 75.54 646.11Z" fill="#D42A3C" stroke="#3a3a3a" stroke-width="0.35"/>
<path d="M81.42 647.53A66.9 66.9 0 0 0 87.41 648.41Q94.2 581.9 99.05 648.57A66.9 66.9 0 0 0 103.76 648.06Q94.2 581.9 81.42 647.53Z" fill="#D42A3C" stroke="#3a3a3a" stroke-width="0.35"/>
<path d="M87.41 648.41A66.9 66.9 0 0 0 93.45 648.75Q94.2 581.9 94.33 648.75A66.9 66.9 0 0 0 99.05 648.57Q94.2 581.9 87.41 648.41Z" fill="#D42A3C" stroke="#3a3a3a" stroke-width="0.35"/>
<path d="M94.15 508.05A73.8 73.8 0 0 1 147.50 530.86L142.52 535.63A66.9 66.9 0 0 0 94.15 514.95Z" fill="#6D98C8" stroke="#555" stroke-width="0.35"/>
<path d="M147.50 530.86A73.8 73.8 0 0 1 155.48 540.80L149.74 544.63A66.9 66.9 0 0 0 142.52 535.63Z" fill="#A9C4DE" stroke="#555" stroke-width="0.35"/>
<path d="M155.48 540.80A73.8 73.8 0 0 1 165.79 564.12L159.09 565.78A66.9 66.9 0 0 0 149.74 544.63Z" fill="#E4E4E4" stroke="#555" stroke-width="0.35"/>
<path d="M165.79 564.12A73.8 73.8 0 0 1 159.25 616.61L153.16 613.36A66.9 66.9 0 0 0 159.09 565.78Z" fill="#D9A4B1" stroke="#555" stroke-width="0.35"/>
<path d="M159.25 616.61A73.8 73.8 0 0 1 94.15 655.65L94.15 648.75A66.9 66.9 0 0 0 153.16 613.36Z" fill="#C95A6C" stroke="#555" stroke-width="0.35"/>
<path d="M82.24 509.02A73.8 73.8 0 0 1 93.06 508.06L93.10 511.26A70.6 70.6 0 0 0 82.75 512.18Z" fill="#C6C6C6" stroke="#6a6a6a" stroke-width="0.45"/>
<path d="M71.06 511.75A73.8 73.8 0 0 1 81.60 509.12L82.15 512.28A70.6 70.6 0 0 0 72.06 514.79Z" fill="#C6C6C6" stroke="#6a6a6a" stroke-width="0.45"/>
<path d="M60.45 516.19A73.8 73.8 0 0 1 70.45 511.96L71.48 514.99A70.6 70.6 0 0 0 61.91 519.04Z" fill="#C6C6C6" stroke="#6a6a6a" stroke-width="0.45"/>
<path d="M50.66 522.23A73.8 73.8 0 0 1 59.88 516.49L61.36 519.32A70.6 70.6 0 0 0 52.54 524.81Z" fill="#C6C6C6" stroke="#6a6a6a" stroke-width="0.45"/>
<path d="M41.92 529.71A73.8 73.8 0 0 1 50.14 522.61L52.05 525.18A70.6 70.6 0 0 0 44.18 531.97Z" fill="#C6C6C6" stroke="#6a6a6a" stroke-width="0.45"/>
<path d="M34.45 538.46A73.8 73.8 0 0 1 41.47 530.17L43.75 532.41A70.6 70.6 0 0 0 37.04 540.34Z" fill="#C6C6C6" stroke="#6a6a6a" stroke-width="0.45"/>
<path d="M28.43 548.27A73.8 73.8 0 0 1 34.08 538.98L36.68 540.84A70.6 70.6 0 0 0 31.28 549.72Z" fill="#C6C6C6" stroke="#6a6a6a" stroke-width="0.45"/>
<path d="M24.01 558.89A73.8 73.8 0 0 1 28.14 548.84L31.01 550.27A70.6 70.6 0 0 0 27.06 559.88Z" fill="#C6C6C6" stroke="#6a6a6a" stroke-width="0.45"/>
<path d="M21.30 570.06A73.8 73.8 0 0 1 23.82 559.50L26.87 560.47A70.6 70.6 0 0 0 24.46 570.57Z" fill="#C6C6C6" stroke="#6a6a6a" stroke-width="0.45"/>
<path d="M20.35 581.53A73.8 73.8 0 0 1 21.20 570.70L24.36 571.18A70.6 70.6 0 0 0 23.55 581.54Z" fill="#C6C6C6" stroke="#6a6a6a" stroke-width="0.45"/>
<path d="M21.20 593.00A73.8 73.8 0 0 1 20.35 582.17L23.55 582.16A70.6 70.6 0 0 0 24.36 592.52Z" fill="#C6C6C6" stroke="#6a6a6a" stroke-width="0.45"/>
<path d="M23.82 604.20A73.8 73.8 0 0 1 21.30 593.64L24.46 593.13A70.6 70.6 0 0 0 26.87 603.23Z" fill="#C6C6C6" stroke="#6a6a6a" stroke-width="0.45"/>
<path d="M28.14 614.86A73.8 73.8 0 0 1 24.01 604.81L27.06 603.82A70.6 70.6 0 0 0 31.01 613.43Z" fill="#C6C6C6" stroke="#6a6a6a" stroke-width="0.45"/>
<path d="M34.08 624.72A73.8 73.8 0 0 1 28.43 615.43L31.28 613.98A70.6 70.6 0 0 0 36.68 622.86Z" fill="#C6C6C6" stroke="#6a6a6a" stroke-width="0.45"/>
<path d="M41.47 633.53A73.8 73.8 0 0 1 34.45 625.24L37.04 623.36A70.6 70.6 0 0 0 43.75 631.29Z" fill="#C6C6C6" stroke="#6a6a6a" stroke-width="0.45"/>
<path d="M50.14 641.09A73.8 73.8 0 0 1 41.92 633.99L44.18 631.73A70.6 70.6 0 0 0 52.05 638.52Z" fill="#C6C6C6" stroke="#6a6a6a" stroke-width="0.45"/>
<path d="M59.88 647.21A73.8 73.8 0 0 1 50.66 641.47L52.54 638.89A70.6 70.6 0 0 0 61.36 644.38Z" fill="#C6C6C6" stroke="#6a6a6a" stroke-width="0.45"/>
<path d="M70.45 651.74A73.8 73.8 0 0 1 60.45 647.51L61.91 644.66A70.6 70.6 0 0 0 71.48 648.71Z" fill="#C6C6C6" stroke="#6a6a6a" stroke-width="0.45"/>
<path d="M81.60 654.58A73.8 73.8 0 0 1 71.06 651.95L72.06 648.91A70.6 70.6 0 0 0 82.15 651.42Z" fill="#C6C6C6" stroke="#6a6a6a" stroke-width="0.45"/>
<path d="M93.06 655.64A73.8 73.8 0 0 1 82.24 654.68L82.75 651.52A70.6 70.6 0 0 0 93.10 652.44Z" fill="#C6C6C6" stroke="#6a6a6a" stroke-width="0.45"/>
</g>
<text x="87.10" y="504.35" font-size="4.3" font-family='"Liberation Serif", serif' text-anchor="end" dominant-baseline="middle" transform="rotate(444.9 87.10 504.35)">ITGA11</text>
<text x="74.84" y="506.36" font-size="4.3" font-family='"Liberation Serif", serif' text-anchor="end" dominant-baseline="middle" transform="rotate(436.0 74.84 506.36)">CDK6</text>
<text x="63.06" y="510.21" font-size="4.3" font-family='"Liberation Serif", serif' text-anchor="end" dominant-baseline="middle" transform="rotate(427.0 63.06 510.21)">CCNE2</text>
<text x="52.02" y="515.79" font-size="4.3" font-family='"Liberation Serif", serif' text-anchor="end" dominant-baseline="middle" transform="rotate(418.1 52.02 515.79)">BRCA1</text>
<text x="42.01" y="522.98" font-size="4.3" font-family='"Liberation Serif", serif' text-anchor="end" dominant-baseline="middle" transform="rotate(409.2 42.01 522.98)">PIK3</text>
<text x="33.27" y="531.60" font-size="4.3" font-family='"Liberation Serif", serif' text-anchor="end" dominant-baseline="middle" transform="rotate(400.2 33.27 531.60)">CREB5</text>
<text x="26.00" y="541.44" font-size="4.3" font-family='"Liberation Serif", serif' text-anchor="end" dominant-baseline="middle" transform="rotate(391.3 26.00 541.44)">TNC</text>
<text x="20.40" y="552.27" font-size="4.3" font-family='"Liberation Serif", serif' text-anchor="end" dominant-baseline="middle" transform="rotate(382.3 20.40 552.27)">ITGB3</text>
<text x="16.58" y="563.81" font-size="4.3" font-family='"Liberation Serif", serif' text-anchor="end" dominant-baseline="middle" transform="rotate(373.4 16.58 563.81)">PDGFC</text>
<text x="14.65" y="575.79" font-size="4.3" font-family='"Liberation Serif", serif' text-anchor="end" dominant-baseline="middle" transform="rotate(364.5 14.65 575.79)">PDGFD</text>
<text x="14.65" y="587.91" font-size="4.3" font-family='"Liberation Serif", serif' text-anchor="end" dominant-baseline="middle" transform="rotate(355.5 14.65 587.91)">APC</text>
<text x="16.58" y="599.89" font-size="4.3" font-family='"Liberation Serif", serif' text-anchor="end" dominant-baseline="middle" transform="rotate(346.6 16.58 599.89)">DICER1</text>
<text x="20.40" y="611.43" font-size="4.3" font-family='"Liberation Serif", serif' text-anchor="end" dominant-baseline="middle" transform="rotate(337.6 20.40 611.43)">ATM</text>
<text x="26.00" y="622.26" font-size="4.3" font-family='"Liberation Serif", serif' text-anchor="end" dominant-baseline="middle" transform="rotate(328.7 26.00 622.26)">ZEB1</text>
<text x="33.27" y="632.10" font-size="4.3" font-family='"Liberation Serif", serif' text-anchor="end" dominant-baseline="middle" transform="rotate(319.8 33.27 632.10)">MARCKS</text>
<text x="42.01" y="640.72" font-size="4.3" font-family='"Liberation Serif", serif' text-anchor="end" dominant-baseline="middle" transform="rotate(310.8 42.01 640.72)">E2F3</text>
<text x="52.02" y="647.91" font-size="4.3" font-family='"Liberation Serif", serif' text-anchor="end" dominant-baseline="middle" transform="rotate(301.9 52.02 647.91)">AR</text>
<text x="63.06" y="653.49" font-size="4.3" font-family='"Liberation Serif", serif' text-anchor="end" dominant-baseline="middle" transform="rotate(292.9 63.06 653.49)">ADAMTS1</text>
<text x="74.84" y="657.34" font-size="4.3" font-family='"Liberation Serif", serif' text-anchor="end" dominant-baseline="middle" transform="rotate(284.0 74.84 657.34)">PDGFRB</text>
<text x="87.10" y="659.35" font-size="4.3" font-family='"Liberation Serif", serif' text-anchor="end" dominant-baseline="middle" transform="rotate(275.1 87.10 659.35)">FZD6</text>
<text x="185.70" y="563.80" font-size="7.4" text-anchor="start" font-family='"Liberation Serif", serif' font-weight="bold">Category</text>
<rect x="186.60" y="568.30" width="3.40" height="3.40" fill="#3F76C4" stroke="#888" stroke-width="0.3"/>
<text x="194.50" y="572.00" font-size="6.1" text-anchor="start" font-family='"Liberation Serif", serif'>PI3K-Akt signaling pathway</text>
<rect x="186.60" y="577.10" width="3.40" height="3.40" fill="#9CC2E5" stroke="#888" stroke-width="0.3"/>
<text x="194.50" y="580.80" font-size="6.1" text-anchor="start" font-family='"Liberation Serif", serif'>ECM-receptor interaction</text>
<rect x="186.60" y="585.90" width="3.40" height="3.40" fill="#FFFFFF" stroke="#888" stroke-width="0.3"/>
<text x="194.50" y="589.60" font-size="6.1" text-anchor="start" font-family='"Liberation Serif", serif'>Focal adhesion</text>
<rect x="186.60" y="594.70" width="3.40" height="3.40" fill="#E8909F" stroke="#888" stroke-width="0.3"/>
<text x="194.50" y="598.40" font-size="6.1" text-anchor="start" font-family='"Liberation Serif", serif'>MicroRNAs in cancer</text>
<rect x="186.60" y="603.50" width="3.40" height="3.40" fill="#D42A3C" stroke="#888" stroke-width="0.3"/>
<text x="194.50" y="607.20" font-size="6.1" text-anchor="start" font-family='"Liberation Serif", serif'>Human papillomavirus infection</text>
<text transform="translate(257.80 472.20) scale(1 1.1)" font-size="18.6" font-weight="bold" font-family='"Liberation Serif", serif'>G</text>
<text x="379.20" y="492.50" font-size="6.2" text-anchor="middle" font-family='"Liberation Serif", serif'>[Reactome] Extracellular Matrix Organization</text>
<rect x="307.00" y="495.00" width="144.40" height="145.40" fill="none" stroke="#000" stroke-width="0.6"/>
<line x1="307.00" y1="570.30" x2="451.40" y2="570.30" stroke="#999" stroke-width="0.5" stroke-dasharray="2,1.5"/>
<path d="M307.00 570.30L307.90 553.20L308.81 539.18L309.71 527.34L310.61 521.06L311.51 514.98L312.42 511.98L313.32 509.83L314.22 507.74L315.12 505.92L316.02 504.43L316.93 503.28L317.83 502.32L318.73 501.68L319.63 501.42L320.54 501.15L321.44 500.52L322.34 499.97L323.25 499.87L324.15 499.24L325.05 499.52L325.95 499.47L326.86 499.53L327.76 499.16L328.66 499.55L329.56 499.70L330.46 500.09L331.37 500.67L332.27 500.72L333.17 500.85L334.07 501.45L334.98 501.42L335.88 502.25L336.78 502.85L337.69 502.93L338.59 503.82L339.49 503.81L340.39 504.57L341.30 504.99L342.20 505.67L343.10 506.14L344.00 506.88L344.90 507.53L345.81 507.58L346.71 508.52L347.61 508.75L348.51 509.65L349.42 509.79L350.32 510.47L351.22 511.18L352.12 511.80L353.03 512.54L353.93 513.08L354.83 514.07L355.74 514.49L356.64 514.90L357.54 515.91L358.44 516.10L359.34 516.75L360.25 517.68L361.15 518.36L362.05 518.96L362.95 519.65L363.86 519.94L364.76 520.96L365.66 521.83L366.56 522.44L367.47 522.72L368.37 523.21L369.27 524.16L370.18 524.82L371.08 525.42L371.98 525.92L372.88 526.85L373.78 527.24L374.69 527.89L375.59 528.47L376.49 529.36L377.39 529.99L378.30 530.50L379.20 530.77L380.10 531.74L381.00 532.21L381.91 532.98L382.81 533.64L383.71 534.20L384.62 534.29L385.52 534.85L386.42 535.62L387.32 535.98L388.23 536.52L389.13 536.92L390.03 537.42L390.93 538.29L391.83 538.48L392.74 539.04L393.64 539.85L394.54 540.26L395.44 541.08L396.35 541.74L397.25 542.41L398.15 542.61L399.05 543.63L399.96 544.27L400.86 544.42L401.76 545.02L402.66 545.79L403.57 546.16L404.47 547.22L405.37 547.68L406.27 548.25L407.18 548.76L408.08 549.49L408.98 550.14L409.88 550.57L410.79 550.81L411.69 551.35L412.59 552.08L413.50 552.83L414.40 553.55L415.30 553.68L416.20 554.48L417.10 554.90L418.01 555.87L418.91 556.30L419.81 556.47L420.71 557.04L421.62 557.53L422.52 558.25L423.42 558.90L424.32 559.35L425.23 559.73L426.13 560.52L427.03 560.84L427.94 561.44L428.84 561.59L429.74 562.50L430.64 562.54L431.54 562.83L432.45 563.84L433.35 563.94L434.25 564.36L435.15 564.68L436.06 565.29L436.96 565.94L437.86 566.29L438.76 566.41L439.67 566.89L440.57 567.80L441.47 568.27L442.38 568.72L443.28 569.23L444.18 569.50L445.08 570.21L445.99 570.30L446.89 570.95L447.79 571.47L448.69 571.67L449.59 571.87L450.50 572.07L451.40 571.00" fill="none" stroke="#74ACD8" stroke-width="0.75" stroke-linejoin="round"/>
<line x1="304.50" y1="570.30" x2="307.00" y2="570.30" stroke="#000" stroke-width="0.6"/>
<text x="303.70" y="572.10" font-size="5.3" text-anchor="end" font-family='"Liberation Serif", serif'>0.0</text>
<line x1="304.50" y1="550.20" x2="307.00" y2="550.20" stroke="#000" stroke-width="0.6"/>
<text x="303.70" y="552.00" font-size="5.3" text-anchor="end" font-family='"Liberation Serif", serif'>0.2</text>
<line x1="304.50" y1="530.10" x2="307.00" y2="530.10" stroke="#000" stroke-width="0.6"/>
<text x="303.70" y="531.90" font-size="5.3" text-anchor="end" font-family='"Liberation Serif", serif'>0.4</text>
<line x1="304.50" y1="510.00" x2="307.00" y2="510.00" stroke="#000" stroke-width="0.6"/>
<text x="303.70" y="511.80" font-size="5.3" text-anchor="end" font-family='"Liberation Serif", serif'>0.6</text>
<text x="447.50" y="503.30" font-size="5.75" text-anchor="end" font-family='"Liberation Serif", serif' xml:space="preserve"><tspan font-style="italic">NES</tspan>  = 2.736</text>
<text x="447.50" y="509.40" font-size="5.75" text-anchor="end" font-family='"Liberation Serif", serif' xml:space="preserve"><tspan font-style="italic">P.adj</tspan>  &lt; 0.001</text>
<text x="447.50" y="515.60" font-size="5.75" text-anchor="end" font-family='"Liberation Serif", serif' xml:space="preserve"><tspan font-style="italic">FDR</tspan>  &lt; 0.001</text>
<line x1="307.00" y1="576.00" x2="451.40" y2="576.00" stroke="#000" stroke-width="0.5"/>
<path d="M307.39 576.00V592.40M307.46 576.00V592.40M307.47 576.00V592.40M308.07 576.00V592.40M308.15 576.00V592.40M308.20 576.00V592.40M309.08 576.00V592.40M309.38 576.00V592.40M309.54 576.00V592.40M309.80 576.00V592.40M309.96 576.00V592.40M309.98 576.00V592.40M310.62 576.00V592.40M310.85 576.00V592.40M310.86 576.00V592.40M311.45 576.00V592.40M311.62 576.00V592.40M311.82 576.00V592.40M311.88 576.00V592.40M312.18 576.00V592.40M312.73 576.00V592.40M312.98 576.00V592.40M313.53 576.00V592.40M313.56 576.00V592.40M314.67 576.00V592.40M315.18 576.00V592.40M315.82 576.00V592.40M316.30 576.00V592.40M317.07 576.00V592.40M317.57 576.00V592.40M317.63 576.00V592.40M318.16 576.00V592.40M318.38 576.00V592.40M318.42 576.00V592.40M318.43 576.00V592.40M319.12 576.00V592.40M319.48 576.00V592.40M320.32 576.00V592.40M320.65 576.00V592.40M320.68 576.00V592.40M321.34 576.00V592.40M321.57 576.00V592.40M321.88 576.00V592.40M321.98 576.00V592.40M322.34 576.00V592.40M322.42 576.00V592.40M322.82 576.00V592.40M323.36 576.00V592.40M323.52 576.00V592.40M323.82 576.00V592.40M324.02 576.00V592.40M324.89 576.00V592.40M325.35 576.00V592.40M325.74 576.00V592.40M325.77 576.00V592.40M325.81 576.00V592.40M325.91 576.00V592.40M325.96 576.00V592.40M326.02 576.00V592.40M326.29 576.00V592.40M326.54 576.00V592.40M326.67 576.00V592.40M327.33 576.00V592.40M327.50 576.00V592.40M328.54 576.00V592.40M329.44 576.00V592.40M329.91 576.00V592.40M329.99 576.00V592.40M330.33 576.00V592.40M330.37 576.00V592.40M330.41 576.00V592.40M330.58 576.00V592.40M330.62 576.00V592.40M330.73 576.00V592.40M331.35 576.00V592.40M331.44 576.00V592.40M333.32 576.00V592.40M333.50 576.00V592.40M333.85 576.00V592.40M334.17 576.00V592.40M334.54 576.00V592.40M334.66 576.00V592.40M335.04 576.00V592.40M335.13 576.00V592.40M335.32 576.00V592.40M335.57 576.00V592.40M336.09 576.00V592.40M336.52 576.00V592.40M336.83 576.00V592.40M336.95 576.00V592.40M337.40 576.00V592.40M337.51 576.00V592.40M337.82 576.00V592.40M338.38 576.00V592.40M338.89 576.00V592.40M339.11 576.00V592.40M339.67 576.00V592.40M340.02 576.00V592.40M340.32 576.00V592.40M340.36 576.00V592.40M340.47 576.00V592.40M340.55 576.00V592.40M341.00 576.00V592.40M342.30 576.00V592.40M343.27 576.00V592.40M343.46 576.00V592.40M343.78 576.00V592.40M343.87 576.00V592.40M344.28 576.00V592.40M344.43 576.00V592.40M344.62 576.00V592.40M344.69 576.00V592.40M345.01 576.00V592.40M345.32 576.00V592.40M345.91 576.00V592.40M346.10 576.00V592.40M347.51 576.00V592.40M348.31 576.00V592.40M348.34 576.00V592.40M348.42 576.00V592.40M349.26 576.00V592.40M349.39 576.00V592.40M349.42 576.00V592.40M349.48 576.00V592.40M349.69 576.00V592.40M349.71 576.00V592.40M349.73 576.00V592.40M350.06 576.00V592.40M350.11 576.00V592.40M350.15 576.00V592.40M350.50 576.00V592.40M350.89 576.00V592.40M351.55 576.00V592.40M352.02 576.00V592.40M352.30 576.00V592.40M353.00 576.00V592.40M353.05 576.00V592.40M353.09 576.00V592.40M353.33 576.00V592.40M353.96 576.00V592.40M354.28 576.00V592.40M354.96 576.00V592.40M355.02 576.00V592.40M355.53 576.00V592.40M355.66 576.00V592.40M356.15 576.00V592.40M356.39 576.00V592.40M356.41 576.00V592.40M356.44 576.00V592.40M356.57 576.00V592.40M356.87 576.00V592.40M357.02 576.00V592.40M358.16 576.00V592.40M358.27 576.00V592.40M359.09 576.00V592.40M360.00 576.00V592.40M360.59 576.00V592.40M361.01 576.00V592.40M361.25 576.00V592.40M361.56 576.00V592.40M361.63 576.00V592.40M362.59 576.00V592.40M363.11 576.00V592.40M363.69 576.00V592.40M364.05 576.00V592.40M364.22 576.00V592.40M364.51 576.00V592.40M364.69 576.00V592.40M364.98 576.00V592.40M365.27 576.00V592.40M365.41 576.00V592.40M365.45 576.00V592.40M365.65 576.00V592.40M366.24 576.00V592.40M366.99 576.00V592.40M367.24 576.00V592.40M368.91 576.00V592.40M371.25 576.00V592.40M374.75 576.00V592.40M378.25 576.00V592.40M380.59 576.00V592.40M382.92 576.00V592.40M384.56 576.00V592.40M387.60 576.00V592.40M388.76 576.00V592.40M390.63 576.00V592.40M392.27 576.00V592.40M394.60 576.00V592.40M396.94 576.00V592.40M400.44 576.00V592.40M415.63 576.00V592.40M417.96 576.00V592.40M421.47 576.00V592.40M423.80 576.00V592.40M430.81 576.00V592.40M432.68 576.00V592.40M434.31 576.00V592.40M436.65 576.00V592.40M438.99 576.00V592.40M440.15 576.00V592.40M442.49 576.00V592.40M444.36 576.00V592.40M445.99 576.00V592.40M447.16 576.00V592.40M449.03 576.00V592.40M450.67 576.00V592.40" stroke="#000" stroke-width="0.6"/>
<rect x="307.00" y="592.40" width="62.05" height="5.30" fill="#DC2A24" stroke="none" stroke-width="1"/>
<rect x="369.00" y="592.40" width="30.35" height="5.30" fill="#E4493A" stroke="none" stroke-width="1"/>
<rect x="399.30" y="592.40" width="21.05" height="5.30" fill="#EDA48E" stroke="none" stroke-width="1"/>
<rect x="420.30" y="592.40" width="12.85" height="5.30" fill="#F8E2D8" stroke="none" stroke-width="1"/>
<rect x="433.10" y="592.40" width="11.75" height="5.30" fill="#DCE7F3" stroke="none" stroke-width="1"/>
<rect x="444.80" y="592.40" width="6.65" height="5.30" fill="#4A8BC9" stroke="none" stroke-width="1"/>
<line x1="307.00" y1="597.70" x2="451.40" y2="597.70" stroke="#000" stroke-width="0.5"/>
<path d="M307.00 619.70L307.00 610.33L308.81 612.34L310.61 613.79L312.42 614.86L314.22 615.64L316.02 616.24L317.83 616.69L319.63 617.04L321.44 617.32L323.25 617.55L325.05 617.74L326.86 617.90L328.66 618.04L330.46 618.17L332.27 618.28L334.07 618.37L335.88 618.47L337.69 618.55L339.49 618.63L341.30 618.70L343.10 618.77L344.90 618.84L346.71 618.90L348.51 618.96L350.32 619.02L352.12 619.07L353.93 619.13L355.74 619.18L357.54 619.23L359.34 619.28L361.15 619.32L362.95 619.37L364.76 619.41L366.56 619.45L368.37 619.49L370.18 619.53L371.98 619.57L373.78 619.61L375.59 619.65L377.39 619.69L379.20 619.72L381.00 619.76L382.81 619.79L384.62 619.83L386.42 619.86L388.23 619.90L390.03 619.93L391.83 619.96L393.64 620.00L395.44 620.03L397.25 620.06L399.05 620.10L400.86 620.13L402.66 620.16L404.47 620.19L406.27 620.22L408.08 620.25L409.88 620.28L411.69 620.32L413.50 620.35L415.30 620.38L417.10 620.41L418.91 620.44L420.71 620.47L422.52 620.50L424.32 620.53L426.13 620.56L427.94 620.59L429.74 620.62L431.54 620.65L433.35 620.68L435.15 620.71L436.96 620.74L438.76 620.84L440.57 621.09L442.38 621.49L444.18 622.03L445.99 622.72L447.79 623.55L449.59 624.53L451.40 625.66L451.40 619.70Z" fill="#C4C4C4" stroke="none" stroke-width="1"/>
<line x1="307.00" y1="619.70" x2="451.40" y2="619.70" stroke="#CFCFCF" stroke-width="0.7"/>
<rect x="307.00" y="597.70" width="144.40" height="42.70" fill="none" stroke="#000" stroke-width="0.8"/>
<rect x="307.00" y="495.00" width="144.40" height="145.40" fill="none" stroke="#000" stroke-width="0.8"/>
<line x1="307.00" y1="640.40" x2="451.40" y2="640.40" stroke="#8a8a8a" stroke-width="1.2"/>
<line x1="304.60" y1="598.40" x2="307.00" y2="598.40" stroke="#000" stroke-width="0.6"/>
<text x="303.40" y="600.50" font-size="6.2" text-anchor="end" font-family='"Liberation Serif", serif'>5.0</text>
<line x1="304.60" y1="609.05" x2="307.00" y2="609.05" stroke="#000" stroke-width="0.6"/>
<text x="303.40" y="611.15" font-size="6.2" text-anchor="end" font-family='"Liberation Serif", serif'>2.5</text>
<line x1="304.60" y1="619.70" x2="307.00" y2="619.70" stroke="#000" stroke-width="0.6"/>
<text x="303.40" y="621.80" font-size="6.2" text-anchor="end" font-family='"Liberation Serif", serif'>0.0</text>
<line x1="304.60" y1="630.35" x2="307.00" y2="630.35" stroke="#000" stroke-width="0.6"/>
<text x="303.40" y="632.45" font-size="6.2" text-anchor="end" font-family='"Liberation Serif", serif'>-2.5</text>
<line x1="307.00" y1="640.40" x2="307.00" y2="642.80" stroke="#000" stroke-width="0.6"/>
<text x="307.00" y="650.20" font-size="6.4" text-anchor="middle" font-family='"Liberation Serif", serif'>0</text>
<line x1="346.45" y1="640.40" x2="346.45" y2="642.80" stroke="#000" stroke-width="0.6"/>
<text x="346.45" y="650.20" font-size="6.4" text-anchor="middle" font-family='"Liberation Serif", serif'>10000</text>
<line x1="385.91" y1="640.40" x2="385.91" y2="642.80" stroke="#000" stroke-width="0.6"/>
<text x="385.91" y="650.20" font-size="6.4" text-anchor="middle" font-family='"Liberation Serif", serif'>20000</text>
<line x1="425.36" y1="640.40" x2="425.36" y2="642.80" stroke="#000" stroke-width="0.6"/>
<text x="425.36" y="650.20" font-size="6.4" text-anchor="middle" font-family='"Liberation Serif", serif'>30000</text>
<text x="379.20" y="656.60" font-size="6.1" text-anchor="middle" font-family='"Liberation Serif", serif'>Rank in Ordered Dataset</text>
<text x="292.50" y="535.50" font-size="6.0" text-anchor="middle" font-family='"Liberation Serif", serif' transform="rotate(-90 292.50 535.50)">Enrichment Score</text>
<text x="290.00" y="620.05" font-size="6.1" text-anchor="middle" font-family='"Liberation Serif", serif' transform="rotate(-90 290.00 620.05)">Ranked list metric</text>
<text transform="translate(474.80 472.20) scale(1 1.1)" font-size="18.6" font-weight="bold" font-family='"Liberation Serif", serif'>H</text>
<text x="585.30" y="487.80" font-size="6.2" text-anchor="middle" font-family='"Liberation Serif", serif'>[WikiPathways] Focal Adhesion Pi3kaktmtorsignaling</text>
<text x="585.30" y="494.70" font-size="6.2" text-anchor="middle" font-family='"Liberation Serif", serif'>Pathway</text>
<rect x="511.40" y="497.80" width="147.80" height="143.00" fill="none" stroke="#000" stroke-width="0.6"/>
<line x1="511.40" y1="572.00" x2="659.20" y2="572.00" stroke="#999" stroke-width="0.5" stroke-dasharray="2,1.5"/>
<path d="M511.40 572.00L512.32 552.09L513.25 541.31L514.17 533.14L515.10 526.69L516.02 522.52L516.94 519.45L517.87 517.10L518.79 515.80L519.71 513.85L520.64 512.00L521.56 510.46L522.49 509.62L523.41 507.95L524.33 506.64L525.26 505.42L526.18 503.86L527.10 502.92L528.03 501.96L528.95 501.28L529.88 501.16L530.80 501.07L531.72 501.02L532.65 500.96L533.57 501.34L534.49 501.02L535.42 501.00L536.34 501.28L537.26 501.06L538.19 501.19L539.11 501.64L540.04 501.74L540.96 502.33L541.88 502.56L542.81 502.10L543.73 502.78L544.65 503.02L545.58 502.82L546.50 503.20L547.43 503.92L548.35 504.06L549.27 504.39L550.20 504.77L551.12 505.45L552.04 505.58L552.97 506.23L553.89 506.66L554.82 507.30L555.74 507.85L556.66 508.40L557.59 508.31L558.51 508.89L559.43 509.52L560.36 510.32L561.28 510.79L562.21 511.33L563.13 511.83L564.05 512.65L564.98 513.14L565.90 513.84L566.83 514.49L567.75 514.81L568.67 515.59L569.60 516.22L570.52 516.94L571.44 517.46L572.37 517.93L573.29 518.90L574.22 519.71L575.14 520.04L576.06 520.71L576.99 521.03L577.91 522.09L578.83 522.16L579.76 523.36L580.68 523.59L581.61 524.26L582.53 524.94L583.45 525.14L584.38 525.87L585.30 526.85L586.22 527.22L587.15 527.73L588.07 528.75L589.00 529.32L589.92 529.56L590.84 530.08L591.77 530.88L592.69 531.51L593.61 532.06L594.54 532.84L595.46 533.02L596.38 533.57L597.31 534.51L598.23 535.44L599.16 535.78L600.08 536.14L601.00 537.11L601.93 537.91L602.85 538.49L603.77 538.77L604.70 539.47L605.62 540.35L606.55 540.76L607.47 541.30L608.39 541.80L609.32 542.54L610.24 543.46L611.17 543.84L612.09 544.42L613.01 545.16L613.94 545.95L614.86 546.77L615.78 547.52L616.71 547.99L617.63 548.85L618.56 549.49L619.48 550.54L620.40 551.33L621.33 551.91L622.25 552.40L623.17 553.11L624.10 554.07L625.02 554.82L625.95 555.02L626.87 556.38L627.79 556.52L628.72 557.37L629.64 558.25L630.56 558.69L631.49 559.65L632.41 560.86L633.34 560.95L634.26 562.02L635.18 562.22L636.11 562.85L637.03 563.88L637.95 564.50L638.88 565.07L639.80 565.09L640.73 565.64L641.65 566.55L642.57 567.01L643.50 567.21L644.42 567.29L645.34 567.71L646.27 568.00L647.19 568.31L648.12 568.84L649.04 569.15L649.96 570.09L650.89 570.46L651.81 570.23L652.73 570.76L653.66 571.33L654.58 571.84L655.51 571.82L656.43 571.92L657.35 572.02L658.28 572.13L659.20 572.23" fill="none" stroke="#74ACD8" stroke-width="0.75" stroke-linejoin="round"/>
<line x1="508.90" y1="572.00" x2="511.40" y2="572.00" stroke="#000" stroke-width="0.6"/>
<text x="508.10" y="573.80" font-size="5.3" text-anchor="end" font-family='"Liberation Serif", serif'>0.0</text>
<line x1="508.90" y1="548.67" x2="511.40" y2="548.67" stroke="#000" stroke-width="0.6"/>
<text x="508.10" y="550.47" font-size="5.3" text-anchor="end" font-family='"Liberation Serif", serif'>0.2</text>
<line x1="508.90" y1="525.33" x2="511.40" y2="525.33" stroke="#000" stroke-width="0.6"/>
<text x="508.10" y="527.13" font-size="5.3" text-anchor="end" font-family='"Liberation Serif", serif'>0.4</text>
<line x1="508.90" y1="502.00" x2="511.40" y2="502.00" stroke="#000" stroke-width="0.6"/>
<text x="508.10" y="503.80" font-size="5.3" text-anchor="end" font-family='"Liberation Serif", serif'>0.6</text>
<text x="655.50" y="505.00" font-size="5.75" text-anchor="end" font-family='"Liberation Serif", serif' xml:space="preserve"><tspan font-style="italic">NES</tspan>  = 2.336</text>
<text x="655.50" y="511.40" font-size="5.75" text-anchor="end" font-family='"Liberation Serif", serif' xml:space="preserve"><tspan font-style="italic">P.adj</tspan>  &lt; 0.001</text>
<text x="655.50" y="517.50" font-size="5.75" text-anchor="end" font-family='"Liberation Serif", serif' xml:space="preserve"><tspan font-style="italic">FDR</tspan>  &lt; 0.001</text>
<line x1="511.40" y1="577.00" x2="659.20" y2="577.00" stroke="#000" stroke-width="0.5"/>
<path d="M511.84 577.00V592.80M512.13 577.00V592.80M512.58 577.00V592.80M512.97 577.00V592.80M512.98 577.00V592.80M513.07 577.00V592.80M513.49 577.00V592.80M513.54 577.00V592.80M514.55 577.00V592.80M514.56 577.00V592.80M515.33 577.00V592.80M515.38 577.00V592.80M515.39 577.00V592.80M515.55 577.00V592.80M516.04 577.00V592.80M516.30 577.00V592.80M516.39 577.00V592.80M516.47 577.00V592.80M517.20 577.00V592.80M517.32 577.00V592.80M517.43 577.00V592.80M517.89 577.00V592.80M517.98 577.00V592.80M518.05 577.00V592.80M518.25 577.00V592.80M519.41 577.00V592.80M519.47 577.00V592.80M519.70 577.00V592.80M520.27 577.00V592.80M520.36 577.00V592.80M520.47 577.00V592.80M520.94 577.00V592.80M521.25 577.00V592.80M521.49 577.00V592.80M521.63 577.00V592.80M521.68 577.00V592.80M522.45 577.00V592.80M522.76 577.00V592.80M523.27 577.00V592.80M523.29 577.00V592.80M523.34 577.00V592.80M523.42 577.00V592.80M523.71 577.00V592.80M523.84 577.00V592.80M524.18 577.00V592.80M524.24 577.00V592.80M524.29 577.00V592.80M524.52 577.00V592.80M525.59 577.00V592.80M525.67 577.00V592.80M525.72 577.00V592.80M525.77 577.00V592.80M526.04 577.00V592.80M526.41 577.00V592.80M526.66 577.00V592.80M526.74 577.00V592.80M526.81 577.00V592.80M526.91 577.00V592.80M527.11 577.00V592.80M527.17 577.00V592.80M527.42 577.00V592.80M527.42 577.00V592.80M527.87 577.00V592.80M528.02 577.00V592.80M528.17 577.00V592.80M528.22 577.00V592.80M528.29 577.00V592.80M528.46 577.00V592.80M528.56 577.00V592.80M528.90 577.00V592.80M529.14 577.00V592.80M529.15 577.00V592.80M529.41 577.00V592.80M529.68 577.00V592.80M530.25 577.00V592.80M530.76 577.00V592.80M530.78 577.00V592.80M530.82 577.00V592.80M530.92 577.00V592.80M531.61 577.00V592.80M532.37 577.00V592.80M532.53 577.00V592.80M532.88 577.00V592.80M533.16 577.00V592.80M533.24 577.00V592.80M533.31 577.00V592.80M533.86 577.00V592.80M534.12 577.00V592.80M534.16 577.00V592.80M534.19 577.00V592.80M534.59 577.00V592.80M534.68 577.00V592.80M535.52 577.00V592.80M536.38 577.00V592.80M536.48 577.00V592.80M537.04 577.00V592.80M537.24 577.00V592.80M537.51 577.00V592.80M537.83 577.00V592.80M538.27 577.00V592.80M538.73 577.00V592.80M538.91 577.00V592.80M538.96 577.00V592.80M539.09 577.00V592.80M539.24 577.00V592.80M540.20 577.00V592.80M541.10 577.00V592.80M541.20 577.00V592.80M541.35 577.00V592.80M541.85 577.00V592.80M542.83 577.00V592.80M542.95 577.00V592.80M543.12 577.00V592.80M543.74 577.00V592.80M544.04 577.00V592.80M544.29 577.00V592.80M544.29 577.00V592.80M545.21 577.00V592.80M545.33 577.00V592.80M547.59 577.00V592.80M547.66 577.00V592.80M548.08 577.00V592.80M548.35 577.00V592.80M548.76 577.00V592.80M549.76 577.00V592.80M550.29 577.00V592.80M551.30 577.00V592.80M551.34 577.00V592.80M551.40 577.00V592.80M551.61 577.00V592.80M551.88 577.00V592.80M551.94 577.00V592.80M552.10 577.00V592.80M552.38 577.00V592.80M552.38 577.00V592.80M552.52 577.00V592.80M553.05 577.00V592.80M553.09 577.00V592.80M553.24 577.00V592.80M553.24 577.00V592.80M553.59 577.00V592.80M554.84 577.00V592.80M555.47 577.00V592.80M555.61 577.00V592.80M555.71 577.00V592.80M555.74 577.00V592.80M556.09 577.00V592.80M556.90 577.00V592.80M556.96 577.00V592.80M557.08 577.00V592.80M557.14 577.00V592.80M557.32 577.00V592.80M557.72 577.00V592.80M557.84 577.00V592.80M558.40 577.00V592.80M558.64 577.00V592.80M559.51 577.00V592.80M559.80 577.00V592.80M560.03 577.00V592.80M560.53 577.00V592.80M560.90 577.00V592.80M561.41 577.00V592.80M561.63 577.00V592.80M561.71 577.00V592.80M562.32 577.00V592.80M563.71 577.00V592.80M564.24 577.00V592.80M566.45 577.00V592.80M566.48 577.00V592.80M566.69 577.00V592.80M567.17 577.00V592.80M567.40 577.00V592.80M569.80 577.00V592.80M570.48 577.00V592.80M570.63 577.00V592.80M571.10 577.00V592.80M571.36 577.00V592.80M571.86 577.00V592.80M572.26 577.00V592.80M572.80 577.00V592.80M573.11 577.00V592.80M576.37 577.00V592.80M576.45 577.00V592.80M576.84 577.00V592.80M577.12 577.00V592.80M577.76 577.00V592.80M578.50 577.00V592.80M578.76 577.00V592.80M578.89 577.00V592.80M579.01 577.00V592.80M579.08 577.00V592.80M579.26 577.00V592.80M579.51 577.00V592.80M579.74 577.00V592.80M579.95 577.00V592.80M581.28 577.00V592.80M581.53 577.00V592.80M581.99 577.00V592.80M582.06 577.00V592.80M582.12 577.00V592.80M582.37 577.00V592.80M582.51 577.00V592.80M582.66 577.00V592.80M583.67 577.00V592.80M585.42 577.00V592.80M585.66 577.00V592.80M586.66 577.00V592.80M587.06 577.00V592.80M587.30 577.00V592.80M587.40 577.00V592.80M588.06 577.00V592.80M591.13 577.00V592.80M591.64 577.00V592.80M592.91 577.00V592.80M593.00 577.00V592.80M594.48 577.00V592.80M595.81 577.00V592.80M598.47 577.00V592.80M601.14 577.00V592.80M602.16 577.00V592.80M603.39 577.00V592.80M604.74 577.00V592.80M605.70 577.00V592.80M605.96 577.00V592.80M606.04 577.00V592.80M606.28 577.00V592.80M606.29 577.00V592.80M608.10 577.00V592.80M610.38 577.00V592.80M618.07 577.00V592.80M618.27 577.00V592.80M618.71 577.00V592.80M620.47 577.00V592.80M620.68 577.00V592.80M625.97 577.00V592.80M626.41 577.00V592.80M627.33 577.00V592.80M629.04 577.00V592.80M633.28 577.00V592.80M634.67 577.00V592.80M636.00 577.00V592.80M636.26 577.00V592.80M641.32 577.00V592.80M641.61 577.00V592.80M643.21 577.00V592.80M644.60 577.00V592.80M646.81 577.00V592.80M648.09 577.00V592.80M648.50 577.00V592.80M650.60 577.00V592.80M658.72 577.00V592.80" stroke="#000" stroke-width="0.6"/>
<rect x="511.40" y="592.80" width="50.85" height="5.70" fill="#DC2A24" stroke="none" stroke-width="1"/>
<rect x="562.20" y="592.80" width="25.75" height="5.70" fill="#E85A45" stroke="none" stroke-width="1"/>
<rect x="587.90" y="592.80" width="19.95" height="5.70" fill="#EFA58F" stroke="none" stroke-width="1"/>
<rect x="607.80" y="592.80" width="16.35" height="5.70" fill="#F8E3DA" stroke="none" stroke-width="1"/>
<rect x="624.10" y="592.80" width="12.95" height="5.70" fill="#E6EEF7" stroke="none" stroke-width="1"/>
<rect x="637.00" y="592.80" width="11.75" height="5.70" fill="#B7D1E9" stroke="none" stroke-width="1"/>
<rect x="648.70" y="592.80" width="10.55" height="5.70" fill="#4A8BC9" stroke="none" stroke-width="1"/>
<line x1="511.40" y1="598.50" x2="659.20" y2="598.50" stroke="#000" stroke-width="0.5"/>
<path d="M511.40 620.30L511.40 610.71L513.25 612.76L515.10 614.25L516.94 615.34L518.79 616.15L520.64 616.76L522.49 617.22L524.33 617.58L526.18 617.87L528.03 618.10L529.88 618.30L531.72 618.46L533.57 618.60L535.42 618.73L537.26 618.84L539.11 618.94L540.96 619.04L542.81 619.12L544.65 619.20L546.50 619.28L548.35 619.35L550.20 619.42L552.04 619.48L553.89 619.55L555.74 619.60L557.59 619.66L559.43 619.71L561.28 619.77L563.13 619.82L564.98 619.87L566.83 619.91L568.67 619.96L570.52 620.00L572.37 620.05L574.22 620.09L576.06 620.13L577.91 620.17L579.76 620.21L581.61 620.25L583.45 620.29L585.30 620.32L587.15 620.36L589.00 620.40L590.84 620.43L592.69 620.47L594.54 620.50L596.38 620.54L598.23 620.57L600.08 620.60L601.93 620.64L603.77 620.67L605.62 620.70L607.47 620.74L609.32 620.77L611.17 620.80L613.01 620.83L614.86 620.87L616.71 620.90L618.56 620.93L620.40 620.96L622.25 620.99L624.10 621.02L625.95 621.05L627.79 621.09L629.64 621.12L631.49 621.15L633.34 621.18L635.18 621.21L637.03 621.24L638.88 621.27L640.73 621.30L642.57 621.33L644.42 621.36L646.27 621.47L648.12 621.72L649.96 622.13L651.81 622.68L653.66 623.39L655.51 624.24L657.35 625.25L659.20 626.40L659.20 620.30Z" fill="#C4C4C4" stroke="none" stroke-width="1"/>
<line x1="511.40" y1="620.30" x2="659.20" y2="620.30" stroke="#CFCFCF" stroke-width="0.7"/>
<rect x="511.40" y="598.50" width="147.80" height="42.30" fill="none" stroke="#000" stroke-width="0.8"/>
<rect x="511.40" y="497.80" width="147.80" height="143.00" fill="none" stroke="#000" stroke-width="0.8"/>
<line x1="511.40" y1="640.80" x2="659.20" y2="640.80" stroke="#8a8a8a" stroke-width="1.2"/>
<line x1="509.00" y1="598.50" x2="511.40" y2="598.50" stroke="#000" stroke-width="0.6"/>
<text x="507.80" y="600.60" font-size="6.2" text-anchor="end" font-family='"Liberation Serif", serif'>5.0</text>
<line x1="509.00" y1="609.40" x2="511.40" y2="609.40" stroke="#000" stroke-width="0.6"/>
<text x="507.80" y="611.50" font-size="6.2" text-anchor="end" font-family='"Liberation Serif", serif'>2.5</text>
<line x1="509.00" y1="620.30" x2="511.40" y2="620.30" stroke="#000" stroke-width="0.6"/>
<text x="507.80" y="622.40" font-size="6.2" text-anchor="end" font-family='"Liberation Serif", serif'>0.0</text>
<line x1="509.00" y1="631.20" x2="511.40" y2="631.20" stroke="#000" stroke-width="0.6"/>
<text x="507.80" y="633.30" font-size="6.2" text-anchor="end" font-family='"Liberation Serif", serif'>-2.5</text>
<line x1="511.40" y1="640.80" x2="511.40" y2="643.20" stroke="#000" stroke-width="0.6"/>
<text x="511.40" y="647.20" font-size="6.4" text-anchor="middle" font-family='"Liberation Serif", serif'>0</text>
<line x1="551.78" y1="640.80" x2="551.78" y2="643.20" stroke="#000" stroke-width="0.6"/>
<text x="551.78" y="647.20" font-size="6.4" text-anchor="middle" font-family='"Liberation Serif", serif'>10000</text>
<line x1="592.17" y1="640.80" x2="592.17" y2="643.20" stroke="#000" stroke-width="0.6"/>
<text x="592.17" y="647.20" font-size="6.4" text-anchor="middle" font-family='"Liberation Serif", serif'>20000</text>
<line x1="632.55" y1="640.80" x2="632.55" y2="643.20" stroke="#000" stroke-width="0.6"/>
<text x="632.55" y="647.20" font-size="6.4" text-anchor="middle" font-family='"Liberation Serif", serif'>30000</text>
<text x="585.30" y="656.80" font-size="6.1" text-anchor="middle" font-family='"Liberation Serif", serif'>Rank in Ordered Dataset</text>
<text x="496.50" y="537.40" font-size="6.0" text-anchor="middle" font-family='"Liberation Serif", serif' transform="rotate(-90 496.50 537.40)">Enrichment Score</text>
<text x="494.00" y="620.65" font-size="6.1" text-anchor="middle" font-family='"Liberation Serif", serif' transform="rotate(-90 494.00 620.65)">Ranked list metric</text>
<text transform="translate(8.80 697.70) scale(1 1.1)" font-size="18.6" font-weight="bold" font-family='"Liberation Serif", serif'>I</text>
<text x="20.00" y="761.30" font-size="6.8" text-anchor="start" font-family='"Liberation Serif", serif'>-2000bp</text>
<text x="76.00" y="761.30" font-size="6.6" text-anchor="start" font-family='"Liberation Serif", serif'>+30bp</text>
<line x1="21.70" y1="772.50" x2="184.60" y2="772.50" stroke="#6F8FD0" stroke-width="0.6"/>
<rect x="28.00" y="764.00" width="56.80" height="17.00" fill="#B4C6E7" stroke="#8FAADC" stroke-width="0.6"/>
<rect x="91.00" y="764.00" width="87.00" height="17.00" fill="#F8F3C8" stroke="#EEE3A8" stroke-width="0.6"/>
<text x="57.60" y="774.90" font-size="6.75" text-anchor="middle" font-family='"Liberation Serif", serif'>TNC promotor</text>
<text x="131.60" y="774.90" font-size="6.7" text-anchor="middle" font-family='"Liberation Serif", serif'>Luciferase</text>
<line x1="21.70" y1="832.40" x2="184.60" y2="832.40" stroke="#6F8FD0" stroke-width="0.6"/>
<rect x="28.00" y="823.70" width="56.80" height="17.00" fill="#B4C6E7" stroke="#8FAADC" stroke-width="0.6"/>
<rect x="91.00" y="823.70" width="87.00" height="17.00" fill="#F8F3C8" stroke="#EEE3A8" stroke-width="0.6"/>
<text x="57.60" y="834.80" font-size="6.75" text-anchor="middle" font-family='"Liberation Serif", serif'>TNC promotor</text>
<text x="131.60" y="834.80" font-size="6.7" text-anchor="middle" font-family='"Liberation Serif", serif'>Luciferase</text>
<line x1="101.00" y1="785.00" x2="101.00" y2="804.40" stroke="#111" stroke-width="0.75"/>
<path d="M98.9 800.8L101 804.4L103.1 800.8" fill="none" stroke="#111" stroke-width="0.75"/>
<line x1="101.00" y1="844.70" x2="101.00" y2="864.60" stroke="#111" stroke-width="0.75"/>
<path d="M98.9 861.0L101 864.6L103.1 861.0" fill="none" stroke="#111" stroke-width="0.75"/>
<circle cx="39.20" cy="817.40" r="10.60" fill="#EBA1AE" stroke="#E28E9D" stroke-width="0.5"/>
<text x="38.90" y="819.60" font-size="6.5" text-anchor="middle" font-family='"Liberation Serif", serif'>CREB5</text>
<path d="M51.9 823.5V813.2H78.5" fill="none" stroke="#4472C4" stroke-width="1.5"/>
<path d="M76.5 809.8L81.3 813.2L76.5 816.6" fill="none" stroke="#4472C4" stroke-width="1.5"/>
<polygon points="103.47,865.32 105.61,873.47 110.47,870.62 109.87,876.23 117.28,875.27 112.18,880.74 116.08,883.47 111.93,885.81 116.88,892.03 109.17,890.07 109.44,896.15 104.66,892.38 101.78,899.28 99.59,892.13 95.00,894.56 95.33,889.37 87.03,890.78 93.02,884.86 88.12,882.08 93.27,879.79 89.16,874.12 96.03,875.53 96.21,870.34 100.54,873.22" fill="#F3F32E" stroke="#EDED40" stroke-width="0.4"/>
<text x="103.80" y="885.20" font-size="6.9" text-anchor="middle" font-family='"Liberation Serif", serif'>Light</text>
<text transform="translate(211.30 697.70) scale(1 1.1)" font-size="18.6" font-weight="bold" font-family='"Liberation Serif", serif'>J</text>
<line x1="250.00" y1="849.80" x2="255.50" y2="849.80" stroke="#000" stroke-width="1.1"/>
<text x="248.30" y="852.60" font-size="7.9" text-anchor="end" font-family='"Liberation Serif", serif' font-weight="bold">0.0</text>
<line x1="250.00" y1="825.66" x2="255.50" y2="825.66" stroke="#000" stroke-width="1.1"/>
<text x="248.30" y="828.46" font-size="7.9" text-anchor="end" font-family='"Liberation Serif", serif' font-weight="bold">0.2</text>
<line x1="250.00" y1="801.52" x2="255.50" y2="801.52" stroke="#000" stroke-width="1.1"/>
<text x="248.30" y="804.32" font-size="7.9" text-anchor="end" font-family='"Liberation Serif", serif' font-weight="bold">0.4</text>
<line x1="250.00" y1="777.38" x2="255.50" y2="777.38" stroke="#000" stroke-width="1.1"/>
<text x="248.30" y="780.18" font-size="7.9" text-anchor="end" font-family='"Liberation Serif", serif' font-weight="bold">0.6</text>
<line x1="250.00" y1="753.24" x2="255.50" y2="753.24" stroke="#000" stroke-width="1.1"/>
<text x="248.30" y="756.04" font-size="7.9" text-anchor="end" font-family='"Liberation Serif", serif' font-weight="bold">0.8</text>
<line x1="250.00" y1="729.10" x2="255.50" y2="729.10" stroke="#000" stroke-width="1.1"/>
<text x="248.30" y="731.90" font-size="7.9" text-anchor="end" font-family='"Liberation Serif", serif' font-weight="bold">1.0</text>
<rect x="265.65" y="842.05" width="16.50" height="7.75" fill="#000000" stroke="#000000" stroke-width="1.5"/>
<line x1="273.90" y1="849.80" x2="273.90" y2="854.20" stroke="#000" stroke-width="1.0"/>
<rect x="293.15" y="843.05" width="16.50" height="6.75" fill="#D9A35B" stroke="#3a2a1a" stroke-width="1.5"/>
<line x1="301.40" y1="849.80" x2="301.40" y2="854.20" stroke="#000" stroke-width="1.0"/>
<line x1="329.10" y1="773.00" x2="329.10" y2="770.50" stroke="#2F5488" stroke-width="1.0"/>
<line x1="324.40" y1="770.50" x2="333.80" y2="770.50" stroke="#2F5488" stroke-width="1.0"/>
<rect x="320.85" y="773.75" width="16.50" height="76.05" fill="#9AB5D6" stroke="#2F5488" stroke-width="1.5"/>
<line x1="329.10" y1="849.80" x2="329.10" y2="854.20" stroke="#000" stroke-width="1.0"/>
<line x1="356.80" y1="755.40" x2="356.80" y2="750.20" stroke="#C8333B" stroke-width="1.0"/>
<line x1="352.10" y1="750.20" x2="361.50" y2="750.20" stroke="#C8333B" stroke-width="1.0"/>
<rect x="348.75" y="756.15" width="16.10" height="93.65" fill="#E08A8C" stroke="#C8333B" stroke-width="1.5"/>
<line x1="356.80" y1="849.80" x2="356.80" y2="854.20" stroke="#000" stroke-width="1.0"/>
<line x1="255.50" y1="729.10" x2="255.50" y2="850.40" stroke="#000" stroke-width="1.3"/>
<line x1="254.90" y1="849.80" x2="375.50" y2="849.80" stroke="#000" stroke-width="1.3"/>
<path d="M274 833.2V751.2H327.7V764.9" fill="none" stroke="#777" stroke-width="0.8"/>
<path d="M297.60 745.40L297.60 748.60M296.21 746.20L298.99 747.80M298.99 746.20L296.21 747.80M301.10 745.40L301.10 748.60M299.71 746.20L302.49 747.80M302.49 746.20L299.71 747.80M304.60 745.40L304.60 748.60M303.21 746.20L305.99 747.80M305.99 746.20L303.21 747.80" stroke="#333" stroke-width="0.95" stroke-linecap="round"/>
<path d="M329.4 764.9V738.3H356.9V743.6" fill="none" stroke="#777" stroke-width="0.8"/>
<path d="M340.95 733.80L340.95 737.00M339.56 734.60L342.34 736.20M342.34 734.60L339.56 736.20M344.45 733.80L344.45 737.00M343.06 734.60L345.84 736.20M345.84 734.60L343.06 736.20" stroke="#333" stroke-width="0.95" stroke-linecap="round"/>
<path d="M274 837V833.2H301.1V837.9" fill="none" stroke="#777" stroke-width="0.8"/>
<text x="287.50" y="831.40" font-size="7.8" text-anchor="middle" font-family='"Liberation Serif", serif' fill="#333">ns</text>
<text x="233.20" y="790.00" font-size="8.1" text-anchor="middle" font-family='"Liberation Serif", serif' font-weight="bold" transform="rotate(-90 233.20 790.00)">Relative Luciferase Activity</text>
<text x="275.30" y="863.70" font-size="8.3" text-anchor="end" font-family='"Liberation Serif", serif' font-weight="bold" transform="rotate(-45 275.30 863.70)">TNC promoter-luc-NC+CREB5-NC</text>
<text x="302.80" y="863.70" font-size="8.3" text-anchor="end" font-family='"Liberation Serif", serif' font-weight="bold" transform="rotate(-45 302.80 863.70)">TNC promoter-luc-NC+CREB5</text>
<text x="330.50" y="863.70" font-size="8.3" text-anchor="end" font-family='"Liberation Serif", serif' font-weight="bold" transform="rotate(-45 330.50 863.70)">TNC promoter-luc+CREB5-NC</text>
<text x="358.20" y="863.70" font-size="8.3" text-anchor="end" font-family='"Liberation Serif", serif' font-weight="bold" transform="rotate(-45 358.20 863.70)">TNC promoter-luc+CREB5</text>
<text transform="translate(425.80 697.70) scale(1 1.1)" font-size="18.6" font-weight="bold" font-family='"Liberation Serif", serif'>K</text>
<line x1="428.80" y1="740.90" x2="680.60" y2="740.90" stroke="#000" stroke-width="1.2"/>
<line x1="450.60" y1="736.60" x2="441.10" y2="727.10" stroke="#000" stroke-width="0.7"/>
<line x1="489.90" y1="736.60" x2="501.90" y2="727.10" stroke="#000" stroke-width="0.7"/>
<rect x="450.60" y="736.50" width="39.30" height="10.00" fill="#4472C4" stroke="none" stroke-width="1"/>
<text x="470.25" y="744.30" font-size="8.2" text-anchor="middle" font-family='"Liberation Serif", serif' font-weight="bold" fill="#fff">site 1</text>
<text x="470.45" y="725.60" font-size="7.25" text-anchor="middle" font-family='"Liberation Serif", serif'>TATGACATGACT</text>
<text x="448.40" y="756.50" font-size="6.0" text-anchor="middle" font-family='"Liberation Serif", serif'>-1672</text>
<text x="488.70" y="756.50" font-size="6.0" text-anchor="middle" font-family='"Liberation Serif", serif'>-1661</text>
<line x1="517.40" y1="736.60" x2="508.00" y2="727.10" stroke="#000" stroke-width="0.7"/>
<line x1="556.60" y1="736.60" x2="568.20" y2="727.10" stroke="#000" stroke-width="0.7"/>
<rect x="517.40" y="736.50" width="39.20" height="10.00" fill="#4472C4" stroke="none" stroke-width="1"/>
<text x="537.00" y="744.30" font-size="8.2" text-anchor="middle" font-family='"Liberation Serif", serif' font-weight="bold" fill="#fff">site 2</text>
<text x="537.20" y="725.60" font-size="7.25" text-anchor="middle" font-family='"Liberation Serif", serif'>GATGACCTAATC</text>
<text x="515.20" y="756.50" font-size="6.0" text-anchor="middle" font-family='"Liberation Serif", serif'>-1583</text>
<text x="555.40" y="756.50" font-size="6.0" text-anchor="middle" font-family='"Liberation Serif", serif'>-1572</text>
<line x1="583.80" y1="736.60" x2="574.90" y2="727.10" stroke="#000" stroke-width="0.7"/>
<line x1="623.70" y1="736.60" x2="635.70" y2="727.10" stroke="#000" stroke-width="0.7"/>
<rect x="583.80" y="736.50" width="39.90" height="10.00" fill="#4472C4" stroke="none" stroke-width="1"/>
<text x="603.75" y="744.30" font-size="8.2" text-anchor="middle" font-family='"Liberation Serif", serif' font-weight="bold" fill="#fff">site 3</text>
<text x="603.95" y="725.60" font-size="7.25" text-anchor="middle" font-family='"Liberation Serif", serif'>GATGATATCATT</text>
<text x="581.60" y="756.50" font-size="6.0" text-anchor="middle" font-family='"Liberation Serif", serif'>-1509</text>
<text x="622.50" y="756.50" font-size="6.0" text-anchor="middle" font-family='"Liberation Serif", serif'>-1498</text>
<path d="M647.4 741V730.4H672.2" fill="none" stroke="#000" stroke-width="0.7"/>
<path d="M669 727.9L672.7 730.4L669 732.9" fill="none" stroke="#000" stroke-width="0.7"/>
<text x="659.40" y="727.50" font-size="8.0" text-anchor="middle" font-family='"Liberation Serif", serif'>TSS</text>
<text x="651.10" y="757.90" font-size="7.7" text-anchor="middle" font-family='"Liberation Serif", serif'>+1</text>
<line x1="447.50" y1="919.00" x2="451.70" y2="919.00" stroke="#000" stroke-width="1.1"/>
<text x="446.20" y="921.80" font-size="8.0" text-anchor="end" font-family='"Liberation Serif", serif' font-weight="bold">0.0</text>
<line x1="447.50" y1="873.20" x2="451.70" y2="873.20" stroke="#000" stroke-width="1.1"/>
<text x="446.20" y="876.00" font-size="8.0" text-anchor="end" font-family='"Liberation Serif", serif' font-weight="bold">0.2</text>
<line x1="447.50" y1="827.40" x2="451.70" y2="827.40" stroke="#000" stroke-width="1.1"/>
<text x="446.20" y="830.20" font-size="8.0" text-anchor="end" font-family='"Liberation Serif", serif' font-weight="bold">0.4</text>
<line x1="447.50" y1="781.60" x2="451.70" y2="781.60" stroke="#000" stroke-width="1.1"/>
<text x="446.20" y="784.40" font-size="8.0" text-anchor="end" font-family='"Liberation Serif", serif' font-weight="bold">0.6</text>
<line x1="468.40" y1="876.90" x2="468.40" y2="872.60" stroke="#F0747C" stroke-width="1.0"/>
<line x1="464.20" y1="872.60" x2="472.60" y2="872.60" stroke="#F0747C" stroke-width="1.0"/>
<rect x="460.00" y="876.90" width="16.80" height="42.10" fill="#F0747C" stroke="none" stroke-width="1"/>
<rect x="485.10" y="918.77" width="16.80" height="0.90" fill="#3A8CC6" stroke="none" stroke-width="1"/>
<line x1="480.70" y1="919.00" x2="480.70" y2="923.20" stroke="#000" stroke-width="1.1"/>
<line x1="535.50" y1="804.30" x2="535.50" y2="796.40" stroke="#F0747C" stroke-width="1.0"/>
<line x1="531.30" y1="796.40" x2="539.70" y2="796.40" stroke="#F0747C" stroke-width="1.0"/>
<rect x="527.10" y="804.30" width="16.80" height="114.70" fill="#F0747C" stroke="none" stroke-width="1"/>
<rect x="552.20" y="915.34" width="16.80" height="3.66" fill="#3A8CC6" stroke="none" stroke-width="1"/>
<line x1="547.80" y1="919.00" x2="547.80" y2="923.20" stroke="#000" stroke-width="1.1"/>
<line x1="602.10" y1="844.00" x2="602.10" y2="834.50" stroke="#F0747C" stroke-width="1.0"/>
<line x1="597.90" y1="834.50" x2="606.30" y2="834.50" stroke="#F0747C" stroke-width="1.0"/>
<rect x="593.70" y="844.00" width="16.80" height="75.00" fill="#F0747C" stroke="none" stroke-width="1"/>
<rect x="618.80" y="916.71" width="16.80" height="2.29" fill="#3A8CC6" stroke="none" stroke-width="1"/>
<line x1="614.40" y1="919.00" x2="614.40" y2="923.20" stroke="#000" stroke-width="1.1"/>
<line x1="451.70" y1="781.60" x2="451.70" y2="919.60" stroke="#000" stroke-width="1.3"/>
<line x1="451.10" y1="919.00" x2="644.20" y2="919.00" stroke="#000" stroke-width="1.3"/>
<path d="M468.4 870.1V866.2H493.6V871.6" fill="none" stroke="#222" stroke-width="0.8"/>
<path d="M477.80 860.60L477.80 863.80M476.41 861.40L479.19 863.00M479.19 861.40L476.41 863.00M481.30 860.60L481.30 863.80M479.91 861.40L482.69 863.00M482.69 861.40L479.91 863.00M484.80 860.60L484.80 863.80M483.41 861.40L486.19 863.00M486.19 861.40L483.41 863.00" stroke="#222" stroke-width="0.95" stroke-linecap="round"/>
<path d="M534.3 796.4V789.9H560.4V795.6" fill="none" stroke="#222" stroke-width="0.8"/>
<path d="M544.15 784.30L544.15 787.50M542.76 785.10L545.54 786.70M545.54 785.10L542.76 786.70M547.65 784.30L547.65 787.50M546.26 785.10L549.04 786.70M549.04 785.10L546.26 786.70M551.15 784.30L551.15 787.50M549.76 785.10L552.54 786.70M552.54 785.10L549.76 786.70" stroke="#222" stroke-width="0.95" stroke-linecap="round"/>
<path d="M602.1 831.7V826.4H627.7V831.7" fill="none" stroke="#222" stroke-width="0.8"/>
<path d="M611.70 820.80L611.70 824.00M610.31 821.60L613.09 823.20M613.09 821.60L610.31 823.20M615.20 820.80L615.20 824.00M613.81 821.60L616.59 823.20M616.59 821.60L613.81 823.20M618.70 820.80L618.70 824.00M617.31 821.60L620.09 823.20M620.09 821.60L617.31 823.20" stroke="#222" stroke-width="0.95" stroke-linecap="round"/>
<rect x="593.00" y="786.10" width="12.00" height="3.80" fill="#F0747C" stroke="none" stroke-width="1"/>
<text x="610.70" y="790.30" font-size="7.5" text-anchor="start" font-family='"Liberation Serif", serif'>anti-CREB5</text>
<rect x="593.00" y="798.80" width="12.00" height="3.80" fill="#3A8CC6" stroke="none" stroke-width="1"/>
<text x="610.70" y="803.20" font-size="7.5" text-anchor="start" font-family='"Liberation Serif", serif'>anti-igG</text>
<text x="480.3" y="932.5" font-size="7.5" text-anchor="middle" font-family='"Liberation Serif", serif' font-weight="bold" xml:space="preserve">TNC  site1</text>
<text x="547.5" y="932.5" font-size="7.5" text-anchor="middle" font-family='"Liberation Serif", serif' font-weight="bold" xml:space="preserve">TNC  site2</text>
<text x="614.3" y="932.5" font-size="7.5" text-anchor="middle" font-family='"Liberation Serif", serif' font-weight="bold" xml:space="preserve">TNC  site3</text>
<text x="430.30" y="850.80" font-size="8.95" text-anchor="middle" font-family='"Liberation Serif", serif' font-weight="bold" transform="rotate(-90 430.30 850.80)">Relative enrichment to input (%)</text>
</svg></body></html>
